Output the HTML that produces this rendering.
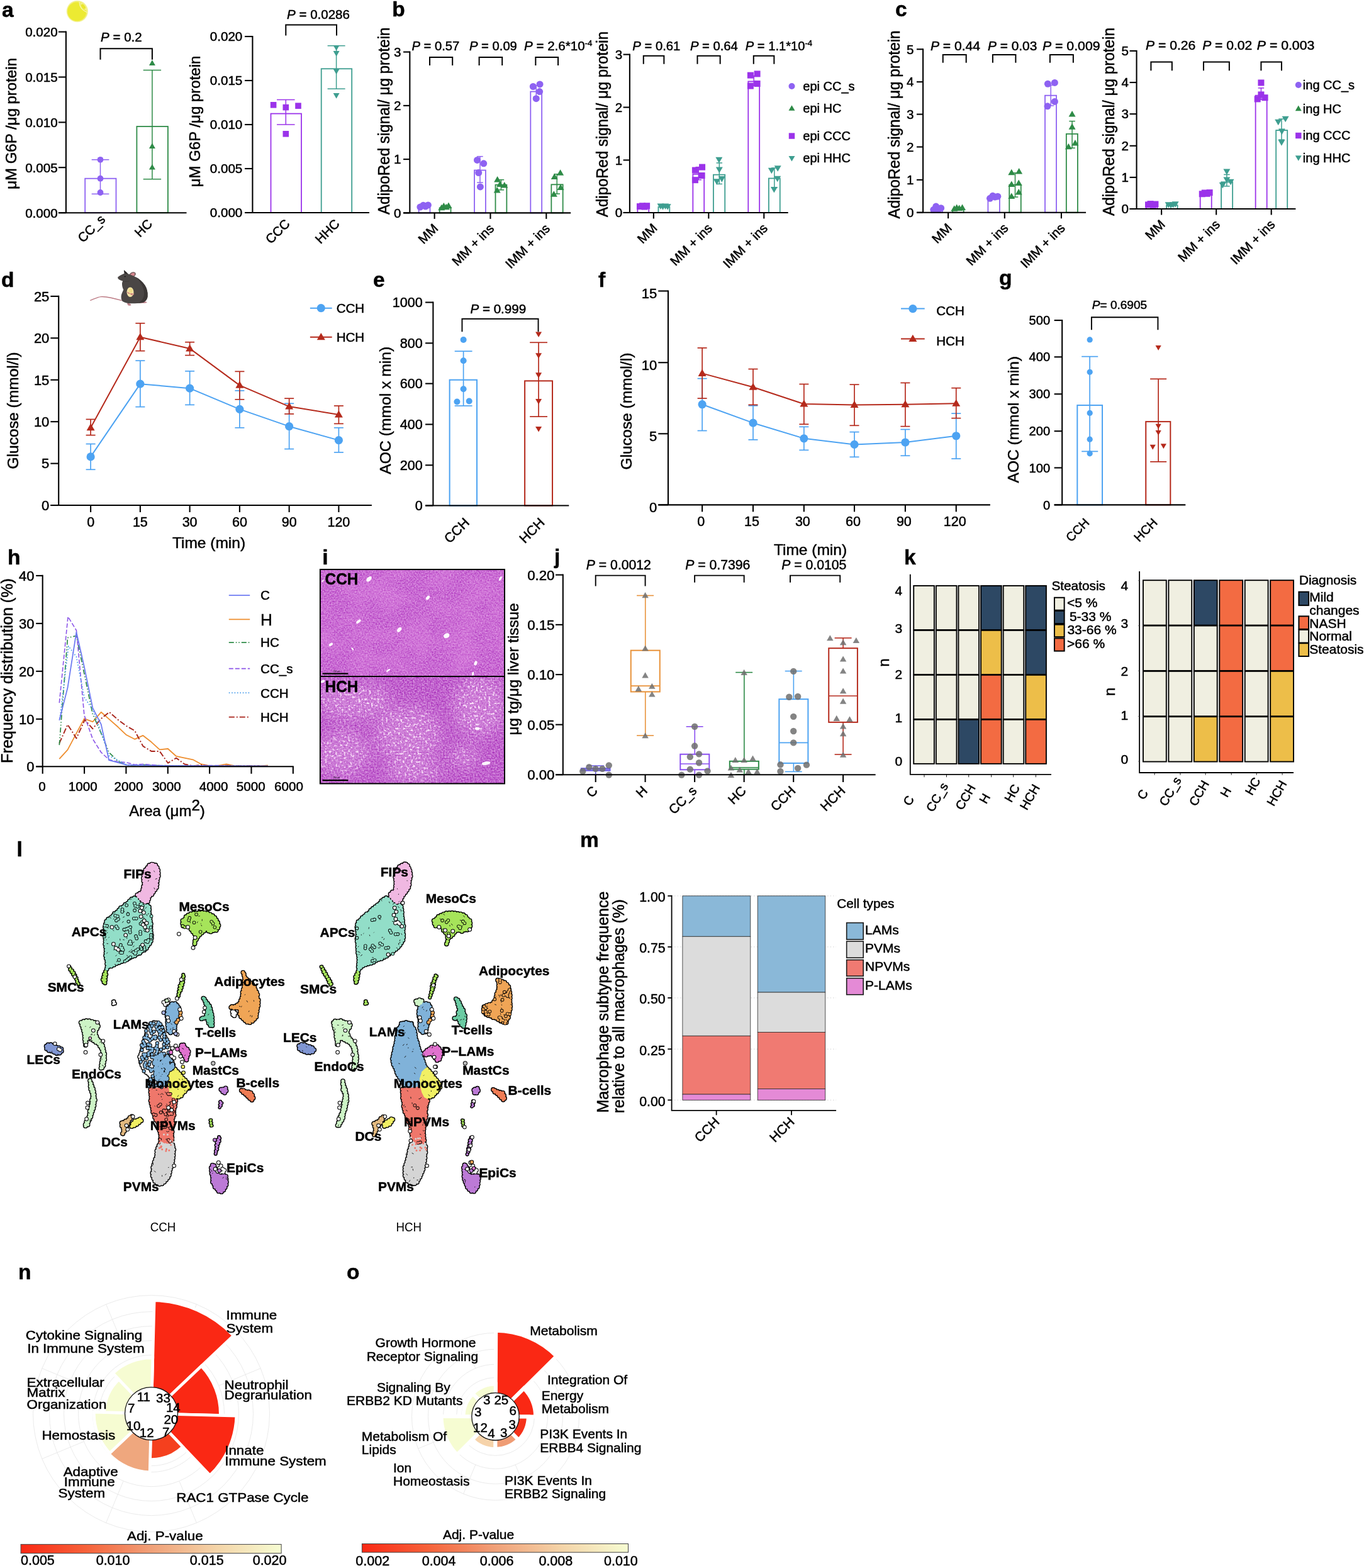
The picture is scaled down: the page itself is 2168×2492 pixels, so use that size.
<!DOCTYPE html>
<html lang="en">
<head>
<meta charset="utf-8">
<title>Figure</title>
<style>
html,body{margin:0;padding:0;background:#fff;}
body{width:2168px;height:2492px;overflow:hidden;}
svg{display:block;font-family:'Liberation Sans', Arial, Helvetica, sans-serif;}
text{stroke:#000;stroke-width:0.5px;stroke-linejoin:round;}
text.ns{stroke:none;}
</style>
</head>
<body>
<svg width="2168" height="2492" viewBox="0 0 2168 2492">
<defs>
<filter id="histA" x="0" y="0" width="100%" height="100%" color-interpolation-filters="sRGB">
<feTurbulence type="fractalNoise" baseFrequency="0.45" numOctaves="2" seed="7" result="n"/>
<feColorMatrix in="n" type="matrix" values="0.30 0 0 0 0.635  0.62 0 0 0 0.105  0.24 0 0 0 0.705  0 0 0 0 1" result="c"/>
<feTurbulence type="fractalNoise" baseFrequency="0.025" numOctaves="2" seed="11" result="lf"/>
<feColorMatrix in="lf" type="matrix" values="0 0 0 0 0.90  0 0 0 0 0.58  0 0 0 0 0.90  0.8 0 0 0 -0.30" result="lfa"/>
<feComposite in="lfa" in2="c" operator="over"/>
</filter>
<filter id="histB" x="0" y="0" width="100%" height="100%" color-interpolation-filters="sRGB">
<feTurbulence type="fractalNoise" baseFrequency="0.42" numOctaves="2" seed="23" result="n"/>
<feColorMatrix in="n" type="matrix" values="0.34 0 0 0 0.585  0.70 0 0 0 0.035  0.27 0 0 0 0.67  0 0 0 0 1"/>
</filter>
<filter id="spkB" x="0" y="0" width="100%" height="100%" color-interpolation-filters="sRGB">
<feTurbulence type="fractalNoise" baseFrequency="0.30" numOctaves="1" seed="5" result="sp"/>
<feColorMatrix in="sp" type="matrix" values="0 0 0 0 0.97  0 0 0 0 0.86  0 0 0 0 0.97  0 10 0 0 -5.75"/>
</filter>
<filter id="blB" x="-30%" y="-30%" width="160%" height="160%"><feGaussianBlur stdDeviation="11"/></filter>
<clipPath id="clB"><rect x="508.9" y="1075" width="293.1" height="170.4"/></clipPath>
<mask id="mkB" maskUnits="userSpaceOnUse" x="500" y="1070" width="310" height="180"><g filter="url(#blB)"><ellipse cx="561.2" cy="1113.4" rx="57.7" ry="29.7" fill="#fff"/><ellipse cx="648.5" cy="1167.6" rx="50.7" ry="45.4" fill="#fff"/><ellipse cx="762.1" cy="1122.2" rx="41.9" ry="47.2" fill="#fff"/><ellipse cx="543.7" cy="1197.3" rx="41.9" ry="34.9" fill="#fff"/><ellipse cx="657.3" cy="1225.3" rx="45.4" ry="17.5" fill="#fff"/><ellipse cx="737.7" cy="1202.6" rx="21.0" ry="17.5" fill="#fff"/></g></mask>

<filter id="wob" x="-5%" y="-5%" width="110%" height="110%"><feTurbulence type="fractalNoise" baseFrequency="0.22" numOctaves="2" seed="4" result="t"/><feDisplacementMap in="SourceGraphic" in2="t" scale="4.2" xChannelSelector="R" yChannelSelector="G"/></filter>
<path id="bL2" d="M169.7 1539.9 172.5 1536.1 178 1535.2 183 1532.3 186.7 1530.3 190.9 1529.5 195.2 1527.1 200.6 1525.6 204 1523.6 209.4 1520.4 213.6 1519.6 216.9 1516.4 222.4 1514.7 223.9 1511.7 228.7 1510.3 231.9 1508.1 233.7 1505.4 235.8 1501.4 239.1 1498.3 240.4 1493.5 241.2 1487.7 240.1 1483.2 239.7 1478.1 239.5 1473.2 240.1 1469 239.1 1464.4 238.4 1461.5 238.7 1456.5 237.3 1452.4 236.8 1447.3 238 1443.5 235.5 1438.6 231.9 1440.5 228.8 1438.8 224.8 1436.5 220.5 1435.1 218.5 1430 214.7 1426.3 213.3 1427.3 209 1429.1 206.5 1431.3 203.1 1435.6 199.4 1437.2 197.1 1440.8 191.9 1442.8 188.6 1447 186.5 1449.5 181.6 1452 180.1 1454.9 176.6 1458.1 171.2 1461.3 169.1 1464.4 167.6 1469.3 166.8 1473.6 167.2 1479.7 167.8 1483.4 166.8 1488.2 167.8 1494.7 166.9 1499.3 167.7 1503.4 168.5 1508.5 168.9 1512.8 167.8 1516.7 168.3 1522.2 170.4 1526.3 169.7 1529 170.5 1536.3Z"/>
<path id="bL3" d="M241.1 1373.6 237.9 1374.1 235.1 1378.1 231.3 1382.5 229.4 1386.1 228.6 1391 227.7 1396.4 228.4 1400.8 229.5 1403.8 227.5 1410.6 226.9 1415.7 226.8 1417 224.1 1418.6 220.6 1420.8 217.5 1422.8 221.8 1426.5 224.6 1430.5 227.7 1432.5 231.3 1434.4 235.4 1432.6 236.4 1428.1 238.1 1423.8 241.9 1421.3 244.4 1416.4 246.6 1413.8 249.2 1409.7 249.5 1405.3 249.8 1401.4 250.4 1396.9 251.7 1393.4 252.2 1389.9 251.3 1385.1 251.4 1381.8 249.4 1378.2 246.7 1374.1Z"/>
<path id="bL4" d="M167.5 1544.1 165.4 1548 164.9 1550.8 162.9 1558.3 166.5 1562.9 166.8 1563.7 167.5 1559.3 167.7 1556.1 168.1 1550.7 169.5 1546.9Z"/>
<path id="bL5" d="M290.3 1463.1 290.1 1469 290.9 1471.8 292 1470.3 296.3 1472.5 300.6 1471 301.7 1471.1 302.2 1475 304.1 1477.8 308.9 1483.6 311.2 1487.4 312.1 1492.9 314.9 1488.1 316.9 1485.8 321.1 1482.3 324.8 1479.2 326.9 1478 327.9 1476.6 328.8 1477.3 333.8 1481.5 337.3 1479.2 343.9 1478.5 347.9 1471.9 346.6 1467.7 345.8 1465.2 342.6 1460.3 340.3 1456.6 334.7 1453.7 329.2 1451.2 326.3 1451.2 322.3 1449.8 317.9 1450.7 313.6 1450.8 309 1451.9 305.9 1451 300.3 1454 296.3 1455.4 293.9 1460.9ZM309.8 1495.4 309.4 1499.4 309.6 1501.6Z"/>
<path id="bL6" d="M110.3 1536.5 111 1540.7 112.3 1543.1 114.9 1546.5 117.1 1550.9 120 1554 122 1558.5 122.6 1562 125.9 1565.5 125 1564.7 124.3 1561.7 122.3 1557.9 121.4 1553.5 118.9 1549 116.5 1544.1 113.6 1540.8 110.6 1537.3Z"/>
<path id="bL7" d="M291.3 1549.2 289.8 1556.2 289.1 1559.1 286.9 1564.2 285.4 1566.9 284.8 1572.4 283.8 1576.8 283.5 1580 282.5 1584.9 283.8 1585.6 284.3 1579.7 286.9 1575.2 288.3 1572 289.2 1567.7 291.1 1562.7 291.3 1558.1 292 1553 292.5 1550Z"/>
<path id="bL8" d="M369.5 1608 370.5 1614.8 371.7 1615 374.1 1612 373.7 1608Z"/>
<path id="bL9" d="M386.3 1545.6 388.9 1553.6 388.5 1558 388.8 1564.6 388 1568 386.5 1573.1 385.5 1576.5 385.4 1581.4 384.8 1585 383.3 1588.8 381.5 1593 380.9 1594.7 378.9 1596 374.9 1598.9 372.1 1599.8 366.5 1599.6 366.2 1600.9 366.6 1600.9 371.3 1602.3 378.5 1601.8 380 1602.8 380.7 1602.8 381.7 1607 381 1611.4 382.6 1615.3 384.6 1617.6 388.8 1620.1 390.2 1623.5 396.4 1625.6 402.7 1622.1 405.1 1618.9 408.1 1615.4 407.5 1612.8 408.6 1607.9 409.1 1603.3 410.4 1599.2 410.6 1594.1 410.8 1589.2 408.6 1585.1 409.5 1580.1 408.4 1577.7 405.4 1572.1 403.9 1566.5 399.8 1564 397 1561 394.3 1557 389.5 1554.9 388.1 1550.4 387.8 1547.1Z"/>
<path id="bL10" d="M323.3 1586.6 326.9 1592.9 327.1 1596.1 329.1 1601 329 1604 328.9 1607.6 328.6 1611.7 327.4 1615.8 326.2 1617.4 321.1 1618.3 319.3 1617.9 320.9 1619.8 326.4 1616.9 327.7 1617.3 328.3 1617.5 330.5 1621.4 331.4 1625.9 335.7 1631.6 337.6 1630 337.6 1626.8 337.4 1621.9 337.4 1617.5 337.1 1613.8 336.2 1610.6 334.7 1605 333.9 1600.3 331.7 1596.6 327.7 1592.4 323.8 1585.9Z"/>
<path id="bL11" d="M179.9 1591.6 179.1 1594 180.1 1596.5 182.1 1596.7 183.1 1594.4 182 1591.2Z"/>
<path id="bL12" d="M128.6 1625.1 130.7 1631 132 1634.6 133.4 1640.1 134.6 1645.4 134.5 1650.9 135.2 1655.5 135.9 1661.1 137 1655.3 137 1651.5 138.7 1649.9 139.6 1650.2 144.2 1651.2 147.7 1653.2 151.1 1655.9 156 1658 158.1 1661.4 161.1 1665.7 163.1 1670.6 164.3 1676.6 162.8 1681.6 161.9 1686.1 161.1 1691.8 160.8 1695.5 160.4 1698.5 160.4 1699.2 164.4 1694.5 165 1688.9 166.4 1683.7 166 1679.1 166.3 1674.3 164.3 1668.3 164.1 1664.7 162.9 1661.4 161.8 1657.8 157.1 1653.3 153.2 1649 153.4 1645.5 150.8 1641.1 152.1 1638.9 153.1 1636.2 156.2 1632.4 155.6 1627.2 150.5 1624.8 145.6 1623.4 140.2 1622.1 135.4 1622.3 132.4 1623.4Z"/>
<path id="bL13" d="M142.9 1717.4 143.6 1721.8 143.5 1728 144.7 1733.3 145.9 1735.7 147.8 1741.6 146.9 1746 145.4 1749.4 146.4 1754.7 144.1 1759.1 143.8 1762.2 142.2 1767.1 142.4 1772 140.9 1776.3 138.4 1780.2 136.6 1784.2 134.7 1790.3 135.3 1789.6 139.5 1788.4 140.1 1783.5 142.9 1778.1 144.7 1774 145.8 1768.6 148 1762.9 149.5 1757.9 149.4 1753.7 151.2 1748.8 149.8 1744.6 150.1 1741.6 149.2 1735.6 148.4 1731.3 146.5 1726.9 145.3 1722.5Z"/>
<path id="bL14" d="M73.6 1662.7 72.9 1665.7 77.4 1669.5 81.7 1670.3 86.1 1672.1 89.5 1674.5 95.8 1673.3 99.2 1668.5 97.9 1667.4 94.3 1665.2 89.9 1664.7 86.8 1662.8 83.4 1661.1 79.5 1659.7 76.8 1660.1Z"/>
<path id="bL15" d="M272.9 1595.4 270.4 1598.8 267.1 1601.1 266.4 1605.2 264.9 1610 265 1613.5 266.4 1618.8 266.1 1623.4 266.3 1627.4 267.1 1633.4 267.2 1637.7 271 1641.4 277.6 1638.7 278.3 1634.1 277.3 1629.9 280.1 1624.9 280.4 1620.1 282 1617.5 283.3 1612.3 284.1 1607.3 284.5 1602.2 281.3 1597.6 279.6 1594.8 275.6 1594.9Z"/>
<path id="bL16" d="M239.4 1628.1 236.3 1632.8 236.1 1636.2 233.7 1639.4 233 1643.8 231.2 1649.7 229.7 1654.1 228.5 1659.2 226.8 1665.2 225.4 1670.4 224.1 1675.3 221.9 1678.9 223.6 1684.6 224.2 1689.6 226.2 1694.2 228.7 1699 231.3 1702.9 234.6 1705.9 237.9 1708.3 239.8 1711.2 240.5 1713.5 238.9 1717.3 237.9 1721.2 239.5 1725.8 242.2 1725.2 245.9 1726.6 250.7 1727.1 255.2 1726.1 259.6 1725.6 264.9 1722.3 264.1 1718 263.4 1712.2 265.5 1708.5 267.1 1705.2 268.1 1701.6 271.2 1697.6 275.9 1695.4 274.8 1690.4 272.5 1685.7 271.6 1682.7 270.7 1677.6 269.6 1673.9 268.6 1669.7 268.3 1665.2 266.4 1660.4 265.5 1655.8 264.2 1651.4 262.4 1648.4 260.3 1644.6 259.3 1638.9 257.4 1634.5 254.7 1629.5 251.8 1627.7 247.4 1624.7 243.9 1625.4Z"/>
<path id="bL17" d="M288.3 1661.5 286.2 1667.2 290.7 1673.6 292.3 1677.1 295.1 1681.7 295.8 1685.1 296.4 1684.8 297.1 1680.5 299.1 1675.6 299.9 1670 297 1666.9 294.4 1665.6 291.1 1659.2Z"/>
<path id="bL18" d="M239.3 1731.1 239.3 1735.1 240 1740.8 240.4 1745.5 239.4 1748.9 240.3 1753.4 241.7 1758.7 242.6 1762.3 242.6 1766.5 245.3 1771.2 246.1 1776.7 248 1780.2 250.6 1782.8 252.1 1786.4 252.3 1790.5 253.2 1796 254.3 1799.5 255.6 1804.7 254.9 1811.4 259.3 1813.7 262.3 1815.5 266.6 1816.4 271.1 1816.1 273.7 1811.6 273.5 1808.4 272.8 1804.1 273.8 1799.5 273 1794.1 274.3 1790.2 275 1784.4 273.8 1780.2 275.2 1775.3 276.6 1772.1 276.3 1768 276.1 1763.9 277.9 1759.7 278.5 1753.2 279.5 1748.9 276.3 1747.5 271.8 1746.7 272.4 1745.3 269.2 1740.9 267 1737 267.3 1732.7 266.1 1728.8 262.6 1730.4 256 1731 251 1732 246.7 1731.1 243.1 1730.5Z"/>
<path id="bL19" d="M278 1699 274.5 1703.2 273.3 1705.1 270.7 1708.9 269.5 1715.2 269.4 1719.2 269.8 1726.1 270.5 1729.5 272 1735.4 273.6 1738.4 276.6 1741.4 281.7 1744.3 287.9 1741.9 290.4 1737 293.4 1735.2 296.1 1731.1 300.5 1728.4 297.8 1724.1 297.4 1720.1 294.6 1716.9 291.6 1714.4 287.6 1709.8 285.3 1706.7 283.1 1704.1Z"/>
<path id="bL20" d="M254.7 1816.4 253.2 1818.8 251.8 1822.6 249.8 1827.2 248.8 1831 249.4 1835.1 248.5 1840 246.7 1843 244.9 1848.7 244 1852.9 242.9 1856 243.7 1860.7 242.2 1863.6 242.7 1869.4 244.4 1873.2 246.4 1877.8 249.5 1880.1 255.8 1883 259.2 1879.7 262 1877.8 265.6 1873.2 268.3 1869.8 269.8 1863.9 270 1860.5 271.7 1856 273.8 1850.4 274.2 1846.9 275 1840.5 275.5 1836.8 275.5 1831 276.6 1825.9 275.1 1823 275.4 1819.2 273.1 1819.2 272.7 1821.3 266.4 1820.8 261.9 1820.4 257.8 1818.2Z"/>
<path id="bL21" d="M193.4 1784.7 193.7 1789.5 197.3 1795.6 196.7 1796.6 194.7 1802 194.2 1803.8 196.2 1799.9 198.3 1796.8 198.4 1792.7 201.3 1791 202.8 1787.5 203.6 1782.7 206.4 1778.6 209.9 1774.1 209.3 1775.1 206.5 1776 204.3 1779.5 200.7 1781.1 196.4 1783.6Z"/>
<path id="bL22" d="M210.7 1786.3 208.9 1790 210.3 1790.6 215.9 1787.7 219 1786.1 222.8 1782.2 225.4 1780.4 223.5 1778.8 221 1778.2 218.3 1780.8 214.2 1781.5Z"/>
<path id="bL23" d="M383.7 1732.9 384.9 1735.1 389.7 1738.5 395.8 1744.1 398.6 1747.4 400.9 1748.5 402.7 1745.5 401 1739.6 397.2 1734.9 392.1 1736.2 389.5 1733.5 384.7 1732.7Z"/>
<path id="bL24" d="M351.3 1731.5 354 1734.7 354.5 1737 358.3 1736.8 360 1732.5 358.7 1729.3 355.6 1731Z"/>
<path id="bL25" d="M349.6 1751.1 349.3 1755.2 349.1 1760.4 350.1 1760.6 352.8 1753.4 351.5 1749.9Z"/>
<path id="bL26" d="M348.1 1807.2 344.9 1813.6 343.9 1818.5 343.3 1821.5 344 1824.8 342.8 1829.8 342.7 1834.5 342.6 1833.6 343.9 1828.7 345.4 1826.2 345.9 1819.9 348.7 1814.5 348.7 1810.8 349.5 1807.8Z"/>
<path id="bL27" d="M334 1780.2 334.4 1787.3 336.2 1791 337.2 1790.4 336 1783.9 335.6 1779.9Z"/>
<path id="bL28" d="M337.6 1851.8 335.7 1856 336 1861.1 336.3 1864.8 337.4 1867.5 338.3 1872.9 337.3 1877.5 340.3 1882.2 341 1886 344.8 1889.3 346.7 1893 352 1894.2 354.8 1892.3 357.3 1888 359 1885 360.3 1880.4 359.6 1875.4 359.6 1870.1 357.5 1867.7 354 1867.5 350.6 1869.4 347.2 1867.1 343.8 1866.7 342.6 1864.6 342 1860.6 341.9 1855.7 339.5 1850.6Z"/>
<path id="bR29" d="M570.2 1541.3 574.2 1536.6 577.8 1534.2 583.4 1532.4 587 1531.2 593 1530 595.8 1527.4 600.8 1524.9 606 1523.9 609 1522.3 614.3 1519.6 618.2 1516.4 621.6 1514.1 625 1511.8 628.1 1509.5 632 1506.7 633.9 1504.1 636.4 1501.3 638.4 1497.7 641.1 1493.1 641.4 1487.9 641.2 1483.3 640.1 1479.1 641.9 1473.3 640.9 1469.3 639.6 1465.8 640.5 1460.8 638.3 1456.4 639.4 1451.8 638.5 1448 638.4 1442.5 636.1 1437.9 631.6 1440.6 629.8 1438.9 624.9 1437.3 621.8 1433.7 619.2 1429.9 614.1 1426.6 613 1427.7 609.2 1429.6 606.4 1431.4 603.8 1435.7 601 1437.5 596.1 1441.4 593.1 1443.5 589.5 1446.4 587.5 1450.4 582.3 1452.7 579.6 1455.8 576.9 1457 573.4 1461.8 569.1 1465.2 568 1469.2 567.3 1473.1 567.8 1479.5 568.6 1483 568.3 1489.4 566.8 1493.8 568.7 1498.9 568.2 1504.5 569.1 1507.7 568.4 1512.5 569.5 1516.1 570.5 1522 569.9 1525.7 570.6 1529 569.4 1534.9Z"/>
<path id="bR30" d="M643 1373.2 637.5 1375.8 634.6 1377.7 631.1 1383 630 1387.5 627.6 1392.4 628.6 1395.1 629 1399.7 629.4 1404.5 628.5 1410 628.5 1416.1 626.6 1416.1 624 1417.4 620.9 1420.1 619.6 1423.5 622.8 1426.5 625.5 1430.7 629.2 1432.4 631.2 1434.9 636.2 1432.2 637.8 1428.5 639.3 1425.1 642.1 1421 645.4 1416.8 647.2 1414 649.4 1410.4 650.6 1405.6 650.2 1403 651.4 1397.4 652.7 1393 652.6 1389 651.2 1384.9 651.8 1381.7 648.7 1378.6 647.7 1373.8Z"/>
<path id="bR31" d="M568.6 1544.6 567.7 1547.2 564.7 1551 564.6 1558.2 566.2 1563.2 566.9 1562.1 566.9 1558.6 568.6 1555.1 569 1550.5 570.1 1545.1Z"/>
<path id="bR32" d="M689.6 1463.2 690.9 1470 691.3 1471 693.7 1471.9 696.5 1471.2 701.1 1470.2 702.5 1472.6 704.5 1474.9 704.8 1478.6 709.5 1483.5 711.5 1486.6 711.1 1492.3 716 1488.6 719.1 1486.2 722.6 1481.5 725.3 1479.4 726.6 1478.4 728.2 1477.6 729.5 1478.1 733.5 1480.7 737.5 1478.1 745.9 1477.5 747.4 1472 747.3 1467.8 747.7 1463.9 743.2 1460.6 740.8 1457 736 1453.6 730.9 1452.2 725.5 1451.9 722.6 1451.1 718.7 1450.7 714.7 1451 709.8 1451.1 705.9 1452.4 701.3 1454.5 696.1 1457 694.3 1459.9ZM711.3 1496 710.3 1498.9 709 1502.3Z"/>
<path id="bR33" d="M511.4 1536.4 512.4 1539.9 512.5 1542.6 515.2 1547.4 517.9 1551.2 520 1554.9 521.2 1557.4 522.8 1561.5 525.7 1565.8 527.5 1565.4 525.8 1561.1 523.8 1556.4 521.3 1554 518.8 1548.5 516.4 1544.6 514 1540.2 510.5 1536.5Z"/>
<path id="bR34" d="M692.4 1550.4 689.8 1555.7 689.3 1559.2 687.2 1562.9 685.9 1568.4 686 1572 685.2 1575.5 684.2 1580.7 683 1584.5 683.4 1585.9 684.8 1581.5 687.1 1575.2 688.7 1571.6 690 1565.8 690.1 1561.6 691.2 1557 693.9 1552.8 694.2 1550.5Z"/>
<path id="bR35" d="M791 1557.7 793.2 1563.3 792.3 1568.5 792.6 1571.5 790.6 1577.4 789.4 1579.6 788.7 1583.5 788.1 1587.7 784.5 1592.8 781.5 1596.3 775.9 1596.7 771.3 1599.3 768.2 1600.6 768.8 1605.3 769.2 1608.5 774.5 1614.3 776.7 1613.5 781.7 1615.3 785 1617.9 789.2 1618 793.6 1621.7 797.2 1623.5 800.7 1624.8 805.1 1624.9 805.7 1619.7 808.7 1616.1 808.3 1610.6 810.9 1606.3 810.7 1601 811.9 1597.9 810.3 1593.5 810.6 1589 810.9 1584.6 810.7 1578.5 809.4 1574.2 809 1569.1 805.4 1564.2 801.9 1561.1 796.8 1559.2Z"/>
<path id="bR36" d="M724.7 1587.6 727.2 1592.9 727.8 1597.5 729 1600.5 730.3 1605.5 728.3 1608.1 728.7 1613.1 728.5 1616 726.4 1617.1 721.7 1618.5 721.1 1619.6 722.8 1619.4 726.1 1617 727 1617 729.5 1618.4 729.9 1623.1 731.7 1625.5 736 1631.7 738.4 1630.2 737.5 1627.2 739.1 1621.8 739.1 1618.7 739.1 1613.4 736.9 1609.9 736.2 1604.9 733.2 1600.6 730.9 1595.6 729.6 1591.6 726.2 1587.5Z"/>
<path id="bR37" d="M580.9 1591.4 579.6 1594.4 581 1596.5 582.2 1596.8 583.6 1594.1 582.2 1591.2Z"/>
<path id="bR38" d="M529.9 1625.5 531 1631.3 532.3 1636.2 534.1 1639.4 534 1645.3 534.5 1650.4 536.4 1654.4 535.7 1660.3 537.8 1656.8 538.2 1652.5 539.9 1650.2 540.4 1650.3 544.3 1650.7 549 1653.5 552.1 1655.1 556.4 1657.1 558.9 1660.6 562.3 1665.9 562.4 1671.4 564.3 1675.6 563.4 1682.4 563.1 1687.1 562.6 1691.8 562.3 1695.1 561.4 1699.4 562 1699.4 565 1694.4 566.2 1689.9 567.1 1684.4 567.2 1678.8 565.8 1673.8 565.8 1670 565.2 1665.6 563.3 1661.8 562.1 1657.2 558.7 1653.6 554.6 1648.6 553.2 1644.5 551.9 1641 550.9 1639.4 553.4 1635.6 556.9 1631.3 556.5 1626.1 549.8 1625.3 545.4 1624 541.9 1622.2 537.2 1623.1 531.9 1622.6Z"/>
<path id="bR39" d="M545 1718.1 544.6 1722.6 545.8 1727.9 544.9 1732.2 547.4 1736.2 548.5 1739.9 548 1745.3 546.9 1750.5 546.1 1754 545.7 1758.9 544.5 1762.2 544.1 1767.7 541.9 1771.7 540.3 1775.5 539.8 1780.1 537.4 1785.4 536.3 1789.3 536.3 1790.1 538.8 1788.7 541.6 1783 545 1778.5 545.4 1774 545.9 1769.1 548.6 1762.8 549.1 1759.5 550.3 1753.6 551.6 1749.1 551.2 1744.7 551 1740.9 549.5 1735.6 549.1 1731.9 546.9 1726.4 546 1722.7Z"/>
<path id="bR40" d="M475.1 1662.3 475.5 1666.6 478.7 1669.3 482.9 1671.1 487.2 1672.7 491.5 1673.1 496.7 1671.8 499.8 1669.3 497.9 1666.2 494.2 1663.6 489.3 1663.2 484.5 1660.3 478.5 1659.7Z"/>
<path id="bR41" d="M661 1591.2 661.4 1594.3 664.1 1597 669.4 1595.5 671.1 1594.3 670.6 1590.1 667.5 1588.8Z"/>
<path id="bR42" d="M673.3 1595.8 670.8 1598.1 667.7 1600 666.1 1604.6 665.4 1608.8 665.8 1614.8 667.4 1619.3 667.2 1623.8 667.6 1628 666.9 1631.5 667.3 1636.5 672.4 1641.3 676.8 1639.6 678 1633.8 679 1628.7 680.3 1625.4 680.9 1620.8 681.7 1617.2 682.7 1612.1 684.2 1606.1 684.2 1602.8 683.4 1598.5 680.6 1595.1 677.7 1594.7Z"/>
<path id="bR43" d="M637.8 1626.7 636.5 1631.3 633.8 1634.3 634.1 1639.2 632 1642 630.4 1647.6 630.7 1650.7 629.6 1655.7 629.4 1659.7 627.2 1663.9 627.6 1668.2 625.7 1671.6 625.4 1676.9 624.1 1679.9 623.6 1684 624.9 1688.9 625.7 1693.1 628 1696.4 630 1701.1 631.4 1707.6 633.9 1709.4 635.4 1713.1 638.1 1716.9 640.9 1721.7 642 1723.9 648.7 1725.2 654.9 1726.3 658.6 1726 664.5 1722.8 667.5 1720.1 667.5 1715.1 669.5 1710.2 670.3 1705.3 673.1 1699.7 676.4 1696.4 674.9 1693 673.3 1688.8 671.8 1682.9 669.1 1680.3 669.1 1674.5 667 1670.6 666.1 1667.5 664.1 1661.4 663.6 1657.4 662.1 1654.3 660.4 1648.6 660.5 1646 659.8 1641.9 659 1636.2 655.1 1632.1 654 1626.7 650.1 1626.6 646.7 1624.5 642.2 1626Z"/>
<path id="bR44" d="M674 1675 674.6 1676.8 678.7 1676.4 685 1674 686 1674.9 689 1677.7 691.7 1681.3 695.2 1685.7 699.4 1682.9 699.7 1679.2 700.7 1674.9 700.3 1670.4 698.5 1667.6 696.7 1664.3 693.1 1662.6 686.2 1664.2 682.7 1667 679.9 1668 676.1 1671.9Z"/>
<path id="bR45" d="M639.4 1731.1 639.6 1736.8 640.1 1740.4 639.8 1745.4 640.9 1748.7 642.2 1754.4 641.2 1757.3 642.5 1762.5 643.2 1766.4 646 1771.3 647 1776.5 648.3 1778.7 649.8 1782.4 652.1 1787.4 652.9 1791.9 654.2 1795.4 654.2 1800.2 654.8 1805.8 656.4 1810.8 660 1812.6 663 1816.3 666.4 1815.2 672 1816.2 674.6 1813.4 673.7 1808.5 673.7 1805.1 673 1800.7 673.5 1795.1 674 1790.5 675.2 1785 674.8 1780.2 676.8 1776.1 677.3 1770.8 676.1 1767.9 677 1763 677.4 1758.9 678.7 1753.1 680 1749.5 676.3 1747.9 674.1 1745.7 671.6 1744.3 671.4 1740.7 669 1736.9 666.7 1733.1 666.1 1730.1 661.7 1731.4 657.9 1730.8 651 1731.3 647.6 1731.8 643.9 1730.6Z"/>
<path id="bR46" d="M678.9 1698.8 675.7 1701.8 672.6 1704.2 670.8 1710.5 670.3 1715.4 670.9 1719.6 670.4 1725.7 672.5 1730.3 674.2 1735.5 674.5 1737.6 677.3 1741.5 681.3 1744.4 688.7 1741.5 690.8 1738.1 695.1 1734.6 697.2 1730.7 700 1726.9 699.6 1723.4 697.1 1720.9 694.1 1716.7 691.1 1714 689.6 1711.3 685.6 1706.2 683.6 1703.3Z"/>
<path id="bR47" d="M654.7 1816.2 653 1817 653 1822 651.3 1825.9 650 1830.2 650 1835.4 648.2 1839.2 647.3 1843.9 645.9 1848.6 644.8 1851.5 643 1856.7 643.8 1860.5 643.5 1864.5 643.7 1868.8 645.6 1873.1 648.1 1877.8 651.2 1879.3 657 1882.5 660.4 1880.1 662.8 1879.3 665.7 1873.1 668.4 1869.6 669.5 1864.3 672.3 1860.7 672.6 1855.7 673.5 1851.8 674.9 1845.2 675.6 1841.6 675.3 1835.3 676.5 1831.8 676.1 1825.6 676.8 1822.9 674.4 1817.8 674 1820.3 672.7 1821.1 666.4 1820.4 662 1820.1 657.4 1819.3Z"/>
<path id="bR48" d="M594.1 1785.8 595.6 1790.3 596.9 1795.4 597.1 1796.3 594.9 1802.4 594.8 1803.4 596 1800.4 597.5 1796 600.5 1793.7 601.1 1790 603.6 1786.2 605.3 1784.5 608 1778.8 610 1774.9 611 1773.9 606.3 1776.6 604.8 1778.3 602.1 1782.5 597.3 1783.8Z"/>
<path id="bR49" d="M610.6 1786.7 609.9 1790.1 612.2 1790.1 617.2 1787.9 620.6 1786.1 622.3 1782.3 624.7 1778.7 625.2 1779.1 622.1 1778.2 617.8 1781.1 615.5 1781.9Z"/>
<path id="bR50" d="M783.9 1731.7 786 1735.3 791.6 1738.9 795.7 1743.7 800 1748 801.8 1747.9 802.3 1746.2 800.7 1739 798.9 1736.2 792.2 1735.8 789.3 1733.4 786.3 1732.9Z"/>
<path id="bR51" d="M753.2 1732.4 753.5 1735.7 755 1738.2 758.5 1736.5 760.7 1732.2 759.5 1729.7 756.2 1729.9Z"/>
<path id="bR52" d="M751.7 1749.8 750.4 1754.9 749.9 1758.8 751.8 1759.5 753 1753.7 753.4 1750Z"/>
<path id="bR53" d="M748.6 1808 746.3 1813.1 745.9 1818.5 745.3 1821.4 744.1 1825.3 743.8 1829.2 743.4 1833.7 742.6 1834.6 744.6 1830.3 746.2 1825.7 747.2 1819.6 748.3 1815.7 748.9 1810.5 749.1 1807.5Z"/>
<path id="bR54" d="M734.6 1780.2 735.2 1787.2 736.7 1791.6 737.2 1790.9 736.5 1784.1 736.2 1779.9Z"/>
<path id="bR55" d="M738.4 1851.5 736.4 1857.1 737.3 1860.4 737.7 1864.5 737.3 1867.5 737.6 1872.5 739.1 1877.5 740.9 1881.2 742.8 1886.8 745.5 1890.1 748.7 1893.2 753 1894.1 755.7 1890.5 757.6 1888.8 760 1884.2 759.8 1879.6 760.9 1874.5 761.3 1870.9 757.9 1867.3 755.3 1868.3 751.7 1868.7 746.9 1868.7 744.5 1865.7 743.8 1864.1 742.5 1860.1 742.3 1855 739.2 1851.6Z"/>
<linearGradient id="cbn" x1="0" x2="1" y1="0" y2="0"><stop offset="0" stop-color="#FA2814"/><stop offset="0.25" stop-color="#F6623A"/><stop offset="0.5" stop-color="#F0A078"/><stop offset="0.75" stop-color="#F4D4A8"/><stop offset="1" stop-color="#F6FCD2"/></linearGradient>
<linearGradient id="cbo" x1="0" x2="1" y1="0" y2="0"><stop offset="0" stop-color="#FA2814"/><stop offset="0.25" stop-color="#F6623A"/><stop offset="0.5" stop-color="#F0A078"/><stop offset="0.75" stop-color="#F4D4A8"/><stop offset="1" stop-color="#F6FCD2"/></linearGradient>
</defs>
<rect width="2168" height="2492" fill="#fff"/>
<g id="panel_a">
<text font-size="33.5" font-weight="bold" x="3" y="27" >a</text>
<circle cx="122.8" cy="18" r="17.3" fill="#F6F4AE" />
<circle cx="122.8" cy="18" r="16.2" fill="#F1EE6E" />
<circle cx="122.3" cy="18.4" r="14.9" fill="#ECEA32" />
<path d="M126.2 3.6 C126.6 9 129 13.4 132.4 16 C134.4 17.6 136.6 18.8 138.6 19.6" fill="none" stroke="#F6F4A8" stroke-width="1.5" stroke-linecap="round"/>
<path d="M127.6 3.9 C131 4.6 134.4 7.2 136.6 10.6 C137.8 12.6 138.6 15 138.8 17.6 C135.8 16.6 132.6 14.6 130.6 11.6 C129 9.2 128 6.6 127.6 3.9 Z" fill="#F3F08C" />
<ellipse cx="132.6" cy="10.4" rx="4.4" ry="2.3" fill="#E9E62C" transform="rotate(50 132.6 10.4)"/>
<rect x="135.2" y="283.7" width="49.3" height="54.5" fill="none" stroke="#8E62F2" stroke-width="1.8" />
<rect x="217.4" y="201" width="49.5" height="137.2" fill="none" stroke="#2E8B47" stroke-width="1.8" />
<line x1="159.5" y1="253.8" x2="159.5" y2="308.3" stroke="#8E62F2" stroke-width="1.5" />
<line x1="145.65" y1="253.8" x2="173.35" y2="253.8" stroke="#8E62F2" stroke-width="1.5" />
<line x1="145.65" y1="308.3" x2="173.35" y2="308.3" stroke="#8E62F2" stroke-width="1.5" />
<line x1="241.9" y1="111.5" x2="241.9" y2="284.7" stroke="#2E8B47" stroke-width="1.5" />
<line x1="227.7" y1="111.5" x2="256.1" y2="111.5" stroke="#2E8B47" stroke-width="1.5" />
<line x1="227.7" y1="284.7" x2="256.1" y2="284.7" stroke="#2E8B47" stroke-width="1.5" />
<circle cx="159.5" cy="253.8" r="4.9" fill="#8E62F2" />
<circle cx="159.5" cy="283.7" r="4.9" fill="#8E62F2" />
<circle cx="159.5" cy="306" r="4.9" fill="#8E62F2" />
<polygon points="241.9,95.3 236.9,103.96 246.9,103.96" fill="#2E8B47" />
<polygon points="241.9,227.3 236.9,235.96 246.9,235.96" fill="#2E8B47" />
<polygon points="241.9,260.8 236.9,269.46 246.9,269.46" fill="#2E8B47" />
<line x1="92.9" y1="338.2" x2="296.5" y2="338.2" stroke="#000" stroke-width="2.1" />
<line x1="104.9" y1="49.55" x2="104.9" y2="338.2" stroke="#000" stroke-width="2.1" />
<line x1="92.9" y1="50.6" x2="104.9" y2="50.6" stroke="#000" stroke-width="2.1" />
<text font-size="20.6" text-anchor="end" x="91.7" y="57.9" >0.020</text>
<line x1="92.9" y1="122.5" x2="104.9" y2="122.5" stroke="#000" stroke-width="2.1" />
<text font-size="20.6" text-anchor="end" x="91.7" y="129.8" >0.015</text>
<line x1="92.9" y1="194.4" x2="104.9" y2="194.4" stroke="#000" stroke-width="2.1" />
<text font-size="20.6" text-anchor="end" x="91.7" y="201.7" >0.010</text>
<line x1="92.9" y1="266.2" x2="104.9" y2="266.2" stroke="#000" stroke-width="2.1" />
<text font-size="20.6" text-anchor="end" x="91.7" y="273.5" >0.005</text>
<line x1="92.9" y1="338.2" x2="104.9" y2="338.2" stroke="#000" stroke-width="2.1" />
<text font-size="20.6" text-anchor="end" x="91.7" y="345.5" >0.000</text>
<polyline points="159.5,94.7 159.5,77.3 241.9,77.3 241.9,94.7" fill="none" stroke="#000" stroke-width="2" />
<text font-size="20.5" text-anchor="middle" x="192.9" y="66.3" ><tspan font-style="italic">P</tspan> = 0.2</text>
<text font-size="24" text-anchor="middle" transform="translate(26.4 196.5) rotate(-90)" >μM G6P /μg protein</text>
<text font-size="20.6" text-anchor="end" transform="translate(168.5 350) rotate(-45)" >CC_s</text>
<text font-size="20.6" text-anchor="end" transform="translate(243.5 357) rotate(-45)" >HC</text>
<rect x="430.5" y="180.6" width="48.5" height="157.4" fill="none" stroke="#9B33EA" stroke-width="1.8" />
<rect x="510.7" y="109.3" width="48.5" height="228.7" fill="none" stroke="#3E9E90" stroke-width="1.8" />
<line x1="454.3" y1="158.5" x2="454.3" y2="198" stroke="#9B33EA" stroke-width="1.5" />
<line x1="440.05" y1="158.5" x2="468.55" y2="158.5" stroke="#9B33EA" stroke-width="1.5" />
<line x1="440.05" y1="198" x2="468.55" y2="198" stroke="#9B33EA" stroke-width="1.5" />
<line x1="534.6" y1="72.7" x2="534.6" y2="141.2" stroke="#3E9E90" stroke-width="1.5" />
<line x1="520.6" y1="72.7" x2="548.6" y2="72.7" stroke="#3E9E90" stroke-width="1.5" />
<line x1="520.6" y1="141.2" x2="548.6" y2="141.2" stroke="#3E9E90" stroke-width="1.5" />
<rect x="429.8" y="162" width="9.6" height="9.6" fill="#9B33EA" />
<rect x="449.5" y="165.8" width="9.6" height="9.6" fill="#9B33EA" />
<rect x="469.2" y="163.4" width="9.6" height="9.6" fill="#9B33EA" />
<rect x="449.5" y="208" width="9.6" height="9.6" fill="#9B33EA" />
<polygon points="534.6,80.6 529.6,71.94 539.6,71.94" fill="#3E9E90" />
<polygon points="534.6,89.7 529.6,81.04 539.6,81.04" fill="#3E9E90" />
<polygon points="534.6,118.2 529.6,109.54 539.6,109.54" fill="#3E9E90" />
<polygon points="534.6,156.7 529.6,148.04 539.6,148.04" fill="#3E9E90" />
<line x1="389" y1="338" x2="587" y2="338" stroke="#000" stroke-width="2.1" />
<line x1="401.4" y1="56.95" x2="401.4" y2="338" stroke="#000" stroke-width="2.1" />
<line x1="389" y1="58" x2="401.4" y2="58" stroke="#000" stroke-width="2.1" />
<text font-size="20.6" text-anchor="end" x="385.3" y="65.3" >0.020</text>
<line x1="389" y1="128" x2="401.4" y2="128" stroke="#000" stroke-width="2.1" />
<text font-size="20.6" text-anchor="end" x="385.3" y="135.3" >0.015</text>
<line x1="389" y1="198" x2="401.4" y2="198" stroke="#000" stroke-width="2.1" />
<text font-size="20.6" text-anchor="end" x="385.3" y="205.3" >0.010</text>
<line x1="389" y1="268" x2="401.4" y2="268" stroke="#000" stroke-width="2.1" />
<text font-size="20.6" text-anchor="end" x="385.3" y="275.3" >0.005</text>
<line x1="389" y1="338" x2="401.4" y2="338" stroke="#000" stroke-width="2.1" />
<text font-size="20.6" text-anchor="end" x="385.3" y="345.3" >0.000</text>
<polyline points="454.3,56.4 454.3,39.4 535,39.4 535,56.4" fill="none" stroke="#000" stroke-width="2" />
<text font-size="20.5" text-anchor="middle" x="506" y="30.4" ><tspan font-style="italic">P</tspan> = 0.0286</text>
<text font-size="24" text-anchor="middle" transform="translate(318.4 193) rotate(-90)" >μM G6P /μg protein</text>
<text font-size="20.6" text-anchor="end" transform="translate(462 357) rotate(-45)" >CCC</text>
<text font-size="20.6" text-anchor="end" transform="translate(541 357) rotate(-45)" >HHC</text>
</g>
<g id="panel_b">
<text font-size="33.5" font-weight="bold" x="623.21" y="25.89" >b</text>
<rect x="665.62" y="328.12" width="17.86" height="10.27" fill="none" stroke="#8E62F2" stroke-width="1.8" />
<rect x="698.66" y="330.36" width="17.86" height="8.04" fill="none" stroke="#2E8B47" stroke-width="1.8" />
<rect x="754.02" y="270.54" width="17.86" height="67.86" fill="none" stroke="#8E62F2" stroke-width="1.8" />
<rect x="787.5" y="293.75" width="17.86" height="44.64" fill="none" stroke="#2E8B47" stroke-width="1.8" />
<rect x="843.3" y="145.54" width="17.86" height="192.86" fill="none" stroke="#8E62F2" stroke-width="1.8" />
<rect x="876.34" y="293.3" width="18.3" height="45.09" fill="none" stroke="#2E8B47" stroke-width="1.8" />
<line x1="762.95" y1="248.66" x2="762.95" y2="290.18" stroke="#8E62F2" stroke-width="1.5" />
<line x1="758.2" y1="248.66" x2="767.7" y2="248.66" stroke="#8E62F2" stroke-width="1.5" />
<line x1="758.2" y1="290.18" x2="767.7" y2="290.18" stroke="#8E62F2" stroke-width="1.5" />
<line x1="796.43" y1="285.71" x2="796.43" y2="301.79" stroke="#2E8B47" stroke-width="1.5" />
<line x1="791.68" y1="285.71" x2="801.18" y2="285.71" stroke="#2E8B47" stroke-width="1.5" />
<line x1="791.68" y1="301.79" x2="801.18" y2="301.79" stroke="#2E8B47" stroke-width="1.5" />
<line x1="852.23" y1="136.16" x2="852.23" y2="154.02" stroke="#8E62F2" stroke-width="1.5" />
<line x1="847.48" y1="136.16" x2="856.98" y2="136.16" stroke="#8E62F2" stroke-width="1.5" />
<line x1="847.48" y1="154.02" x2="856.98" y2="154.02" stroke="#8E62F2" stroke-width="1.5" />
<line x1="885.27" y1="276.79" x2="885.27" y2="308.04" stroke="#2E8B47" stroke-width="1.5" />
<line x1="880.52" y1="276.79" x2="890.02" y2="276.79" stroke="#2E8B47" stroke-width="1.5" />
<line x1="880.52" y1="308.04" x2="890.02" y2="308.04" stroke="#2E8B47" stroke-width="1.5" />
<circle cx="667.86" cy="329.02" r="5.5" fill="#8E62F2" />
<circle cx="672.77" cy="326.34" r="5.5" fill="#8E62F2" />
<circle cx="676.34" cy="328.12" r="5.5" fill="#8E62F2" />
<circle cx="680.36" cy="325.89" r="5.5" fill="#8E62F2" />
<polygon points="701.79,324.64 696.29,334.17 707.29,334.17" fill="#2E8B47" />
<polygon points="705.36,321.96 699.86,331.49 710.86,331.49" fill="#2E8B47" />
<polygon points="709.38,323.75 703.88,333.27 714.88,333.27" fill="#2E8B47" />
<polygon points="712.95,321.52 707.45,331.04 718.45,331.04" fill="#2E8B47" />
<circle cx="758.48" cy="254.46" r="5.5" fill="#8E62F2" />
<circle cx="768.75" cy="259.82" r="5.5" fill="#8E62F2" />
<circle cx="760.71" cy="274.55" r="5.5" fill="#8E62F2" />
<circle cx="763.39" cy="296.88" r="5.5" fill="#8E62F2" />
<polygon points="790.62,280 785.12,289.52 796.12,289.52" fill="#2E8B47" />
<polygon points="794.64,287.59 789.14,297.11 800.14,297.11" fill="#2E8B47" />
<polygon points="801.79,288.93 796.29,298.45 807.29,298.45" fill="#2E8B47" />
<polygon points="790.18,296.96 784.68,306.49 795.68,306.49" fill="#2E8B47" />
<circle cx="847.32" cy="137.5" r="5.5" fill="#8E62F2" />
<circle cx="858.04" cy="133.93" r="5.5" fill="#8E62F2" />
<circle cx="857.59" cy="145.54" r="5.5" fill="#8E62F2" />
<circle cx="852.23" cy="156.7" r="5.5" fill="#8E62F2" />
<polygon points="890.62,269.28 885.12,278.81 896.12,278.81" fill="#2E8B47" />
<polygon points="881.25,275.53 875.75,285.06 886.75,285.06" fill="#2E8B47" />
<polygon points="891.07,292.5 885.57,302.02 896.57,302.02" fill="#2E8B47" />
<polygon points="880.36,303.21 874.86,312.74 885.86,312.74" fill="#2E8B47" />
<line x1="641.07" y1="338.39" x2="907.14" y2="338.39" stroke="#000" stroke-width="2.1" />
<line x1="651.34" y1="81.54" x2="651.34" y2="338.39" stroke="#000" stroke-width="2.1" />
<line x1="641.07" y1="82.59" x2="651.34" y2="82.59" stroke="#000" stroke-width="2.1" />
<text font-size="20.6" text-anchor="end" x="637.47" y="89.89" >3</text>
<line x1="641.07" y1="167.86" x2="651.34" y2="167.86" stroke="#000" stroke-width="2.1" />
<text font-size="20.6" text-anchor="end" x="637.47" y="175.16" >2</text>
<line x1="641.07" y1="253.12" x2="651.34" y2="253.12" stroke="#000" stroke-width="2.1" />
<text font-size="20.6" text-anchor="end" x="637.47" y="260.42" >1</text>
<line x1="641.07" y1="338.39" x2="651.34" y2="338.39" stroke="#000" stroke-width="2.1" />
<text font-size="20.6" text-anchor="end" x="637.47" y="345.69" >0</text>
<line x1="690.62" y1="338.39" x2="690.62" y2="347.89" stroke="#000" stroke-width="2.1" />
<text font-size="20.6" text-anchor="end" transform="translate(697.62 364.39) rotate(-45)" >MM</text>
<line x1="779.46" y1="338.39" x2="779.46" y2="347.89" stroke="#000" stroke-width="2.1" />
<text font-size="20.6" text-anchor="end" transform="translate(786.46 364.39) rotate(-45)" >MM + ins</text>
<line x1="868.3" y1="338.39" x2="868.3" y2="347.89" stroke="#000" stroke-width="2.1" />
<text font-size="20.6" text-anchor="end" transform="translate(875.3 364.39) rotate(-45)" >IMM + ins</text>
<polyline points="683.04,104.02 683.04,91.07 719.2,91.07 719.2,104.02" fill="none" stroke="#000" stroke-width="2" />
<polyline points="761.61,104.02 761.61,91.07 798.21,91.07 798.21,104.02" fill="none" stroke="#000" stroke-width="2" />
<polyline points="851.34,104.02 851.34,91.07 887.05,91.07 887.05,104.02" fill="none" stroke="#000" stroke-width="2" />
<text font-size="20" text-anchor="middle" textLength="75.89" lengthAdjust="spacingAndGlyphs" x="692.41" y="80.36" ><tspan font-style="italic">P</tspan> = 0.57</text>
<text font-size="20" text-anchor="middle" textLength="75.89" lengthAdjust="spacingAndGlyphs" x="783.93" y="80.36" ><tspan font-style="italic">P</tspan> = 0.09</text>
<text font-size="20" text-anchor="middle" textLength="108.48" lengthAdjust="spacingAndGlyphs" x="887.28" y="80.36" ><tspan font-style="italic">P</tspan> = 2.6*10<tspan dy="-7" font-size="13">-4</tspan></text>
<text font-size="25.5" text-anchor="middle" textLength="297.6" lengthAdjust="spacingAndGlyphs" transform="translate(619.3 192.3) rotate(-90)" >AdipoRed signal/ μg protein</text>
<rect x="1013.39" y="328.12" width="17.86" height="9.82" fill="none" stroke="#9B33EA" stroke-width="1.8" />
<rect x="1046.43" y="329.02" width="17.86" height="8.93" fill="none" stroke="#3E9E90" stroke-width="1.8" />
<rect x="1101.34" y="276.79" width="17.86" height="61.16" fill="none" stroke="#9B33EA" stroke-width="1.8" />
<rect x="1133.93" y="277.68" width="18.3" height="60.27" fill="none" stroke="#3E9E90" stroke-width="1.8" />
<rect x="1189.29" y="129.46" width="17.86" height="208.48" fill="none" stroke="#9B33EA" stroke-width="1.8" />
<rect x="1221.88" y="283.48" width="17.86" height="54.46" fill="none" stroke="#3E9E90" stroke-width="1.8" />
<line x1="1110.27" y1="265.62" x2="1110.27" y2="285.71" stroke="#9B33EA" stroke-width="1.5" />
<line x1="1105.52" y1="265.62" x2="1115.02" y2="265.62" stroke="#9B33EA" stroke-width="1.5" />
<line x1="1105.52" y1="285.71" x2="1115.02" y2="285.71" stroke="#9B33EA" stroke-width="1.5" />
<line x1="1143.3" y1="258.93" x2="1143.3" y2="292.41" stroke="#3E9E90" stroke-width="1.5" />
<line x1="1138.55" y1="258.93" x2="1148.05" y2="258.93" stroke="#3E9E90" stroke-width="1.5" />
<line x1="1138.55" y1="292.41" x2="1148.05" y2="292.41" stroke="#3E9E90" stroke-width="1.5" />
<line x1="1198.21" y1="120.54" x2="1198.21" y2="136.16" stroke="#9B33EA" stroke-width="1.5" />
<line x1="1193.46" y1="120.54" x2="1202.96" y2="120.54" stroke="#9B33EA" stroke-width="1.5" />
<line x1="1193.46" y1="136.16" x2="1202.96" y2="136.16" stroke="#9B33EA" stroke-width="1.5" />
<line x1="1230.8" y1="266.96" x2="1230.8" y2="298.21" stroke="#3E9E90" stroke-width="1.5" />
<line x1="1226.05" y1="266.96" x2="1235.55" y2="266.96" stroke="#3E9E90" stroke-width="1.5" />
<line x1="1226.05" y1="298.21" x2="1235.55" y2="298.21" stroke="#3E9E90" stroke-width="1.5" />
<rect x="1011.96" y="323.12" width="10" height="10" fill="#9B33EA" />
<rect x="1015.98" y="322.23" width="10" height="10" fill="#9B33EA" />
<rect x="1019.55" y="323.57" width="10" height="10" fill="#9B33EA" />
<rect x="1023.12" y="322.23" width="10" height="10" fill="#9B33EA" />
<polygon points="1050,332.95 1044.5,323.42 1055.5,323.42" fill="#3E9E90" />
<polygon points="1053.57,333.84 1048.07,324.31 1059.07,324.31" fill="#3E9E90" />
<polygon points="1057.59,332.95 1052.09,323.42 1063.09,323.42" fill="#3E9E90" />
<polygon points="1061.16,333.84 1055.66,324.31 1066.66,324.31" fill="#3E9E90" />
<rect x="1099.91" y="265.54" width="10" height="10" fill="#9B33EA" />
<rect x="1111.07" y="260.62" width="10" height="10" fill="#9B33EA" />
<rect x="1110.62" y="274.02" width="10" height="10" fill="#9B33EA" />
<rect x="1099.91" y="281.16" width="10" height="10" fill="#9B33EA" />
<polygon points="1142.86,259.29 1137.36,249.76 1148.36,249.76" fill="#3E9E90" />
<polygon points="1143.3,274.91 1137.8,265.39 1148.8,265.39" fill="#3E9E90" />
<polygon points="1147.32,289.64 1141.82,280.12 1152.82,280.12" fill="#3E9E90" />
<polygon points="1139.29,293.66 1133.79,284.14 1144.79,284.14" fill="#3E9E90" />
<rect x="1187.86" y="114.64" width="10" height="10" fill="#9B33EA" />
<rect x="1198.57" y="112.41" width="10" height="10" fill="#9B33EA" />
<rect x="1198.57" y="128.04" width="10" height="10" fill="#9B33EA" />
<rect x="1187.86" y="131.61" width="10" height="10" fill="#9B33EA" />
<polygon points="1236.16,272.68 1230.66,263.15 1241.66,263.15" fill="#3E9E90" />
<polygon points="1226.34,276.25 1220.84,266.73 1231.84,266.73" fill="#3E9E90" />
<polygon points="1235.71,289.2 1230.21,279.67 1241.21,279.67" fill="#3E9E90" />
<polygon points="1230.36,306.61 1224.86,297.08 1235.86,297.08" fill="#3E9E90" />
<line x1="990.62" y1="337.95" x2="1252.68" y2="337.95" stroke="#000" stroke-width="2.1" />
<line x1="1000.89" y1="85.56" x2="1000.89" y2="337.95" stroke="#000" stroke-width="2.1" />
<line x1="990.62" y1="86.61" x2="1000.89" y2="86.61" stroke="#000" stroke-width="2.1" />
<text font-size="20.6" text-anchor="end" x="989.12" y="93.91" >3</text>
<line x1="990.62" y1="170.54" x2="1000.89" y2="170.54" stroke="#000" stroke-width="2.1" />
<text font-size="20.6" text-anchor="end" x="989.12" y="177.84" >2</text>
<line x1="990.62" y1="254.46" x2="1000.89" y2="254.46" stroke="#000" stroke-width="2.1" />
<text font-size="20.6" text-anchor="end" x="989.12" y="261.76" >1</text>
<line x1="990.62" y1="337.95" x2="1000.89" y2="337.95" stroke="#000" stroke-width="2.1" />
<text font-size="20.6" text-anchor="end" x="989.12" y="345.25" >0</text>
<line x1="1038.84" y1="337.95" x2="1038.84" y2="347.45" stroke="#000" stroke-width="2.1" />
<text font-size="20.6" text-anchor="end" transform="translate(1045.84 363.95) rotate(-45)" >MM</text>
<line x1="1126.34" y1="337.95" x2="1126.34" y2="347.45" stroke="#000" stroke-width="2.1" />
<text font-size="20.6" text-anchor="end" transform="translate(1133.34 363.95) rotate(-45)" >MM + ins</text>
<line x1="1214.29" y1="337.95" x2="1214.29" y2="347.45" stroke="#000" stroke-width="2.1" />
<text font-size="20.6" text-anchor="end" transform="translate(1221.29 363.95) rotate(-45)" >IMM + ins</text>
<polyline points="1022.77,101.79 1022.77,88.84 1055.36,88.84 1055.36,101.79" fill="none" stroke="#000" stroke-width="2" />
<polyline points="1108.48,101.79 1108.48,88.84 1144.64,88.84 1144.64,101.79" fill="none" stroke="#000" stroke-width="2" />
<polyline points="1197.77,101.79 1197.77,88.84 1230.36,88.84 1230.36,101.79" fill="none" stroke="#000" stroke-width="2" />
<text font-size="20" text-anchor="middle" textLength="75.89" lengthAdjust="spacingAndGlyphs" x="1043.3" y="80.36" ><tspan font-style="italic">P</tspan> = 0.61</text>
<text font-size="20" text-anchor="middle" textLength="75.89" lengthAdjust="spacingAndGlyphs" x="1134.82" y="80.36" ><tspan font-style="italic">P</tspan> = 0.64</text>
<text font-size="20" text-anchor="middle" textLength="106.25" lengthAdjust="spacingAndGlyphs" x="1237.95" y="80.36" ><tspan font-style="italic">P</tspan> = 1.1*10<tspan dy="-7" font-size="13">-4</tspan></text>
<text font-size="25.5" text-anchor="middle" textLength="295" lengthAdjust="spacingAndGlyphs" transform="translate(966.1 197.5) rotate(-90)" >AdipoRed signal/ μg protein</text>
<circle cx="1258.48" cy="137.05" r="5" fill="#8E62F2" />
<text font-size="20" x="1276.34" y="144.05" >epi CC_s</text>
<polygon points="1258.48,167.13 1253.48,175.79 1263.48,175.79" fill="#2E8B47" />
<text font-size="20" x="1276.34" y="179.32" >epi HC</text>
<rect x="1253.78" y="211.37" width="9.4" height="9.4" fill="#9B33EA" />
<text font-size="20" x="1276.34" y="223.07" >epi CCC</text>
<polygon points="1258.48,256.54 1253.48,247.88 1263.48,247.88" fill="#3E9E90" />
<text font-size="20" x="1276.34" y="258.34" >epi HHC</text>
</g>
<g id="panel_c">
<text font-size="33.5" font-weight="bold" x="1423.09" y="25.5" >c</text>
<rect x="1480.26" y="332.88" width="17.59" height="4.84" fill="none" stroke="#8E62F2" stroke-width="1.8" />
<rect x="1514.12" y="333.32" width="17.59" height="4.4" fill="none" stroke="#2E8B47" stroke-width="1.8" />
<rect x="1570.4" y="314.85" width="18.47" height="22.87" fill="none" stroke="#8E62F2" stroke-width="1.8" />
<rect x="1604.26" y="293.74" width="18.47" height="43.97" fill="none" stroke="#2E8B47" stroke-width="1.8" />
<rect x="1660.99" y="151.71" width="18.03" height="186.01" fill="none" stroke="#8E62F2" stroke-width="1.8" />
<rect x="1694.85" y="212.83" width="18.03" height="124.88" fill="none" stroke="#2E8B47" stroke-width="1.8" />
<line x1="1670.22" y1="135.44" x2="1670.22" y2="167.98" stroke="#8E62F2" stroke-width="1.5" />
<line x1="1665.47" y1="135.44" x2="1674.97" y2="135.44" stroke="#8E62F2" stroke-width="1.5" />
<line x1="1665.47" y1="167.98" x2="1674.97" y2="167.98" stroke="#8E62F2" stroke-width="1.5" />
<line x1="1704.08" y1="192.6" x2="1704.08" y2="235.26" stroke="#2E8B47" stroke-width="1.5" />
<line x1="1699.33" y1="192.6" x2="1708.83" y2="192.6" stroke="#2E8B47" stroke-width="1.5" />
<line x1="1699.33" y1="235.26" x2="1708.83" y2="235.26" stroke="#2E8B47" stroke-width="1.5" />
<line x1="1613.5" y1="274.83" x2="1613.5" y2="313.09" stroke="#2E8B47" stroke-width="1.5" />
<line x1="1608.75" y1="274.83" x2="1618.25" y2="274.83" stroke="#2E8B47" stroke-width="1.5" />
<line x1="1608.75" y1="313.09" x2="1618.25" y2="313.09" stroke="#2E8B47" stroke-width="1.5" />
<circle cx="1483.78" cy="333.32" r="5.5" fill="#8E62F2" />
<circle cx="1487.73" cy="328.04" r="5.5" fill="#8E62F2" />
<circle cx="1491.69" cy="332.88" r="5.5" fill="#8E62F2" />
<circle cx="1495.65" cy="330.68" r="5.5" fill="#8E62F2" />
<polygon points="1516.76,326.28 1511.26,335.81 1522.26,335.81" fill="#2E8B47" />
<polygon points="1520.71,324.52 1515.21,334.05 1526.21,334.05" fill="#2E8B47" />
<polygon points="1524.67,325.4 1519.17,334.93 1530.17,334.93" fill="#2E8B47" />
<polygon points="1529.51,324.52 1524.01,334.05 1535.01,334.05" fill="#2E8B47" />
<circle cx="1573.48" cy="315.29" r="5.5" fill="#8E62F2" />
<circle cx="1577.88" cy="311.33" r="5.5" fill="#8E62F2" />
<circle cx="1581.4" cy="313.09" r="5.5" fill="#8E62F2" />
<circle cx="1585.79" cy="312.21" r="5.5" fill="#8E62F2" />
<polygon points="1607.78,268.68 1602.28,278.2 1613.28,278.2" fill="#2E8B47" />
<polygon points="1619.65,266.92 1614.15,276.44 1625.15,276.44" fill="#2E8B47" />
<polygon points="1607.78,287.59 1602.28,297.11 1613.28,297.11" fill="#2E8B47" />
<polygon points="1619.21,285.39 1613.71,294.91 1624.71,294.91" fill="#2E8B47" />
<polygon points="1607.78,306.49 1602.28,316.02 1613.28,316.02" fill="#2E8B47" />
<polygon points="1619.21,299.9 1613.71,309.42 1624.71,309.42" fill="#2E8B47" />
<circle cx="1665.39" cy="133.24" r="5.5" fill="#8E62F2" />
<circle cx="1676.38" cy="131.48" r="5.5" fill="#8E62F2" />
<circle cx="1676.38" cy="161.38" r="5.5" fill="#8E62F2" />
<circle cx="1664.95" cy="168.86" r="5.5" fill="#8E62F2" />
<polygon points="1704.08,175.89 1698.58,185.42 1709.58,185.42" fill="#2E8B47" />
<polygon points="1704.08,196.12 1698.58,205.65 1709.58,205.65" fill="#2E8B47" />
<polygon points="1708.92,222.07 1703.42,231.59 1714.42,231.59" fill="#2E8B47" />
<polygon points="1698.37,227.78 1692.87,237.31 1703.87,237.31" fill="#2E8B47" />
<line x1="1456.95" y1="337.71" x2="1726.07" y2="337.71" stroke="#000" stroke-width="2.1" />
<line x1="1467.07" y1="77.22" x2="1467.07" y2="337.71" stroke="#000" stroke-width="2.1" />
<line x1="1456.95" y1="78.27" x2="1467.07" y2="78.27" stroke="#000" stroke-width="2.1" />
<text font-size="20.6" text-anchor="end" x="1452.45" y="85.57" >5</text>
<line x1="1456.95" y1="130.16" x2="1467.07" y2="130.16" stroke="#000" stroke-width="2.1" />
<text font-size="20.6" text-anchor="end" x="1452.45" y="137.46" >4</text>
<line x1="1456.95" y1="181.61" x2="1467.07" y2="181.61" stroke="#000" stroke-width="2.1" />
<text font-size="20.6" text-anchor="end" x="1452.45" y="188.91" >3</text>
<line x1="1456.95" y1="233.5" x2="1467.07" y2="233.5" stroke="#000" stroke-width="2.1" />
<text font-size="20.6" text-anchor="end" x="1452.45" y="240.8" >2</text>
<line x1="1456.95" y1="285.83" x2="1467.07" y2="285.83" stroke="#000" stroke-width="2.1" />
<text font-size="20.6" text-anchor="end" x="1452.45" y="293.13" >1</text>
<line x1="1456.95" y1="337.71" x2="1467.07" y2="337.71" stroke="#000" stroke-width="2.1" />
<text font-size="20.6" text-anchor="end" x="1452.45" y="345.01" >0</text>
<line x1="1507.08" y1="337.71" x2="1507.08" y2="347.21" stroke="#000" stroke-width="2.1" />
<text font-size="20.6" text-anchor="end" transform="translate(1514.08 363.71) rotate(-45)" >MM</text>
<line x1="1596.79" y1="337.71" x2="1596.79" y2="347.21" stroke="#000" stroke-width="2.1" />
<text font-size="20.6" text-anchor="end" transform="translate(1603.79 363.71) rotate(-45)" >MM + ins</text>
<line x1="1686.93" y1="337.71" x2="1686.93" y2="347.21" stroke="#000" stroke-width="2.1" />
<text font-size="20.6" text-anchor="end" transform="translate(1693.93 363.71) rotate(-45)" >IMM + ins</text>
<polyline points="1498.73,99.82 1498.73,87.07 1535.67,87.07 1535.67,99.82" fill="none" stroke="#000" stroke-width="2" />
<polyline points="1577.88,99.82 1577.88,87.07 1614.38,87.07 1614.38,99.82" fill="none" stroke="#000" stroke-width="2" />
<polyline points="1668.9,99.82 1668.9,87.07 1705.84,87.07 1705.84,99.82" fill="none" stroke="#000" stroke-width="2" />
<text font-size="20" text-anchor="middle" textLength="79.15" lengthAdjust="spacingAndGlyphs" x="1518.52" y="80.47" ><tspan font-style="italic">P</tspan> = 0.44</text>
<text font-size="20" text-anchor="middle" textLength="78.27" lengthAdjust="spacingAndGlyphs" x="1609.1" y="80.47" ><tspan font-style="italic">P</tspan> = 0.03</text>
<text font-size="20" text-anchor="middle" textLength="91.46" lengthAdjust="spacingAndGlyphs" x="1702.76" y="80.47" ><tspan font-style="italic">P</tspan> = 0.009</text>
<text font-size="25.5" text-anchor="middle" textLength="299" lengthAdjust="spacingAndGlyphs" transform="translate(1429.8 197.9) rotate(-90)" >AdipoRed signal/ μg protein</text>
<rect x="1821.93" y="326.72" width="17.59" height="5.28" fill="none" stroke="#9B33EA" stroke-width="1.8" />
<rect x="1854.03" y="326.28" width="17.59" height="5.72" fill="none" stroke="#3E9E90" stroke-width="1.8" />
<rect x="1907.68" y="306.49" width="18.03" height="25.5" fill="none" stroke="#9B33EA" stroke-width="1.8" />
<rect x="1941.1" y="289.34" width="18.03" height="42.65" fill="none" stroke="#3E9E90" stroke-width="1.8" />
<rect x="1995.62" y="151.71" width="18.03" height="180.29" fill="none" stroke="#9B33EA" stroke-width="1.8" />
<rect x="2028.17" y="207.11" width="18.03" height="124.88" fill="none" stroke="#3E9E90" stroke-width="1.8" />
<line x1="2004.42" y1="139.83" x2="2004.42" y2="158.3" stroke="#9B33EA" stroke-width="1.5" />
<line x1="1999.67" y1="139.83" x2="2009.17" y2="139.83" stroke="#9B33EA" stroke-width="1.5" />
<line x1="1999.67" y1="158.3" x2="2009.17" y2="158.3" stroke="#9B33EA" stroke-width="1.5" />
<line x1="2036.96" y1="189.08" x2="2036.96" y2="222.06" stroke="#3E9E90" stroke-width="1.5" />
<line x1="2032.21" y1="189.08" x2="2041.71" y2="189.08" stroke="#3E9E90" stroke-width="1.5" />
<line x1="2032.21" y1="222.06" x2="2041.71" y2="222.06" stroke="#3E9E90" stroke-width="1.5" />
<line x1="1949.89" y1="277.47" x2="1949.89" y2="295.94" stroke="#3E9E90" stroke-width="1.5" />
<line x1="1945.14" y1="277.47" x2="1954.64" y2="277.47" stroke="#3E9E90" stroke-width="1.5" />
<line x1="1945.14" y1="295.94" x2="1954.64" y2="295.94" stroke="#3E9E90" stroke-width="1.5" />
<rect x="1820.01" y="320.4" width="10" height="10" fill="#9B33EA" />
<rect x="1823.53" y="319.08" width="10" height="10" fill="#9B33EA" />
<rect x="1827.92" y="320.84" width="10" height="10" fill="#9B33EA" />
<rect x="1831.44" y="319.52" width="10" height="10" fill="#9B33EA" />
<polygon points="1857.11,330.68 1851.61,321.15 1862.61,321.15" fill="#3E9E90" />
<polygon points="1861.07,331.56 1855.57,322.03 1866.57,322.03" fill="#3E9E90" />
<polygon points="1864.58,330.68 1859.08,321.15 1870.08,321.15" fill="#3E9E90" />
<polygon points="1868.1,329.8 1862.6,320.27 1873.6,320.27" fill="#3E9E90" />
<rect x="1905.76" y="303.25" width="10" height="10" fill="#9B33EA" />
<rect x="1909.71" y="301.49" width="10" height="10" fill="#9B33EA" />
<rect x="1913.67" y="302.81" width="10" height="10" fill="#9B33EA" />
<rect x="1917.63" y="301.05" width="10" height="10" fill="#9B33EA" />
<polygon points="1949.89,277.91 1944.39,268.38 1955.39,268.38" fill="#3E9E90" />
<polygon points="1943.3,299.46 1937.8,289.93 1948.8,289.93" fill="#3E9E90" />
<polygon points="1949.89,291.1 1944.39,281.58 1955.39,281.58" fill="#3E9E90" />
<polygon points="1956.05,294.18 1950.55,284.65 1961.55,284.65" fill="#3E9E90" />
<rect x="1999.42" y="126.48" width="10" height="10" fill="#9B33EA" />
<rect x="1999.42" y="145.39" width="10" height="10" fill="#9B33EA" />
<rect x="1993.7" y="152.42" width="10" height="10" fill="#9B33EA" />
<rect x="2005.58" y="150.23" width="10" height="10" fill="#9B33EA" />
<polygon points="2043.12,194.36 2037.62,184.83 2048.62,184.83" fill="#3E9E90" />
<polygon points="2031.68,199.2 2026.18,189.67 2037.18,189.67" fill="#3E9E90" />
<polygon points="2037.4,214.15 2031.9,204.62 2042.9,204.62" fill="#3E9E90" />
<polygon points="2036.96,231.74 2031.46,222.21 2042.46,222.21" fill="#3E9E90" />
<line x1="1795.55" y1="332" x2="2059.39" y2="332" stroke="#000" stroke-width="2.1" />
<line x1="1806.54" y1="79.86" x2="1806.54" y2="332" stroke="#000" stroke-width="2.1" />
<line x1="1795.55" y1="80.91" x2="1806.54" y2="80.91" stroke="#000" stroke-width="2.1" />
<text font-size="20.6" text-anchor="end" x="1794.05" y="88.21" >5</text>
<line x1="1795.55" y1="131.04" x2="1806.54" y2="131.04" stroke="#000" stroke-width="2.1" />
<text font-size="20.6" text-anchor="end" x="1794.05" y="138.34" >4</text>
<line x1="1795.55" y1="181.17" x2="1806.54" y2="181.17" stroke="#000" stroke-width="2.1" />
<text font-size="20.6" text-anchor="end" x="1794.05" y="188.47" >3</text>
<line x1="1795.55" y1="231.74" x2="1806.54" y2="231.74" stroke="#000" stroke-width="2.1" />
<text font-size="20.6" text-anchor="end" x="1794.05" y="239.04" >2</text>
<line x1="1795.55" y1="281.87" x2="1806.54" y2="281.87" stroke="#000" stroke-width="2.1" />
<text font-size="20.6" text-anchor="end" x="1794.05" y="289.17" >1</text>
<line x1="1795.55" y1="332" x2="1806.54" y2="332" stroke="#000" stroke-width="2.1" />
<text font-size="20.6" text-anchor="end" x="1794.05" y="339.3" >0</text>
<line x1="1846.12" y1="332" x2="1846.12" y2="341.5" stroke="#000" stroke-width="2.1" />
<text font-size="20.6" text-anchor="end" transform="translate(1853.12 358) rotate(-45)" >MM</text>
<line x1="1933.18" y1="332" x2="1933.18" y2="341.5" stroke="#000" stroke-width="2.1" />
<text font-size="20.6" text-anchor="end" transform="translate(1940.18 358) rotate(-45)" >MM + ins</text>
<line x1="2020.69" y1="332" x2="2020.69" y2="341.5" stroke="#000" stroke-width="2.1" />
<text font-size="20.6" text-anchor="end" transform="translate(2027.69 358) rotate(-45)" >IMM + ins</text>
<polyline points="1829.41,112.13 1829.41,98.5 1862.83,98.5 1862.83,112.13" fill="none" stroke="#000" stroke-width="2" />
<polyline points="1912.96,112.13 1912.96,98.5 1953.85,98.5 1953.85,112.13" fill="none" stroke="#000" stroke-width="2" />
<polyline points="2004.42,112.13 2004.42,98.5 2036.96,98.5 2036.96,112.13" fill="none" stroke="#000" stroke-width="2" />
<text font-size="20" text-anchor="middle" textLength="79.15" lengthAdjust="spacingAndGlyphs" x="1860.63" y="79.15" ><tspan font-style="italic">P</tspan> = 0.26</text>
<text font-size="20" text-anchor="middle" textLength="79.15" lengthAdjust="spacingAndGlyphs" x="1950.77" y="79.15" ><tspan font-style="italic">P</tspan> = 0.02</text>
<text font-size="20" text-anchor="middle" textLength="91.46" lengthAdjust="spacingAndGlyphs" x="2043.56" y="79.15" ><tspan font-style="italic">P</tspan> = 0.003</text>
<text font-size="25.5" text-anchor="middle" textLength="299" lengthAdjust="spacingAndGlyphs" transform="translate(1771.4 193.5) rotate(-90)" >AdipoRed signal/ μg protein</text>
<circle cx="2063.78" cy="135" r="5" fill="#8E62F2" />
<text font-size="20" x="2070.82" y="142" >ing CC_s</text>
<polygon points="2063.78,167.62 2058.78,176.28 2068.78,176.28" fill="#2E8B47" />
<text font-size="20" x="2070.82" y="179.81" >ing HC</text>
<rect x="2059.08" y="210.77" width="9.4" height="9.4" fill="#9B33EA" />
<text font-size="20" x="2070.82" y="222.47" >ing CCC</text>
<polygon points="2063.78,255.84 2058.78,247.18 2068.78,247.18" fill="#3E9E90" />
<text font-size="20" x="2070.82" y="257.65" >ing HHC</text>
</g>
<g id="panel_d">
<text font-size="33.5" font-weight="bold" x="2" y="455.5" >d</text>
<g transform="translate(130 420) scale(0.066964)">
<path d="M940 858 C860 835 760 810 690 795 C600 775 520 765 450 770 C380 778 300 820 205 856" fill="none" stroke="#BC7A84" stroke-width="20" stroke-linecap="round"/>
<path d="M1075 925 C1085 950 1090 975 1110 980 C1140 985 1170 975 1172 962 C1160 945 1140 935 1120 925 Z" fill="#BE7F88" />
<path d="M1370 900 C1420 885 1480 880 1520 888 C1550 895 1555 910 1535 915 C1480 925 1420 925 1370 920 Z" fill="#BE7F88" />
<path d="M1125 250 C1140 200 1200 172 1250 185 C1290 198 1290 240 1265 270 C1240 298 1200 305 1165 300 Z" fill="#7B6262" />
<path d="M1150 255 C1165 218 1205 198 1240 206 C1262 215 1258 245 1240 265 C1218 285 1190 290 1170 285 Z" fill="#DA8890" />
<path d="M855 305 C880 280 930 250 1012 215 L1000 138 C1030 165 1065 195 1098 228 C1150 245 1230 275 1285 305 C1360 340 1440 410 1500 500 C1545 570 1570 660 1562 760 C1555 840 1500 895 1440 912 C1350 930 1230 932 1150 930 C1080 928 1010 905 970 880 C945 860 930 800 936 745 C942 700 975 640 990 600 C970 570 955 520 955 455 C958 430 968 410 975 400 C950 392 910 378 885 362 C862 348 850 325 855 305 Z" fill="#4A4645" />
<path d="M1285 305 C1360 340 1440 410 1500 500 C1545 570 1570 660 1562 760 C1555 840 1500 895 1440 912 C1400 920 1360 924 1320 926 C1420 890 1480 800 1480 690 C1480 560 1400 420 1285 305 Z" fill="#3B3736" />
<path d="M975 400 C1020 412 1080 415 1130 395" fill="none" stroke="#3B3736" stroke-width="10" />
<path d="M1000 138 C1030 165 1065 195 1098 228 L1012 215 Z" fill="#2C2929" />
<ellipse cx="1026" cy="291" rx="16" ry="12" fill="#0c0c0c"/>
<ellipse cx="1150" cy="660" rx="82" ry="116" fill="#F3E4A8"/>
<ellipse cx="1160" cy="625" rx="45" ry="55" fill="#EFDC8A"/>
<path d="M1065 655 C1095 650 1125 668 1135 690 C1160 690 1200 685 1240 690 C1240 720 1215 745 1185 740 C1160 725 1140 705 1120 700 C1095 700 1075 680 1065 655 Z" fill="#D9A090" />
<path d="M1100 672 L1135 690 L1110 698 Z M1160 700 L1200 700 L1180 725 Z" fill="#B86A60" />
</g>
<polyline points="144.11,725.89 222.86,610.18 301.61,617.14 380.89,650.36 459.64,677.68 538.39,699.64" fill="none" stroke="#4DA3F2" stroke-width="2" stroke-linejoin="round"/>
<line x1="144.11" y1="705.54" x2="144.11" y2="746.25" stroke="#4DA3F2" stroke-width="1.7" />
<line x1="136.61" y1="705.54" x2="151.61" y2="705.54" stroke="#4DA3F2" stroke-width="1.7" />
<line x1="136.61" y1="746.25" x2="151.61" y2="746.25" stroke="#4DA3F2" stroke-width="1.7" />
<line x1="222.86" y1="573.21" x2="222.86" y2="646.61" stroke="#4DA3F2" stroke-width="1.7" />
<line x1="215.36" y1="573.21" x2="230.36" y2="573.21" stroke="#4DA3F2" stroke-width="1.7" />
<line x1="215.36" y1="646.61" x2="230.36" y2="646.61" stroke="#4DA3F2" stroke-width="1.7" />
<line x1="301.61" y1="589.82" x2="301.61" y2="643.39" stroke="#4DA3F2" stroke-width="1.7" />
<line x1="294.11" y1="589.82" x2="309.11" y2="589.82" stroke="#4DA3F2" stroke-width="1.7" />
<line x1="294.11" y1="643.39" x2="309.11" y2="643.39" stroke="#4DA3F2" stroke-width="1.7" />
<line x1="380.89" y1="620.89" x2="380.89" y2="679.82" stroke="#4DA3F2" stroke-width="1.7" />
<line x1="373.39" y1="620.89" x2="388.39" y2="620.89" stroke="#4DA3F2" stroke-width="1.7" />
<line x1="373.39" y1="679.82" x2="388.39" y2="679.82" stroke="#4DA3F2" stroke-width="1.7" />
<line x1="459.64" y1="641.25" x2="459.64" y2="713.57" stroke="#4DA3F2" stroke-width="1.7" />
<line x1="452.14" y1="641.25" x2="467.14" y2="641.25" stroke="#4DA3F2" stroke-width="1.7" />
<line x1="452.14" y1="713.57" x2="467.14" y2="713.57" stroke="#4DA3F2" stroke-width="1.7" />
<line x1="538.39" y1="679.82" x2="538.39" y2="718.93" stroke="#4DA3F2" stroke-width="1.7" />
<line x1="530.89" y1="679.82" x2="545.89" y2="679.82" stroke="#4DA3F2" stroke-width="1.7" />
<line x1="530.89" y1="718.93" x2="545.89" y2="718.93" stroke="#4DA3F2" stroke-width="1.7" />
<circle cx="144.11" cy="725.89" r="6.6" fill="#4DA3F2" />
<circle cx="222.86" cy="610.18" r="6.6" fill="#4DA3F2" />
<circle cx="301.61" cy="617.14" r="6.6" fill="#4DA3F2" />
<circle cx="380.89" cy="650.36" r="6.6" fill="#4DA3F2" />
<circle cx="459.64" cy="677.68" r="6.6" fill="#4DA3F2" />
<circle cx="538.39" cy="699.64" r="6.6" fill="#4DA3F2" />
<polyline points="144.11,679.82 222.86,535.71 301.61,553.93 380.89,612.32 459.64,646.07 538.39,658.93" fill="none" stroke="#B52A1C" stroke-width="2" stroke-linejoin="round"/>
<line x1="144.11" y1="666.43" x2="144.11" y2="691.61" stroke="#B52A1C" stroke-width="1.7" />
<line x1="136.61" y1="666.43" x2="151.61" y2="666.43" stroke="#B52A1C" stroke-width="1.7" />
<line x1="136.61" y1="691.61" x2="151.61" y2="691.61" stroke="#B52A1C" stroke-width="1.7" />
<line x1="222.86" y1="513.75" x2="222.86" y2="557.68" stroke="#B52A1C" stroke-width="1.7" />
<line x1="215.36" y1="513.75" x2="230.36" y2="513.75" stroke="#B52A1C" stroke-width="1.7" />
<line x1="215.36" y1="557.68" x2="230.36" y2="557.68" stroke="#B52A1C" stroke-width="1.7" />
<line x1="301.61" y1="543.75" x2="301.61" y2="564.64" stroke="#B52A1C" stroke-width="1.7" />
<line x1="294.11" y1="543.75" x2="309.11" y2="543.75" stroke="#B52A1C" stroke-width="1.7" />
<line x1="294.11" y1="564.64" x2="309.11" y2="564.64" stroke="#B52A1C" stroke-width="1.7" />
<line x1="380.89" y1="590.36" x2="380.89" y2="634.82" stroke="#B52A1C" stroke-width="1.7" />
<line x1="373.39" y1="590.36" x2="388.39" y2="590.36" stroke="#B52A1C" stroke-width="1.7" />
<line x1="373.39" y1="634.82" x2="388.39" y2="634.82" stroke="#B52A1C" stroke-width="1.7" />
<line x1="459.64" y1="633.21" x2="459.64" y2="657.86" stroke="#B52A1C" stroke-width="1.7" />
<line x1="452.14" y1="633.21" x2="467.14" y2="633.21" stroke="#B52A1C" stroke-width="1.7" />
<line x1="452.14" y1="657.86" x2="467.14" y2="657.86" stroke="#B52A1C" stroke-width="1.7" />
<line x1="538.39" y1="645" x2="538.39" y2="673.39" stroke="#B52A1C" stroke-width="1.7" />
<line x1="530.89" y1="645" x2="545.89" y2="645" stroke="#B52A1C" stroke-width="1.7" />
<line x1="530.89" y1="673.39" x2="545.89" y2="673.39" stroke="#B52A1C" stroke-width="1.7" />
<polygon points="144.11,673.07 137.61,684.32 150.61,684.32" fill="#B52A1C" />
<polygon points="222.86,528.96 216.36,540.22 229.36,540.22" fill="#B52A1C" />
<polygon points="301.61,547.17 295.11,558.43 308.11,558.43" fill="#B52A1C" />
<polygon points="380.89,605.57 374.39,616.82 387.39,616.82" fill="#B52A1C" />
<polygon points="459.64,639.32 453.14,650.57 466.14,650.57" fill="#B52A1C" />
<polygon points="538.39,652.17 531.89,663.43 544.89,663.43" fill="#B52A1C" />
<line x1="80.36" y1="803.04" x2="590.89" y2="803.04" stroke="#000" stroke-width="2.1" />
<line x1="93.21" y1="469.84" x2="93.21" y2="803.04" stroke="#000" stroke-width="2.1" />
<line x1="80.36" y1="470.89" x2="93.21" y2="470.89" stroke="#000" stroke-width="2.1" />
<text font-size="22" text-anchor="end" x="78.36" y="478.7" >25</text>
<line x1="80.36" y1="537.32" x2="93.21" y2="537.32" stroke="#000" stroke-width="2.1" />
<text font-size="22" text-anchor="end" x="78.36" y="545.13" >20</text>
<line x1="80.36" y1="603.75" x2="93.21" y2="603.75" stroke="#000" stroke-width="2.1" />
<text font-size="22" text-anchor="end" x="78.36" y="611.56" >15</text>
<line x1="80.36" y1="670.18" x2="93.21" y2="670.18" stroke="#000" stroke-width="2.1" />
<text font-size="22" text-anchor="end" x="78.36" y="677.99" >10</text>
<line x1="80.36" y1="736.61" x2="93.21" y2="736.61" stroke="#000" stroke-width="2.1" />
<text font-size="22" text-anchor="end" x="78.36" y="744.42" >5</text>
<line x1="80.36" y1="803.04" x2="93.21" y2="803.04" stroke="#000" stroke-width="2.1" />
<text font-size="22" text-anchor="end" x="78.36" y="810.85" >0</text>
<line x1="144.11" y1="803.04" x2="144.11" y2="814.04" stroke="#000" stroke-width="2.1" />
<text font-size="21.5" text-anchor="middle" x="144.11" y="836.79" >0</text>
<line x1="222.86" y1="803.04" x2="222.86" y2="814.04" stroke="#000" stroke-width="2.1" />
<text font-size="21.5" text-anchor="middle" x="222.86" y="836.79" >15</text>
<line x1="301.61" y1="803.04" x2="301.61" y2="814.04" stroke="#000" stroke-width="2.1" />
<text font-size="21.5" text-anchor="middle" x="301.61" y="836.79" >30</text>
<line x1="380.89" y1="803.04" x2="380.89" y2="814.04" stroke="#000" stroke-width="2.1" />
<text font-size="21.5" text-anchor="middle" x="380.89" y="836.79" >60</text>
<line x1="459.64" y1="803.04" x2="459.64" y2="814.04" stroke="#000" stroke-width="2.1" />
<text font-size="21.5" text-anchor="middle" x="459.64" y="836.79" >90</text>
<line x1="538.39" y1="803.04" x2="538.39" y2="814.04" stroke="#000" stroke-width="2.1" />
<text font-size="21.5" text-anchor="middle" x="538.39" y="836.79" >120</text>
<text font-size="24.5" text-anchor="middle" x="332" y="870.5" >Time (min)</text>
<text font-size="24.6" text-anchor="middle" transform="translate(28.8 652.6) rotate(-90)" >Glucose (mmol/l)</text>
<line x1="492.86" y1="489.64" x2="527.68" y2="489.64" stroke="#4DA3F2" stroke-width="2" />
<circle cx="510.27" cy="489.64" r="6.6" fill="#4DA3F2" />
<text font-size="20.6" x="534.64" y="497.14" >CCH</text>
<line x1="492.86" y1="535.71" x2="527.68" y2="535.71" stroke="#B52A1C" stroke-width="2" />
<polygon points="510.27,528.96 503.77,540.22 516.77,540.22" fill="#B52A1C" />
<text font-size="20.6" x="534.64" y="543.21" >HCH</text>
</g>
<g id="panel_e">
<text font-size="33.5" font-weight="bold" x="593" y="455.5" >e</text>
<rect x="714.64" y="603.75" width="43.39" height="199.82" fill="none" stroke="#4DA3F2" stroke-width="2" />
<rect x="834.11" y="605.36" width="43.93" height="198.21" fill="none" stroke="#B52A1C" stroke-width="2" />
<line x1="736.61" y1="558.21" x2="736.61" y2="645" stroke="#4DA3F2" stroke-width="1.7" />
<line x1="722.68" y1="558.21" x2="750.54" y2="558.21" stroke="#4DA3F2" stroke-width="1.7" />
<line x1="722.68" y1="645" x2="750.54" y2="645" stroke="#4DA3F2" stroke-width="1.7" />
<line x1="856.07" y1="544.29" x2="856.07" y2="662.14" stroke="#B52A1C" stroke-width="1.7" />
<line x1="842.14" y1="544.29" x2="870" y2="544.29" stroke="#B52A1C" stroke-width="1.7" />
<line x1="842.14" y1="662.14" x2="870" y2="662.14" stroke="#B52A1C" stroke-width="1.7" />
<circle cx="736.61" cy="540" r="5" fill="#4DA3F2" />
<circle cx="736.61" cy="573.21" r="5" fill="#4DA3F2" />
<circle cx="736.61" cy="618.21" r="5" fill="#4DA3F2" />
<circle cx="726.43" cy="638.57" r="5" fill="#4DA3F2" />
<circle cx="745.71" cy="637.5" r="5" fill="#4DA3F2" />
<polygon points="856.07,536.09 851.07,527.43 861.07,527.43" fill="#B52A1C" />
<polygon points="856.07,569.84 851.07,561.18 861.07,561.18" fill="#B52A1C" />
<polygon points="856.07,600.91 851.07,592.25 861.07,592.25" fill="#B52A1C" />
<polygon points="856.07,642.7 851.07,634.04 861.07,634.04" fill="#B52A1C" />
<polygon points="856.07,686.62 851.07,677.96 861.07,677.96" fill="#B52A1C" />
<line x1="676.07" y1="803.57" x2="904.29" y2="803.57" stroke="#000" stroke-width="2.1" />
<line x1="688.39" y1="479.49" x2="688.39" y2="803.57" stroke="#000" stroke-width="2.1" />
<line x1="676.07" y1="480.54" x2="688.39" y2="480.54" stroke="#000" stroke-width="2.1" />
<text font-size="21.6" text-anchor="end" x="671.87" y="488.2" >1000</text>
<line x1="676.07" y1="545.36" x2="688.39" y2="545.36" stroke="#000" stroke-width="2.1" />
<text font-size="21.6" text-anchor="end" x="671.87" y="553.03" >800</text>
<line x1="676.07" y1="609.64" x2="688.39" y2="609.64" stroke="#000" stroke-width="2.1" />
<text font-size="21.6" text-anchor="end" x="671.87" y="617.31" >600</text>
<line x1="676.07" y1="674.46" x2="688.39" y2="674.46" stroke="#000" stroke-width="2.1" />
<text font-size="21.6" text-anchor="end" x="671.87" y="682.13" >400</text>
<line x1="676.07" y1="739.29" x2="688.39" y2="739.29" stroke="#000" stroke-width="2.1" />
<text font-size="21.6" text-anchor="end" x="671.87" y="746.95" >200</text>
<line x1="676.07" y1="803.57" x2="688.39" y2="803.57" stroke="#000" stroke-width="2.1" />
<text font-size="21.6" text-anchor="end" x="671.87" y="811.24" >0</text>
<polyline points="734.46,527.14 734.46,506.79 855.54,506.79 855.54,527.14" fill="none" stroke="#000" stroke-width="1.9" />
<text font-size="20.6" text-anchor="middle" x="791.79" y="498.21" ><tspan font-style="italic">P</tspan> = 0.999</text>
<text font-size="24.7" text-anchor="middle" transform="translate(621 652.2) rotate(-90)" >AOC (mmol x min)</text>
<text font-size="21.3" text-anchor="end" transform="translate(747.32 831.96) rotate(-45)" >CCH</text>
<text font-size="21.3" text-anchor="end" transform="translate(866.79 831.96) rotate(-45)" >HCH</text>
</g>
<g id="panel_f">
<text font-size="33.5" font-weight="bold" x="951" y="455.5" >f</text>
<polyline points="1116.11,642.71 1196.98,672.18 1277.84,696.85 1358.01,706.44 1438.88,703.02 1519.74,692.74" fill="none" stroke="#4DA3F2" stroke-width="2" stroke-linejoin="round"/>
<line x1="1116.11" y1="601.6" x2="1116.11" y2="684.51" stroke="#4DA3F2" stroke-width="1.7" />
<line x1="1108.61" y1="601.6" x2="1123.61" y2="601.6" stroke="#4DA3F2" stroke-width="1.7" />
<line x1="1108.61" y1="684.51" x2="1123.61" y2="684.51" stroke="#4DA3F2" stroke-width="1.7" />
<line x1="1196.98" y1="644.77" x2="1196.98" y2="698.9" stroke="#4DA3F2" stroke-width="1.7" />
<line x1="1189.48" y1="644.77" x2="1204.48" y2="644.77" stroke="#4DA3F2" stroke-width="1.7" />
<line x1="1189.48" y1="698.9" x2="1204.48" y2="698.9" stroke="#4DA3F2" stroke-width="1.7" />
<line x1="1277.84" y1="678.35" x2="1277.84" y2="715.35" stroke="#4DA3F2" stroke-width="1.7" />
<line x1="1270.34" y1="678.35" x2="1285.34" y2="678.35" stroke="#4DA3F2" stroke-width="1.7" />
<line x1="1270.34" y1="715.35" x2="1285.34" y2="715.35" stroke="#4DA3F2" stroke-width="1.7" />
<line x1="1358.01" y1="686.57" x2="1358.01" y2="726.31" stroke="#4DA3F2" stroke-width="1.7" />
<line x1="1350.51" y1="686.57" x2="1365.51" y2="686.57" stroke="#4DA3F2" stroke-width="1.7" />
<line x1="1350.51" y1="726.31" x2="1365.51" y2="726.31" stroke="#4DA3F2" stroke-width="1.7" />
<line x1="1438.88" y1="682.46" x2="1438.88" y2="724.26" stroke="#4DA3F2" stroke-width="1.7" />
<line x1="1431.38" y1="682.46" x2="1446.38" y2="682.46" stroke="#4DA3F2" stroke-width="1.7" />
<line x1="1431.38" y1="724.26" x2="1446.38" y2="724.26" stroke="#4DA3F2" stroke-width="1.7" />
<line x1="1519.74" y1="657.1" x2="1519.74" y2="729.06" stroke="#4DA3F2" stroke-width="1.7" />
<line x1="1512.24" y1="657.1" x2="1527.24" y2="657.1" stroke="#4DA3F2" stroke-width="1.7" />
<line x1="1512.24" y1="729.06" x2="1527.24" y2="729.06" stroke="#4DA3F2" stroke-width="1.7" />
<circle cx="1116.11" cy="642.71" r="6.6" fill="#4DA3F2" />
<circle cx="1196.98" cy="672.18" r="6.6" fill="#4DA3F2" />
<circle cx="1277.84" cy="696.85" r="6.6" fill="#4DA3F2" />
<circle cx="1358.01" cy="706.44" r="6.6" fill="#4DA3F2" />
<circle cx="1438.88" cy="703.02" r="6.6" fill="#4DA3F2" />
<circle cx="1519.74" cy="692.74" r="6.6" fill="#4DA3F2" />
<polyline points="1116.11,593.37 1196.98,615.3 1277.84,642.03 1358.01,643.4 1438.88,642.71 1519.74,641.34" fill="none" stroke="#B52A1C" stroke-width="2" stroke-linejoin="round"/>
<line x1="1116.11" y1="552.94" x2="1116.11" y2="633.12" stroke="#B52A1C" stroke-width="1.7" />
<line x1="1108.61" y1="552.94" x2="1123.61" y2="552.94" stroke="#B52A1C" stroke-width="1.7" />
<line x1="1108.61" y1="633.12" x2="1123.61" y2="633.12" stroke="#B52A1C" stroke-width="1.7" />
<line x1="1196.98" y1="586.52" x2="1196.98" y2="643.4" stroke="#B52A1C" stroke-width="1.7" />
<line x1="1189.48" y1="586.52" x2="1204.48" y2="586.52" stroke="#B52A1C" stroke-width="1.7" />
<line x1="1189.48" y1="643.4" x2="1204.48" y2="643.4" stroke="#B52A1C" stroke-width="1.7" />
<line x1="1277.84" y1="610.5" x2="1277.84" y2="674.23" stroke="#B52A1C" stroke-width="1.7" />
<line x1="1270.34" y1="610.5" x2="1285.34" y2="610.5" stroke="#B52A1C" stroke-width="1.7" />
<line x1="1270.34" y1="674.23" x2="1285.34" y2="674.23" stroke="#B52A1C" stroke-width="1.7" />
<line x1="1358.01" y1="611.19" x2="1358.01" y2="676.29" stroke="#B52A1C" stroke-width="1.7" />
<line x1="1350.51" y1="611.19" x2="1365.51" y2="611.19" stroke="#B52A1C" stroke-width="1.7" />
<line x1="1350.51" y1="676.29" x2="1365.51" y2="676.29" stroke="#B52A1C" stroke-width="1.7" />
<line x1="1438.88" y1="608.45" x2="1438.88" y2="677.66" stroke="#B52A1C" stroke-width="1.7" />
<line x1="1431.38" y1="608.45" x2="1446.38" y2="608.45" stroke="#B52A1C" stroke-width="1.7" />
<line x1="1431.38" y1="677.66" x2="1446.38" y2="677.66" stroke="#B52A1C" stroke-width="1.7" />
<line x1="1519.74" y1="616.67" x2="1519.74" y2="664.64" stroke="#B52A1C" stroke-width="1.7" />
<line x1="1512.24" y1="616.67" x2="1527.24" y2="616.67" stroke="#B52A1C" stroke-width="1.7" />
<line x1="1512.24" y1="664.64" x2="1527.24" y2="664.64" stroke="#B52A1C" stroke-width="1.7" />
<polygon points="1116.11,586.62 1109.61,597.88 1122.61,597.88" fill="#B52A1C" />
<polygon points="1196.98,608.55 1190.48,619.8 1203.48,619.8" fill="#B52A1C" />
<polygon points="1277.84,635.27 1271.34,646.53 1284.34,646.53" fill="#B52A1C" />
<polygon points="1358.01,636.64 1351.51,647.9 1364.51,647.9" fill="#B52A1C" />
<polygon points="1438.88,635.96 1432.38,647.22 1445.38,647.22" fill="#B52A1C" />
<polygon points="1519.74,634.59 1513.24,645.84 1526.24,645.84" fill="#B52A1C" />
<line x1="1046.22" y1="802.38" x2="1573.87" y2="802.38" stroke="#000" stroke-width="2.1" />
<line x1="1061.98" y1="461.44" x2="1061.98" y2="802.38" stroke="#000" stroke-width="2.1" />
<line x1="1046.22" y1="462.49" x2="1061.98" y2="462.49" stroke="#000" stroke-width="2.1" />
<text font-size="22" text-anchor="end" x="1044.22" y="473.8" >15</text>
<line x1="1046.22" y1="576.24" x2="1061.98" y2="576.24" stroke="#000" stroke-width="2.1" />
<text font-size="22" text-anchor="end" x="1044.22" y="587.55" >10</text>
<line x1="1046.22" y1="689.31" x2="1061.98" y2="689.31" stroke="#000" stroke-width="2.1" />
<text font-size="22" text-anchor="end" x="1044.22" y="700.62" >5</text>
<line x1="1046.22" y1="802.38" x2="1061.98" y2="802.38" stroke="#000" stroke-width="2.1" />
<text font-size="22" text-anchor="end" x="1044.22" y="813.69" >0</text>
<line x1="1116.11" y1="802.38" x2="1116.11" y2="813.38" stroke="#000" stroke-width="2.1" />
<text font-size="21.5" text-anchor="middle" x="1114.11" y="835.96" >0</text>
<line x1="1196.98" y1="802.38" x2="1196.98" y2="813.38" stroke="#000" stroke-width="2.1" />
<text font-size="21.5" text-anchor="middle" x="1194.98" y="835.96" >15</text>
<line x1="1277.84" y1="802.38" x2="1277.84" y2="813.38" stroke="#000" stroke-width="2.1" />
<text font-size="21.5" text-anchor="middle" x="1275.84" y="835.96" >30</text>
<line x1="1358.01" y1="802.38" x2="1358.01" y2="813.38" stroke="#000" stroke-width="2.1" />
<text font-size="21.5" text-anchor="middle" x="1356.01" y="835.96" >60</text>
<line x1="1438.88" y1="802.38" x2="1438.88" y2="813.38" stroke="#000" stroke-width="2.1" />
<text font-size="21.5" text-anchor="middle" x="1436.88" y="835.96" >90</text>
<line x1="1519.74" y1="802.38" x2="1519.74" y2="813.38" stroke="#000" stroke-width="2.1" />
<text font-size="21.5" text-anchor="middle" x="1517.74" y="835.96" >120</text>
<text font-size="24.5" text-anchor="middle" x="1288" y="881.5" >Time (min)</text>
<text font-size="24.6" text-anchor="middle" transform="translate(1004 653.6) rotate(-90)" >Glucose (mmol/l)</text>
<line x1="1432.02" y1="490.58" x2="1469.71" y2="490.58" stroke="#4DA3F2" stroke-width="2" />
<circle cx="1450.87" cy="490.58" r="6.6" fill="#4DA3F2" />
<text font-size="20.6" x="1488.21" y="500.58" >CCH</text>
<line x1="1432.02" y1="538.55" x2="1469.71" y2="538.55" stroke="#B52A1C" stroke-width="2" />
<polygon points="1450.87,531.8 1444.37,543.05 1457.37,543.05" fill="#B52A1C" />
<text font-size="20.6" x="1488.21" y="548.55" >HCH</text>
</g>
<g id="panel_g">
<text font-size="33.5" font-weight="bold" x="1588" y="453.3" >g</text>
<rect x="1712.3" y="644.08" width="39.75" height="158.3" fill="none" stroke="#4DA3F2" stroke-width="2" />
<rect x="1821.25" y="670.12" width="39.06" height="132.26" fill="none" stroke="#B52A1C" stroke-width="2" />
<line x1="1732.17" y1="566.65" x2="1732.17" y2="717.41" stroke="#4DA3F2" stroke-width="1.7" />
<line x1="1719.15" y1="566.65" x2="1745.19" y2="566.65" stroke="#4DA3F2" stroke-width="1.7" />
<line x1="1719.15" y1="717.41" x2="1745.19" y2="717.41" stroke="#4DA3F2" stroke-width="1.7" />
<line x1="1841.13" y1="602.28" x2="1841.13" y2="733.85" stroke="#B52A1C" stroke-width="1.7" />
<line x1="1828.11" y1="602.28" x2="1854.15" y2="602.28" stroke="#B52A1C" stroke-width="1.7" />
<line x1="1828.11" y1="733.85" x2="1854.15" y2="733.85" stroke="#B52A1C" stroke-width="1.7" />
<circle cx="1732.17" cy="539.92" r="4.6" fill="#4DA3F2" />
<circle cx="1732.17" cy="591.32" r="4.6" fill="#4DA3F2" />
<circle cx="1732.17" cy="656.42" r="4.6" fill="#4DA3F2" />
<circle cx="1732.17" cy="698.22" r="4.6" fill="#4DA3F2" />
<circle cx="1732.17" cy="720.83" r="4.6" fill="#4DA3F2" />
<polygon points="1841.13,557.04 1836.53,549.07 1845.73,549.07" fill="#B52A1C" />
<polygon points="1841.13,681.76 1836.53,673.79 1845.73,673.79" fill="#B52A1C" />
<polygon points="1841.13,692.03 1836.53,684.07 1845.73,684.07" fill="#B52A1C" />
<polygon points="1832.22,714.65 1827.62,706.68 1836.82,706.68" fill="#B52A1C" />
<polygon points="1849.35,713.28 1844.75,705.31 1853.95,705.31" fill="#B52A1C" />
<line x1="1675.64" y1="802.38" x2="1884.3" y2="802.38" stroke="#000" stroke-width="2.1" />
<line x1="1688.18" y1="508.03" x2="1688.18" y2="802.38" stroke="#000" stroke-width="2.1" />
<line x1="1675.64" y1="509.08" x2="1688.18" y2="509.08" stroke="#000" stroke-width="2.1" />
<text font-size="20.1" text-anchor="end" x="1669.14" y="516.22" >500</text>
<line x1="1675.64" y1="567.33" x2="1688.18" y2="567.33" stroke="#000" stroke-width="2.1" />
<text font-size="20.1" text-anchor="end" x="1669.14" y="574.47" >400</text>
<line x1="1675.64" y1="626.27" x2="1688.18" y2="626.27" stroke="#000" stroke-width="2.1" />
<text font-size="20.1" text-anchor="end" x="1669.14" y="633.4" >300</text>
<line x1="1675.64" y1="685.2" x2="1688.18" y2="685.2" stroke="#000" stroke-width="2.1" />
<text font-size="20.1" text-anchor="end" x="1669.14" y="692.33" >200</text>
<line x1="1675.64" y1="743.45" x2="1688.18" y2="743.45" stroke="#000" stroke-width="2.1" />
<text font-size="20.1" text-anchor="end" x="1669.14" y="750.58" >100</text>
<line x1="1675.64" y1="802.38" x2="1688.18" y2="802.38" stroke="#000" stroke-width="2.1" />
<text font-size="20.1" text-anchor="end" x="1669.14" y="809.51" >0</text>
<polyline points="1734.91,524.16 1734.91,504.29 1840.44,504.29 1840.44,524.16" fill="none" stroke="#000" stroke-width="1.9" />
<text font-size="19" text-anchor="middle" x="1779.45" y="490.58" ><tspan font-style="italic">P</tspan>= 0.6905</text>
<text font-size="24.5" text-anchor="middle" transform="translate(1619 666.7) rotate(-90)" >AOC (mmol x min)</text>
<text font-size="19.8" text-anchor="end" transform="translate(1732.51 831.85) rotate(-45)" >CCH</text>
<text font-size="19.8" text-anchor="end" transform="translate(1840.78 831.85) rotate(-45)" >HCH</text>
</g>
<g id="panel_h">
<text font-size="33.5" font-weight="bold" x="12" y="896.5" >h</text>
<polyline points="94.29,1206.07 107.5,1191.61 121.43,1165.36 133.93,1142.14 147.32,1147.14 160.71,1131.79 174.46,1143.93 187.68,1155.54 200.89,1168.04 214.11,1174.82 227.32,1168.93 240.54,1179.29 253.75,1191.43 266.96,1190 280.18,1201.96 293.39,1204.64 306.61,1207.32 319.82,1214.46 333.04,1217.14 346.43,1216.79 359.82,1214.46 373.04,1217.14 386.25,1217.32 399.46,1217.32 412.68,1217.32 425.89,1216.43" fill="none" stroke="#EE8E2F" stroke-width="1.8" stroke-linejoin="round"/>
<polyline points="94.29,1181.43 107.5,1151.61 121.43,1173.39 134.82,1143.93 147.32,1158.21 160.71,1142.14 173.75,1131.79 187.68,1143.93 200.89,1153.75 214.11,1161.25 227.32,1185.89 240.54,1193.93 253.75,1193.93 266.96,1212.68 280.18,1204.64 293.39,1214.46 306.61,1217.14 319.82,1215.71 333.04,1217.32 346.43,1217.32 359.82,1216.43 373.04,1217.32 412.68,1217.32" fill="none" stroke="#A8231A" stroke-width="1.9" stroke-linejoin="round" stroke-dasharray="9 3 2 3"/>
<polyline points="94.29,1184.11 107.5,1013.57 121.43,1010.54 133.93,1070.71 147.32,1135 160.71,1165.36 173.21,1195.71 187.5,1210 200.89,1215.71 214.11,1216.43 227.32,1215.36 253.75,1216.79 306.61,1217.14" fill="none" stroke="#2E8B47" stroke-width="1.7" stroke-linejoin="round" stroke-dasharray="8 3 1.5 3 1.5 3"/>
<polyline points="94.29,1117.14 108.04,980 121.43,1001.96 133.93,1136.79 147.32,1174.29 160.71,1195.71 173.21,1207.32 187.5,1210.89 200.89,1211.79 214.11,1215.36 227.32,1214.46 253.75,1216.43 280.18,1217.14 346.43,1216.43 359.82,1217.32" fill="none" stroke="#8B55E8" stroke-width="1.6" stroke-linejoin="round" stroke-dasharray="7 3"/>
<polyline points="95.18,1142.14 108.93,1026.96 121.43,1043.93 133.93,1108.21 147.32,1127.86 160.71,1163.57 173.21,1201.07 187.5,1208.21 200.89,1215.36 227.32,1216.43 306.61,1217.14 412.68,1217.32" fill="none" stroke="#4B9EEB" stroke-width="1.8" stroke-linejoin="round" stroke-dasharray="1.6 2.8"/>
<polyline points="94.29,1144.82 107.5,1093.04 121.43,1004.64 133.93,1060 147.32,1125.18 160.71,1151.07 173.21,1208.21 187.5,1211.79 200.89,1215.71 253.75,1217.14 425.89,1217.32" fill="none" stroke="#6E7BF2" stroke-width="1.8" stroke-linejoin="round"/>
<line x1="57.2" y1="1218.2" x2="466.8" y2="1218.2" stroke="#000" stroke-width="2.1" />
<line x1="67.7" y1="913.86" x2="67.7" y2="1218.2" stroke="#000" stroke-width="2.1" />
<line x1="57.2" y1="914.91" x2="67.7" y2="914.91" stroke="#000" stroke-width="2.1" />
<text font-size="22" text-anchor="end" x="54.5" y="922.71" >40</text>
<line x1="57.2" y1="990.87" x2="67.7" y2="990.87" stroke="#000" stroke-width="2.1" />
<text font-size="22" text-anchor="end" x="54.5" y="998.67" >30</text>
<line x1="57.2" y1="1066.83" x2="67.7" y2="1066.83" stroke="#000" stroke-width="2.1" />
<text font-size="22" text-anchor="end" x="54.5" y="1074.63" >20</text>
<line x1="57.2" y1="1142.79" x2="67.7" y2="1142.79" stroke="#000" stroke-width="2.1" />
<text font-size="22" text-anchor="end" x="54.5" y="1150.59" >10</text>
<line x1="57.2" y1="1218.29" x2="67.7" y2="1218.29" stroke="#000" stroke-width="2.1" />
<text font-size="22" text-anchor="end" x="54.5" y="1226.09" >0</text>
<line x1="67.72" y1="1218.2" x2="67.72" y2="1229.7" stroke="#000" stroke-width="2.1" />
<text font-size="20.6" text-anchor="middle" x="67" y="1257.3" >0</text>
<line x1="134.07" y1="1218.2" x2="134.07" y2="1229.7" stroke="#000" stroke-width="2.1" />
<text font-size="20.6" text-anchor="middle" x="131.7" y="1257.3" >1000</text>
<line x1="200.42" y1="1218.2" x2="200.42" y2="1229.7" stroke="#000" stroke-width="2.1" />
<text font-size="20.6" text-anchor="middle" x="204.5" y="1257.3" >2000</text>
<line x1="266.77" y1="1218.2" x2="266.77" y2="1229.7" stroke="#000" stroke-width="2.1" />
<text font-size="20.6" text-anchor="middle" x="264.8" y="1257.3" >3000</text>
<line x1="333.12" y1="1218.2" x2="333.12" y2="1229.7" stroke="#000" stroke-width="2.1" />
<text font-size="20.6" text-anchor="middle" x="339.6" y="1257.3" >4000</text>
<line x1="399.48" y1="1218.2" x2="399.48" y2="1229.7" stroke="#000" stroke-width="2.1" />
<text font-size="20.6" text-anchor="middle" x="398.7" y="1257.3" >5000</text>
<line x1="465.83" y1="1218.2" x2="465.83" y2="1229.7" stroke="#000" stroke-width="2.1" />
<text font-size="20.6" text-anchor="middle" x="459" y="1257.3" >6000</text>
<text font-size="24" text-anchor="middle" x="265.5" y="1297" >Area (μm<tspan dy="-9" font-size="24">2</tspan><tspan dy="9">)</tspan></text>
<text font-size="25" text-anchor="middle" textLength="294" lengthAdjust="spacingAndGlyphs" transform="translate(19.5 1066) rotate(-90)" >Frequency distribution (%)</text>
<line x1="363.78" y1="946.03" x2="397.19" y2="946.03" stroke="#6E7BF2" stroke-width="1.8" />
<text font-size="20.6" x="414.12" y="953.44" >C</text>
<line x1="363.78" y1="984.46" x2="397.19" y2="984.46" stroke="#EE8E2F" stroke-width="1.8" />
<text font-size="26" x="414.12" y="993.82" >H</text>
<line x1="363.78" y1="1021.07" x2="397.19" y2="1021.07" stroke="#2E8B47" stroke-width="1.8" stroke-dasharray="8 3 1.5 3 1.5 3"/>
<text font-size="20.6" x="414.12" y="1028.49" >HC</text>
<line x1="363.78" y1="1062.71" x2="397.19" y2="1062.71" stroke="#8B55E8" stroke-width="1.8" stroke-dasharray="7 3"/>
<text font-size="20.6" x="414.12" y="1070.13" >CC_s</text>
<line x1="363.78" y1="1101.15" x2="397.19" y2="1101.15" stroke="#4B9EEB" stroke-width="1.8" stroke-dasharray="1.6 2.8"/>
<text font-size="20.6" x="414.12" y="1108.57" >CCH</text>
<line x1="363.78" y1="1139.59" x2="397.19" y2="1139.59" stroke="#A8231A" stroke-width="1.8" stroke-dasharray="9 3 2 3"/>
<text font-size="20.6" x="414.12" y="1147" >HCH</text>
</g>
<g id="panel_i">
<text font-size="33.5" font-weight="bold" x="512.3" y="897" >i</text>
<rect x="508.9" y="905" width="293.1" height="170" fill="#C66BCB" filter="url(#histA)"/>
<rect x="508.9" y="1075" width="293.1" height="170.4" fill="#C66BCB" filter="url(#histB)"/>
<g clip-path="url(#clB)"><g filter="url(#blB)" opacity="0.28"><ellipse cx="561.2" cy="1113.4" rx="57.7" ry="29.7" fill="#EBC0EE"/><ellipse cx="648.5" cy="1167.6" rx="50.7" ry="45.4" fill="#EBC0EE"/><ellipse cx="762.1" cy="1122.2" rx="41.9" ry="47.2" fill="#EBC0EE"/><ellipse cx="543.7" cy="1197.3" rx="41.9" ry="34.9" fill="#EBC0EE"/><ellipse cx="657.3" cy="1225.3" rx="45.4" ry="17.5" fill="#EBC0EE"/><ellipse cx="737.7" cy="1202.6" rx="21.0" ry="17.5" fill="#EBC0EE"/></g>
<rect x="508.9" y="1075" width="293.1" height="170.4" fill="#fff" filter="url(#spkB)" mask="url(#mkB)"/>
</g>
<ellipse cx="586.5" cy="920.3" rx="5.2" ry="3.1" fill="#fff" opacity="0.95" transform="rotate(-45 586.5 920.3)"/>
<ellipse cx="680.0" cy="950.0" rx="3.8" ry="2.4" fill="#fff" opacity="0.95" transform="rotate(-50 680.0 950.0)"/>
<ellipse cx="569.9" cy="987.6" rx="4.5" ry="2.1" fill="#fff" opacity="0.95" transform="rotate(-40 569.9 987.6)"/>
<ellipse cx="634.6" cy="1000.7" rx="4.5" ry="2.8" fill="#fff" opacity="0.95" transform="rotate(-50 634.6 1000.7)"/>
<ellipse cx="709.7" cy="1010.3" rx="4.9" ry="3.8" fill="#fff" opacity="0.95" transform="rotate(-30 709.7 1010.3)"/>
<ellipse cx="525.9" cy="1024.3" rx="3.5" ry="2.1" fill="#fff" opacity="0.95" transform="rotate(-30 525.9 1024.3)"/>
<ellipse cx="756.0" cy="1054.0" rx="3.8" ry="2.4" fill="#fff" opacity="0.95" transform="rotate(-70 756.0 1054.0)"/>
<ellipse cx="617.1" cy="1065.4" rx="3.8" ry="1.4" fill="#fff" opacity="0.95" transform="rotate(-40 617.1 1065.4)"/>
<ellipse cx="560.3" cy="1031.3" rx="2.8" ry="1.2" fill="#fff" opacity="0.95" transform="rotate(50 560.3 1031.3)"/>
<ellipse cx="751.7" cy="1070.6" rx="3.1" ry="1.6" fill="#fff" opacity="0.95" transform="rotate(-80 751.7 1070.6)"/>
<ellipse cx="795.3" cy="919.5" rx="3.8" ry="1.7" fill="#fff" opacity="0.95" transform="rotate(-60 795.3 919.5)"/>
<ellipse cx="513.1" cy="923.0" rx="2.4" ry="1.0" fill="#fff" opacity="0.95" transform="rotate(-45 513.1 923.0)"/>
<ellipse cx="772.6" cy="1213.1" rx="7.0" ry="2.8" fill="#fff" opacity="0.92" transform="rotate(-10 772.6 1213.1)"/>
<ellipse cx="758.6" cy="1158.0" rx="3.8" ry="2.4" fill="#fff" opacity="0.92" transform="rotate(0 758.6 1158.0)"/>
<ellipse cx="513.1" cy="1082.9" rx="3.5" ry="2.1" fill="#fff" opacity="0.92" transform="rotate(-30 513.1 1082.9)"/>
<rect x="508.9" y="905" width="293.1" height="340.4" fill="none" stroke="#000" stroke-width="2" />
<line x1="508.9" y1="1075" x2="802" y2="1075" stroke="#000" stroke-width="2" />
<line x1="512.6" y1="1070.6" x2="553.3" y2="1070.6" stroke="#000" stroke-width="2.2" />
<line x1="512.6" y1="1240.1" x2="553.3" y2="1240.1" stroke="#000" stroke-width="2.2" />
<text font-size="3.2" text-anchor="middle" x="535" y="1067.5" class="ns">250 μm</text>
<text font-size="3.2" text-anchor="middle" x="535" y="1237" class="ns">250 μm</text>
<text font-size="25.6" font-weight="bold" textLength="52.6" lengthAdjust="spacingAndGlyphs" x="516.6" y="929.3" >CCH</text>
<text font-size="25.6" font-weight="bold" textLength="52.6" lengthAdjust="spacingAndGlyphs" x="516.6" y="1099.7" >HCH</text>
</g>
<g id="panel_j">
<text font-size="33.5" font-weight="bold" x="881" y="895.5" >j</text>
<line x1="946.7" y1="1217.05" x2="946.7" y2="1221.21" stroke="#6A5AEB" stroke-width="1.6" />
<line x1="946.7" y1="1224.67" x2="946.7" y2="1230.89" stroke="#6A5AEB" stroke-width="1.6" />
<line x1="933.2" y1="1217.05" x2="960.19" y2="1217.05" stroke="#6A5AEB" stroke-width="1.6" />
<line x1="933.2" y1="1230.89" x2="960.19" y2="1230.89" stroke="#6A5AEB" stroke-width="1.6" />
<rect x="923.86" y="1221.21" width="45.67" height="3.46" fill="none" stroke="#6A5AEB" stroke-width="2" />
<line x1="923.86" y1="1222.94" x2="969.53" y2="1222.94" stroke="#6A5AEB" stroke-width="1.6" />
<line x1="1025.75" y1="946.5" x2="1025.75" y2="1033.68" stroke="#E8923A" stroke-width="1.6" />
<line x1="1025.75" y1="1099.42" x2="1025.75" y2="1168.96" stroke="#E8923A" stroke-width="1.6" />
<line x1="1012.09" y1="946.5" x2="1039.07" y2="946.5" stroke="#E8923A" stroke-width="1.6" />
<line x1="1012.09" y1="1168.96" x2="1039.07" y2="1168.96" stroke="#E8923A" stroke-width="1.6" />
<rect x="1002.75" y="1033.68" width="46.02" height="65.74" fill="none" stroke="#E8923A" stroke-width="2" />
<line x1="1002.75" y1="1090.08" x2="1048.76" y2="1090.08" stroke="#E8923A" stroke-width="1.6" />
<line x1="1104.29" y1="1154.78" x2="1104.29" y2="1198.72" stroke="#8A4EF0" stroke-width="1.6" />
<line x1="1104.29" y1="1223.28" x2="1104.29" y2="1230.89" stroke="#8A4EF0" stroke-width="1.6" />
<line x1="1090.62" y1="1154.78" x2="1117.61" y2="1154.78" stroke="#8A4EF0" stroke-width="1.6" />
<line x1="1090.62" y1="1230.89" x2="1117.61" y2="1230.89" stroke="#8A4EF0" stroke-width="1.6" />
<rect x="1081.28" y="1198.72" width="46.02" height="24.56" fill="none" stroke="#8A4EF0" stroke-width="2" />
<line x1="1081.28" y1="1213.94" x2="1127.3" y2="1213.94" stroke="#8A4EF0" stroke-width="1.6" />
<line x1="1182.83" y1="1068.63" x2="1182.83" y2="1209.79" stroke="#2E8B47" stroke-width="1.6" />
<line x1="1182.83" y1="1222.59" x2="1182.83" y2="1230.89" stroke="#2E8B47" stroke-width="1.6" />
<line x1="1169.16" y1="1068.63" x2="1196.15" y2="1068.63" stroke="#2E8B47" stroke-width="1.6" />
<line x1="1169.16" y1="1230.89" x2="1196.15" y2="1230.89" stroke="#2E8B47" stroke-width="1.6" />
<rect x="1159.82" y="1209.79" width="46.02" height="12.8" fill="none" stroke="#2E8B47" stroke-width="2" />
<line x1="1159.82" y1="1219.82" x2="1205.84" y2="1219.82" stroke="#2E8B47" stroke-width="1.6" />
<line x1="1261.37" y1="1066.55" x2="1261.37" y2="1111.18" stroke="#4DA3F2" stroke-width="1.6" />
<line x1="1261.37" y1="1212.9" x2="1261.37" y2="1226.4" stroke="#4DA3F2" stroke-width="1.6" />
<line x1="1247.7" y1="1066.55" x2="1274.69" y2="1066.55" stroke="#4DA3F2" stroke-width="1.6" />
<line x1="1247.7" y1="1226.4" x2="1274.69" y2="1226.4" stroke="#4DA3F2" stroke-width="1.6" />
<rect x="1238.36" y="1111.18" width="46.02" height="101.72" fill="none" stroke="#4DA3F2" stroke-width="2" />
<line x1="1238.36" y1="1180.38" x2="1284.38" y2="1180.38" stroke="#4DA3F2" stroke-width="1.6" />
<line x1="1340.08" y1="1013.96" x2="1340.08" y2="1030.22" stroke="#B52A1C" stroke-width="1.6" />
<line x1="1340.08" y1="1147.86" x2="1340.08" y2="1199.06" stroke="#B52A1C" stroke-width="1.6" />
<line x1="1326.58" y1="1013.96" x2="1353.57" y2="1013.96" stroke="#B52A1C" stroke-width="1.6" />
<line x1="1326.58" y1="1199.06" x2="1353.57" y2="1199.06" stroke="#B52A1C" stroke-width="1.6" />
<rect x="1317.24" y="1030.22" width="45.67" height="117.63" fill="none" stroke="#B52A1C" stroke-width="2" />
<line x1="1317.24" y1="1105.99" x2="1362.91" y2="1105.99" stroke="#B52A1C" stroke-width="1.6" />
<circle cx="926.28" cy="1225.7" r="5.2" fill="#6E6E6E" opacity="0.85"/>
<circle cx="936.32" cy="1219.13" r="5.2" fill="#6E6E6E" opacity="0.85"/>
<circle cx="946.7" cy="1221.9" r="5.2" fill="#6E6E6E" opacity="0.85"/>
<circle cx="957.42" cy="1221.9" r="5.2" fill="#6E6E6E" opacity="0.85"/>
<circle cx="967.8" cy="1216.36" r="5.2" fill="#6E6E6E" opacity="0.85"/>
<circle cx="967.8" cy="1231.58" r="5.2" fill="#6E6E6E" opacity="0.85"/>
<circle cx="1104.12" cy="1154.78" r="5.2" fill="#6E6E6E" opacity="0.85"/>
<circle cx="1104.12" cy="1185.57" r="5.2" fill="#6E6E6E" opacity="0.85"/>
<circle cx="1111.04" cy="1198.37" r="5.2" fill="#6E6E6E" opacity="0.85"/>
<circle cx="1096.85" cy="1202.87" r="5.2" fill="#6E6E6E" opacity="0.85"/>
<circle cx="1111.04" cy="1212.21" r="5.2" fill="#6E6E6E" opacity="0.85"/>
<circle cx="1096.85" cy="1222.59" r="5.2" fill="#6E6E6E" opacity="0.85"/>
<circle cx="1083.36" cy="1231.58" r="5.2" fill="#6E6E6E" opacity="0.85"/>
<circle cx="1111.04" cy="1231.58" r="5.2" fill="#6E6E6E" opacity="0.85"/>
<circle cx="1124.53" cy="1225.36" r="5.2" fill="#6E6E6E" opacity="0.85"/>
<circle cx="1261.19" cy="1066.9" r="5.2" fill="#6E6E6E" opacity="0.85"/>
<circle cx="1254.27" cy="1107.72" r="5.2" fill="#6E6E6E" opacity="0.85"/>
<circle cx="1268.11" cy="1107.03" r="5.2" fill="#6E6E6E" opacity="0.85"/>
<circle cx="1261.19" cy="1138.86" r="5.2" fill="#6E6E6E" opacity="0.85"/>
<circle cx="1261.19" cy="1162.04" r="5.2" fill="#6E6E6E" opacity="0.85"/>
<circle cx="1261.19" cy="1180.38" r="5.2" fill="#6E6E6E" opacity="0.85"/>
<circle cx="1240.44" cy="1215.32" r="5.2" fill="#6E6E6E" opacity="0.85"/>
<circle cx="1281.95" cy="1215.67" r="5.2" fill="#6E6E6E" opacity="0.85"/>
<circle cx="1268.11" cy="1220.86" r="5.2" fill="#6E6E6E" opacity="0.85"/>
<circle cx="1240.44" cy="1226.05" r="5.2" fill="#6E6E6E" opacity="0.85"/>
<polygon points="1025.58,941.04 1020.33,950.13 1030.83,950.13" fill="#6E6E6E" opacity="0.85"/>
<polygon points="1025.58,1025.46 1020.33,1034.55 1030.83,1034.55" fill="#6E6E6E" opacity="0.85"/>
<polygon points="1025.58,1068.36 1020.33,1077.45 1030.83,1077.45" fill="#6E6E6E" opacity="0.85"/>
<polygon points="1014.85,1089.81 1009.6,1098.91 1020.1,1098.91" fill="#6E6E6E" opacity="0.85"/>
<polygon points="1036.31,1085.66 1031.06,1094.75 1041.56,1094.75" fill="#6E6E6E" opacity="0.85"/>
<polygon points="1036.31,1098.46 1031.06,1107.55 1041.56,1107.55" fill="#6E6E6E" opacity="0.85"/>
<polygon points="1025.58,1164.2 1020.33,1173.29 1030.83,1173.29" fill="#6E6E6E" opacity="0.85"/>
<polygon points="1182.66,1063.86 1177.41,1072.96 1187.91,1072.96" fill="#6E6E6E" opacity="0.85"/>
<polygon points="1168.82,1202.95 1163.57,1212.04 1174.07,1212.04" fill="#6E6E6E" opacity="0.85"/>
<polygon points="1182.66,1202.95 1177.41,1212.04 1187.91,1212.04" fill="#6E6E6E" opacity="0.85"/>
<polygon points="1196.5,1200.53 1191.25,1209.62 1201.75,1209.62" fill="#6E6E6E" opacity="0.85"/>
<polygon points="1161.9,1215.4 1156.65,1224.5 1167.15,1224.5" fill="#6E6E6E" opacity="0.85"/>
<polygon points="1175.74,1218.52 1170.49,1227.61 1180.99,1227.61" fill="#6E6E6E" opacity="0.85"/>
<polygon points="1189.58,1221.29 1184.33,1230.38 1194.83,1230.38" fill="#6E6E6E" opacity="0.85"/>
<polygon points="1203.42,1221.29 1198.17,1230.38 1208.67,1230.38" fill="#6E6E6E" opacity="0.85"/>
<polygon points="1161.9,1226.82 1156.65,1235.91 1167.15,1235.91" fill="#6E6E6E" opacity="0.85"/>
<polygon points="1319.32,1009.2 1314.07,1018.29 1324.57,1018.29" fill="#6E6E6E" opacity="0.85"/>
<polygon points="1340.08,1016.12 1334.83,1025.21 1345.33,1025.21" fill="#6E6E6E" opacity="0.85"/>
<polygon points="1360.84,1013 1355.59,1022.1 1366.09,1022.1" fill="#6E6E6E" opacity="0.85"/>
<polygon points="1340.08,1042.41 1334.83,1051.51 1345.33,1051.51" fill="#6E6E6E" opacity="0.85"/>
<polygon points="1340.08,1061.44 1334.83,1070.53 1345.33,1070.53" fill="#6E6E6E" opacity="0.85"/>
<polygon points="1340.08,1093.27 1334.83,1102.36 1345.33,1102.36" fill="#6E6E6E" opacity="0.85"/>
<polygon points="1340.08,1109.53 1334.83,1118.63 1345.33,1118.63" fill="#6E6E6E" opacity="0.85"/>
<polygon points="1329.7,1136.87 1324.45,1145.96 1334.95,1145.96" fill="#6E6E6E" opacity="0.85"/>
<polygon points="1350.46,1138.25 1345.21,1147.34 1355.71,1147.34" fill="#6E6E6E" opacity="0.85"/>
<polygon points="1340.08,1149.32 1334.83,1158.41 1345.33,1158.41" fill="#6E6E6E" opacity="0.85"/>
<polygon points="1340.08,1161.08 1334.83,1170.18 1345.33,1170.18" fill="#6E6E6E" opacity="0.85"/>
<polygon points="1340.08,1194.64 1334.83,1203.74 1345.33,1203.74" fill="#6E6E6E" opacity="0.85"/>
<line x1="883.04" y1="1231.24" x2="1391.63" y2="1231.24" stroke="#000" stroke-width="2.1" />
<line x1="894.8" y1="912.58" x2="894.8" y2="1231.24" stroke="#000" stroke-width="2.1" />
<line x1="883.04" y1="913.63" x2="894.8" y2="913.63" stroke="#000" stroke-width="2.1" />
<text font-size="22.3" text-anchor="end" x="881.54" y="921.53" >0.20</text>
<line x1="883.04" y1="992.86" x2="894.8" y2="992.86" stroke="#000" stroke-width="2.1" />
<text font-size="22.3" text-anchor="end" x="881.54" y="1000.76" >0.15</text>
<line x1="883.04" y1="1072.09" x2="894.8" y2="1072.09" stroke="#000" stroke-width="2.1" />
<text font-size="22.3" text-anchor="end" x="881.54" y="1079.99" >0.10</text>
<line x1="883.04" y1="1151.66" x2="894.8" y2="1151.66" stroke="#000" stroke-width="2.1" />
<text font-size="22.3" text-anchor="end" x="881.54" y="1159.56" >0.05</text>
<line x1="883.04" y1="1231.24" x2="894.8" y2="1231.24" stroke="#000" stroke-width="2.1" />
<text font-size="22.3" text-anchor="end" x="881.54" y="1239.14" >0.00</text>
<line x1="946.7" y1="1231.24" x2="946.7" y2="1243" stroke="#000" stroke-width="2.1" />
<text font-size="21" text-anchor="end" transform="translate(951.3 1258) rotate(-45)" >C</text>
<line x1="1025.58" y1="1231.24" x2="1025.58" y2="1243" stroke="#000" stroke-width="2.1" />
<text font-size="21" text-anchor="end" transform="translate(1030.18 1258) rotate(-45)" >H</text>
<line x1="1104.12" y1="1231.24" x2="1104.12" y2="1243" stroke="#000" stroke-width="2.1" />
<text font-size="21" text-anchor="end" transform="translate(1108.72 1258) rotate(-45)" >CC_s</text>
<line x1="1182.66" y1="1231.24" x2="1182.66" y2="1243" stroke="#000" stroke-width="2.1" />
<text font-size="21" text-anchor="end" transform="translate(1187.26 1258) rotate(-45)" >HC</text>
<line x1="1261.19" y1="1231.24" x2="1261.19" y2="1243" stroke="#000" stroke-width="2.1" />
<text font-size="21" text-anchor="end" transform="translate(1265.79 1258) rotate(-45)" >CCH</text>
<line x1="1340.08" y1="1231.24" x2="1340.08" y2="1243" stroke="#000" stroke-width="2.1" />
<text font-size="21" text-anchor="end" transform="translate(1344.68 1258) rotate(-45)" >HCH</text>
<polyline points="946.7,931.62 946.7,914.67 1025.58,914.67 1025.58,931.62" fill="none" stroke="#000" stroke-width="1.9" />
<polyline points="1104.12,925.74 1104.12,914.67 1182.66,914.67 1182.66,925.74" fill="none" stroke="#000" stroke-width="1.9" />
<polyline points="1256,925.74 1256,914.67 1335.23,914.67 1335.23,925.74" fill="none" stroke="#000" stroke-width="1.9" />
<text font-size="21.2" text-anchor="middle" x="983.37" y="904.98" ><tspan font-style="italic">P</tspan> = 0.0012</text>
<text font-size="21.2" text-anchor="middle" x="1140.79" y="904.98" ><tspan font-style="italic">P</tspan> = 0.7396</text>
<text font-size="21.2" text-anchor="middle" x="1293.72" y="904.98" ><tspan font-style="italic">P</tspan> = 0.0105</text>
<text font-size="24.5" text-anchor="middle" textLength="210" lengthAdjust="spacingAndGlyphs" transform="translate(824 1063.4) rotate(-90)" >μg tg/μg liver tissue</text>
</g>
<g id="panel_k">
<text font-size="33.5" font-weight="bold" x="1437" y="897.3" >k</text>
<rect x="1452.23" y="930.93" width="32.65" height="70.08" fill="#F0EFE1" stroke="#000" stroke-width="1.9" />
<rect x="1452.23" y="1001.88" width="32.65" height="70.08" fill="#F0EFE1" stroke="#000" stroke-width="1.9" />
<rect x="1452.23" y="1072.82" width="32.65" height="70.08" fill="#F0EFE1" stroke="#000" stroke-width="1.9" />
<rect x="1452.23" y="1143.77" width="32.65" height="70.08" fill="#F0EFE1" stroke="#000" stroke-width="1.9" />
<rect x="1487.84" y="930.93" width="32.65" height="70.08" fill="#F0EFE1" stroke="#000" stroke-width="1.9" />
<rect x="1487.84" y="1001.88" width="32.65" height="70.08" fill="#F0EFE1" stroke="#000" stroke-width="1.9" />
<rect x="1487.84" y="1072.82" width="32.65" height="70.08" fill="#F0EFE1" stroke="#000" stroke-width="1.9" />
<rect x="1487.84" y="1143.77" width="32.65" height="70.08" fill="#F0EFE1" stroke="#000" stroke-width="1.9" />
<rect x="1523.44" y="930.93" width="32.65" height="70.08" fill="#F0EFE1" stroke="#000" stroke-width="1.9" />
<rect x="1523.44" y="1001.88" width="32.65" height="70.08" fill="#F0EFE1" stroke="#000" stroke-width="1.9" />
<rect x="1523.44" y="1072.82" width="32.65" height="70.08" fill="#F0EFE1" stroke="#000" stroke-width="1.9" />
<rect x="1523.44" y="1143.77" width="32.65" height="70.08" fill="#2D4864" stroke="#000" stroke-width="1.9" />
<rect x="1559.05" y="930.93" width="32.65" height="70.08" fill="#2D4864" stroke="#000" stroke-width="1.9" />
<rect x="1559.05" y="1001.88" width="32.65" height="70.08" fill="#EDBE49" stroke="#000" stroke-width="1.9" />
<rect x="1559.05" y="1072.82" width="32.65" height="70.08" fill="#F36B42" stroke="#000" stroke-width="1.9" />
<rect x="1559.05" y="1143.77" width="32.65" height="70.08" fill="#F36B42" stroke="#000" stroke-width="1.9" />
<rect x="1594.65" y="930.93" width="32.65" height="70.08" fill="#F0EFE1" stroke="#000" stroke-width="1.9" />
<rect x="1594.65" y="1001.88" width="32.65" height="70.08" fill="#F0EFE1" stroke="#000" stroke-width="1.9" />
<rect x="1594.65" y="1072.82" width="32.65" height="70.08" fill="#F0EFE1" stroke="#000" stroke-width="1.9" />
<rect x="1594.65" y="1143.77" width="32.65" height="70.08" fill="#F0EFE1" stroke="#000" stroke-width="1.9" />
<rect x="1630.26" y="930.93" width="32.65" height="70.08" fill="#2D4864" stroke="#000" stroke-width="1.9" />
<rect x="1630.26" y="1001.88" width="32.65" height="70.08" fill="#2D4864" stroke="#000" stroke-width="1.9" />
<rect x="1630.26" y="1072.82" width="32.65" height="70.08" fill="#EDBE49" stroke="#000" stroke-width="1.9" />
<rect x="1630.26" y="1143.77" width="32.65" height="70.08" fill="#F36B42" stroke="#000" stroke-width="1.9" />
<polyline points="1446.79,912.65 1446.79,1230.83 1670.95,1230.83" fill="none" stroke="#000" stroke-width="1.8" />
<line x1="1468.99" y1="1230.83" x2="1468.99" y2="1235.18" stroke="#000" stroke-width="0.9" />
<line x1="1504.46" y1="1230.83" x2="1504.46" y2="1235.18" stroke="#000" stroke-width="0.9" />
<line x1="1539.72" y1="1230.83" x2="1539.72" y2="1235.18" stroke="#000" stroke-width="0.9" />
<line x1="1575.63" y1="1230.83" x2="1575.63" y2="1235.18" stroke="#000" stroke-width="0.9" />
<line x1="1610.67" y1="1230.83" x2="1610.67" y2="1235.18" stroke="#000" stroke-width="0.9" />
<line x1="1646.36" y1="1230.83" x2="1646.36" y2="1235.18" stroke="#000" stroke-width="0.9" />
<text font-size="21" text-anchor="middle" x="1428.29" y="945.83" >4</text>
<text font-size="21" text-anchor="middle" x="1428.29" y="1006.11" >3</text>
<text font-size="21" text-anchor="middle" x="1428.29" y="1079.02" >2</text>
<text font-size="21" text-anchor="middle" x="1428.29" y="1147.57" >1</text>
<text font-size="21" text-anchor="middle" x="1428.29" y="1217.22" >0</text>
<text font-size="24" text-anchor="middle" transform="translate(1412.62 1053.02) rotate(-90)" >n</text>
<text font-size="19.8" text-anchor="end" transform="translate(1453.54 1269.56) rotate(-60)" >C</text>
<text font-size="19.8" text-anchor="end" transform="translate(1507.73 1248.89) rotate(-60)" >CC_s</text>
<text font-size="19.8" text-anchor="end" transform="translate(1551.04 1251.72) rotate(-60)" >CCH</text>
<text font-size="19.8" text-anchor="end" transform="translate(1574.76 1266.3) rotate(-60)" >H</text>
<text font-size="19.8" text-anchor="end" transform="translate(1621.77 1251.72) rotate(-60)" >HC</text>
<text font-size="19.8" text-anchor="end" transform="translate(1653.33 1251.72) rotate(-60)" >HCH</text>
<text font-size="20.8" x="1671.39" y="938.33" >Steatosis</text>
<rect x="1675.96" y="949.75" width="15.67" height="20.02" fill="#F0EFE1" stroke="#000" stroke-width="2" />
<text font-size="21" x="1695.98" y="965.23" >&lt;5 %</text>
<rect x="1675.96" y="970.86" width="15.67" height="20.24" fill="#2D4864" stroke="#000" stroke-width="2" />
<text font-size="21" x="1699.9" y="986.56" >5-33 %</text>
<rect x="1675.96" y="992.63" width="15.67" height="19.59" fill="#EDBE49" stroke="#000" stroke-width="2" />
<text font-size="21" x="1696.42" y="1007.67" >33-66 %</text>
<rect x="1675.96" y="1014.39" width="15.67" height="20.24" fill="#F36B42" stroke="#000" stroke-width="2" />
<text font-size="21" x="1695.98" y="1030.08" >&gt;66 %</text>
<rect x="1816.95" y="922.22" width="36.85" height="71.38" fill="#F0EFE1" stroke="#000" stroke-width="1.9" />
<rect x="1816.95" y="994.53" width="36.85" height="71.38" fill="#F0EFE1" stroke="#000" stroke-width="1.9" />
<rect x="1816.95" y="1066.84" width="36.85" height="71.38" fill="#F0EFE1" stroke="#000" stroke-width="1.9" />
<rect x="1816.95" y="1139.15" width="36.85" height="71.38" fill="#F0EFE1" stroke="#000" stroke-width="1.9" />
<rect x="1857.39" y="922.22" width="36.85" height="71.38" fill="#F0EFE1" stroke="#000" stroke-width="1.9" />
<rect x="1857.39" y="994.53" width="36.85" height="71.38" fill="#F0EFE1" stroke="#000" stroke-width="1.9" />
<rect x="1857.39" y="1066.84" width="36.85" height="71.38" fill="#F0EFE1" stroke="#000" stroke-width="1.9" />
<rect x="1857.39" y="1139.15" width="36.85" height="71.38" fill="#F0EFE1" stroke="#000" stroke-width="1.9" />
<rect x="1897.84" y="922.22" width="36.85" height="71.38" fill="#2D4864" stroke="#000" stroke-width="1.9" />
<rect x="1897.84" y="994.53" width="36.85" height="71.38" fill="#F0EFE1" stroke="#000" stroke-width="1.9" />
<rect x="1897.84" y="1066.84" width="36.85" height="71.38" fill="#F0EFE1" stroke="#000" stroke-width="1.9" />
<rect x="1897.84" y="1139.15" width="36.85" height="71.38" fill="#EDBE49" stroke="#000" stroke-width="1.9" />
<rect x="1938.29" y="922.22" width="36.85" height="71.38" fill="#F36B42" stroke="#000" stroke-width="1.9" />
<rect x="1938.29" y="994.53" width="36.85" height="71.38" fill="#F36B42" stroke="#000" stroke-width="1.9" />
<rect x="1938.29" y="1066.84" width="36.85" height="71.38" fill="#F36B42" stroke="#000" stroke-width="1.9" />
<rect x="1938.29" y="1139.15" width="36.85" height="71.38" fill="#F36B42" stroke="#000" stroke-width="1.9" />
<rect x="1978.73" y="922.22" width="36.85" height="71.38" fill="#F0EFE1" stroke="#000" stroke-width="1.9" />
<rect x="1978.73" y="994.53" width="36.85" height="71.38" fill="#F0EFE1" stroke="#000" stroke-width="1.9" />
<rect x="1978.73" y="1066.84" width="36.85" height="71.38" fill="#F0EFE1" stroke="#000" stroke-width="1.9" />
<rect x="1978.73" y="1139.15" width="36.85" height="71.38" fill="#F0EFE1" stroke="#000" stroke-width="1.9" />
<rect x="2019.18" y="922.22" width="36.85" height="71.38" fill="#F36B42" stroke="#000" stroke-width="1.9" />
<rect x="2019.18" y="994.53" width="36.85" height="71.38" fill="#F36B42" stroke="#000" stroke-width="1.9" />
<rect x="2019.18" y="1066.84" width="36.85" height="71.38" fill="#EDBE49" stroke="#000" stroke-width="1.9" />
<rect x="2019.18" y="1139.15" width="36.85" height="71.38" fill="#EDBE49" stroke="#000" stroke-width="1.9" />
<polyline points="1811.11,907.99 1811.11,1228.02 2056.04,1228.02" fill="none" stroke="#000" stroke-width="1.8" />
<line x1="1835.14" y1="1228.02" x2="1835.14" y2="1231.75" stroke="#000" stroke-width="0.9" />
<line x1="1875.96" y1="1228.02" x2="1875.96" y2="1231.75" stroke="#000" stroke-width="0.9" />
<line x1="1916.08" y1="1228.02" x2="1916.08" y2="1231.75" stroke="#000" stroke-width="0.9" />
<line x1="1957.13" y1="1228.02" x2="1957.13" y2="1231.75" stroke="#000" stroke-width="0.9" />
<line x1="1997.25" y1="1228.02" x2="1997.25" y2="1231.75" stroke="#000" stroke-width="0.9" />
<line x1="2038.07" y1="1228.02" x2="2038.07" y2="1231.75" stroke="#000" stroke-width="0.9" />
<line x1="1808.78" y1="922.69" x2="1811.11" y2="922.69" stroke="#555" stroke-width="0.7" />
<line x1="1808.78" y1="994.3" x2="1811.11" y2="994.3" stroke="#555" stroke-width="0.7" />
<line x1="1808.78" y1="1066.14" x2="1811.11" y2="1066.14" stroke="#555" stroke-width="0.7" />
<line x1="1808.78" y1="1138.45" x2="1811.11" y2="1138.45" stroke="#555" stroke-width="0.7" />
<line x1="1808.78" y1="1210.06" x2="1811.11" y2="1210.06" stroke="#555" stroke-width="0.7" />
<text font-size="21" text-anchor="middle" x="1787.32" y="937.65" >4</text>
<text font-size="21" text-anchor="middle" x="1787.32" y="998.3" >3</text>
<text font-size="21" text-anchor="middle" x="1787.32" y="1074.11" >2</text>
<text font-size="21" text-anchor="middle" x="1787.32" y="1144.08" >1</text>
<text font-size="21" text-anchor="middle" x="1787.32" y="1214.06" >0</text>
<text font-size="24" text-anchor="middle" transform="translate(1772.16 1099.26) rotate(-90)" >n</text>
<text font-size="19.8" text-anchor="end" transform="translate(1825.58 1259.75) rotate(-60)" >C</text>
<text font-size="19.8" text-anchor="end" transform="translate(1878.29 1239.69) rotate(-60)" >CC_s</text>
<text font-size="19.8" text-anchor="end" transform="translate(1922.38 1245.28) rotate(-60)" >CCH</text>
<text font-size="19.8" text-anchor="end" transform="translate(1957.6 1256.01) rotate(-60)" >H</text>
<text font-size="19.8" text-anchor="end" transform="translate(2004.25 1240.62) rotate(-60)" >HC</text>
<text font-size="19.8" text-anchor="end" transform="translate(2046.01 1245.28) rotate(-60)" >HCH</text>
<text font-size="20.8" x="2064.9" y="929.45" >Diagnosis</text>
<rect x="2064.43" y="940.65" width="15.63" height="21.46" fill="#2D4864" stroke="#000" stroke-width="2" />
<text font-size="21" x="2081.23" y="955.81" >Mild</text>
<rect x="2064.43" y="979.37" width="15.63" height="20.53" fill="#F36B42" stroke="#000" stroke-width="2" />
<text font-size="21" x="2081.23" y="997.8" >NASH</text>
<rect x="2064.43" y="1000.83" width="15.63" height="20.76" fill="#F0EFE1" stroke="#000" stroke-width="2" />
<text font-size="21" x="2081.23" y="1018.32" >Normal</text>
<rect x="2064.43" y="1022.29" width="15.63" height="20.76" fill="#EDBE49" stroke="#000" stroke-width="2" />
<text font-size="21" x="2081.23" y="1039.32" >Steatosis</text>
<text font-size="21" x="2081.23" y="976.8" >changes</text>
</g>
<g id="panel_l">
<text font-size="33.5" font-weight="bold" x="26.4" y="1361.3" >l</text>
<g stroke-dasharray="0 4.6" stroke-linecap="round" stroke-linejoin="round">
<use href="#bL2" fill="#000" stroke="#000" stroke-width="7.8"/>
<use href="#bL3" fill="#000" stroke="#000" stroke-width="7.8"/>
<use href="#bL4" fill="#000" stroke="#000" stroke-width="7.0"/>
<use href="#bL5" fill="#000" stroke="#000" stroke-width="7.8"/>
<use href="#bL6" fill="#000" stroke="#000" stroke-width="6.2"/>
<use href="#bL7" fill="#000" stroke="#000" stroke-width="6.2"/>
<use href="#bL8" fill="#000" stroke="#000" stroke-width="7.8"/>
<use href="#bL9" fill="#000" stroke="#000" stroke-width="7.8"/>
<use href="#bL10" fill="#000" stroke="#000" stroke-width="7.8"/>
<use href="#bL11" fill="#000" stroke="#000" stroke-width="6.2"/>
<use href="#bL12" fill="#000" stroke="#000" stroke-width="7.8"/>
<use href="#bL13" fill="#000" stroke="#000" stroke-width="7.8"/>
<use href="#bL14" fill="#000" stroke="#000" stroke-width="7.8"/>
<use href="#bL15" fill="#000" stroke="#000" stroke-width="7.8"/>
<use href="#bL16" fill="#000" stroke="#000" stroke-width="7.8"/>
<use href="#bL17" fill="#000" stroke="#000" stroke-width="7.8"/>
<use href="#bL18" fill="#000" stroke="#000" stroke-width="7.8"/>
<use href="#bL19" fill="#000" stroke="#000" stroke-width="7.8"/>
<use href="#bL20" fill="#000" stroke="#000" stroke-width="7.8"/>
<use href="#bL21" fill="#000" stroke="#000" stroke-width="7.8"/>
<use href="#bL22" fill="#000" stroke="#000" stroke-width="7.8"/>
<use href="#bL23" fill="#000" stroke="#000" stroke-width="7.8"/>
<use href="#bL24" fill="#000" stroke="#000" stroke-width="7.8"/>
<use href="#bL25" fill="#000" stroke="#000" stroke-width="5.4"/>
<use href="#bL26" fill="#000" stroke="#000" stroke-width="6.2"/>
<use href="#bL27" fill="#000" stroke="#000" stroke-width="5.4"/>
<use href="#bL28" fill="#000" stroke="#000" stroke-width="7.8"/>
<use href="#bL2" fill="#92DEC8" stroke="#92DEC8" stroke-width="5.0"/>
<use href="#bL3" fill="#F0B8E2" stroke="#F0B8E2" stroke-width="5.0"/>
<use href="#bL4" fill="#A6E45A" stroke="#A6E45A" stroke-width="4.2"/>
<use href="#bL5" fill="#A6E45A" stroke="#A6E45A" stroke-width="5.0"/>
<use href="#bL6" fill="#A6E45A" stroke="#A6E45A" stroke-width="3.4"/>
<use href="#bL7" fill="#A6E45A" stroke="#A6E45A" stroke-width="3.4"/>
<use href="#bL8" fill="#fff" stroke="#fff" stroke-width="5.0"/>
<use href="#bL9" fill="#F0A556" stroke="#F0A556" stroke-width="5.0"/>
<use href="#bL10" fill="#6BCBA3" stroke="#6BCBA3" stroke-width="5.0"/>
<use href="#bL11" fill="#fff" stroke="#fff" stroke-width="3.4"/>
<use href="#bL12" fill="#CDF4C6" stroke="#CDF4C6" stroke-width="5.0"/>
<use href="#bL13" fill="#CDF4C6" stroke="#CDF4C6" stroke-width="5.0"/>
<use href="#bL14" fill="#8096D3" stroke="#8096D3" stroke-width="5.0"/>
<use href="#bL15" fill="#80B2D9" stroke="#80B2D9" stroke-width="5.0"/>
<use href="#bL16" fill="#fff" stroke="#fff" stroke-width="5.0"/>
<path d="M239.9 1728.7 251.1 1730.2 261.4 1728.9 263.2 1727.6 262.6 1725.6 263.4 1723.4 265.6 1721.8 268.1 1721.8 267 1713 270.8 1703 276.4 1698.3 275.5 1697.1 272.9 1688 267.8 1664.8 264 1652.2 258.9 1639.6 254.1 1629.9 248 1624.8 239.8 1627.8 236.7 1632 234.3 1639.2 231.6 1649.7 227.8 1659.8 222.9 1679.7 224 1689.1 228.8 1698.7 240.4 1711.9 240.6 1713.9 238.3 1720.8 239.9 1727Z" fill="#fff" stroke="none"/>
<use href="#bL17" fill="#E172CF" stroke="#E172CF" stroke-width="5.0"/>
<use href="#bL18" fill="#EF776B" stroke="#EF776B" stroke-width="5.0"/>
<path d="M260.9 1818.7 271.7 1818.8 274.4 1816.4 272.8 1799.9 274.1 1784.5 277.2 1758.9 279.6 1745.8 274.6 1743.3 270.8 1735.8 268.9 1728 265.6 1729 264.1 1728.4 262.9 1727 261.1 1727.8 251 1729 240 1728 239.8 1741.1 240.8 1753.7 242.8 1766.2 246.5 1776.1 251.8 1786.8 253.6 1799.8 256.2 1811.4 255.4 1814Z" fill="#EF776B" stroke="none"/>
<use href="#bL19" fill="#F1F064" stroke="#F1F064" stroke-width="5.0"/>
<path d="M270.1 1703 266.3 1714.2 266.8 1721.5 269.1 1722.4 270.2 1724.7 269.7 1727.2 267.8 1728.6 269.7 1736.3 273.6 1744.1 279.2 1746.8 280.7 1744.5 287.2 1741.1 294 1734.3 299.4 1727.8 297 1720.7 282.5 1703.7 275.8 1697.6Z" fill="#F1F064" stroke="none"/>
<use href="#bL20" fill="#D5D5D5" stroke="#D5D5D5" stroke-width="5.0"/>
<path d="M271.3 1817.6 261.5 1817.6 255.7 1813.6 255 1814.4 252.7 1818 247.7 1839.3 243.8 1852.1 242.6 1864.2 244.7 1873.5 250 1880.1 255.8 1882.1 262 1878.4 267.9 1868.9 272.1 1856.1 274.6 1841 275.6 1826 274.3 1815Z" fill="#D5D5D5" stroke="none"/>
<use href="#bL21" fill="#E3BA80" stroke="#E3BA80" stroke-width="5.0"/>
<use href="#bL22" fill="#F1F064" stroke="#F1F064" stroke-width="5.0"/>
<use href="#bL23" fill="#F07C54" stroke="#F07C54" stroke-width="5.0"/>
<use href="#bL24" fill="#BC7AD6" stroke="#BC7AD6" stroke-width="5.0"/>
<use href="#bL25" fill="#BC7AD6" stroke="#BC7AD6" stroke-width="2.6"/>
<use href="#bL26" fill="#BC7AD6" stroke="#BC7AD6" stroke-width="3.4"/>
<use href="#bL27" fill="#A6E45A" stroke="#A6E45A" stroke-width="2.6"/>
<use href="#bL28" fill="#BC7AD6" stroke="#BC7AD6" stroke-width="5.0"/>
</g>
<path d="M171.0 1482.1l-1.0 0.5M169.7 1515.2l1.0 -1.3M224.8 1438.9l0.6 -1.0M201.8 1489.8l-0.1 1.8M185.2 1528.7l1.5 -1.8M197.7 1449.0l-0.3 -1.0M206.9 1511.5l-2.2 1.2M180.2 1461.0l0.6 -1.0M198.9 1485.9l1.1 0.2M191.0 1494.4l-0.3 -2.2M182.5 1450.0l-1.9 1.7M169.9 1499.6l1.8 0.2M182.4 1532.7l1.5 0.4M183.1 1504.1l-1.5 -1.6M238.2 1492.3l-0.8 1.8M201.6 1518.1l1.3 1.6M228.1 1446.4l1.8 -1.3M171.9 1475.4l-1.1 -1.7M197.8 1479.8l1.2 1.7M221.9 1504.7l-0.4 0.5M196.1 1464.4l-1.5 1.9M232.4 1453.4l1.6 2.1M179.3 1477.6l1.4 1.7M197.6 1457.0l-2.1 1.0M184.0 1534.8l-0.7 1.9M199.3 1527.3l1.3 1.6M207.8 1429.5l1.4 -1.0M231.4 1443.5l1.3 -1.7M202.7 1449.2l1.6 1.6M185.2 1518.0l-1.2 1.4M200.2 1474.5l-0.2 -0.9M208.2 1510.1l1.3 -1.2M176.5 1459.2l-2.1 -1.4M240.9 1493.3l-0.8 1.6M207.1 1513.7l2.1 -1.0M168.8 1493.9l0.6 -0.4M204.0 1526.3l2.1 0.2M211.3 1504.9l1.9 -1.7M234.7 1453.1l2.1 -1.4M211.3 1498.2l2.0 -1.0M197.4 1493.8l-1.7 -0.3M180.4 1509.8l1.0 -0.8M183.1 1471.2l0.5 0.1M217.4 1459.6l-0.5 0.3M189.3 1514.1l-1.1 0.9M170.0 1478.7l-2.2 1.9M193.5 1442.5l0.2 1.0M230.2 1508.3l1.1 0.8M228.9 1459.5l-0.6 -1.9M172.7 1490.2l0.7 -0.7" stroke="#111" stroke-width="0.9" stroke-linecap="round" fill="none"/>
<path d="M189.1 1525.7h0m-1.1 -65h0m-3.1 2.2h0m28 -3.2h0m3.8 0h0m-29.8 15.6h0m-2.1 -3.1h0m16.2 4.6h0m-3.7 0.6h0m7.7 22.4h0m1.6 -3.5h0m17.1 8.3h0m1.1 3.6h0m-23 17.7h0m-3.2 2h0m15.5 -81h0m-10.7 6h0m21.7 -16.6h0m1.8 3.4h0m13.1 46.2h0m0 3.8h0m-8.7 -11.2h0m3.4 18.8h0m-30.5 26.3h0m3 -2.3h0m15.9 -40.6h0m0 3.8h0m-8.4 31.3h0m-2.7 -2.7h0m-25.1 -56.9h0m-3.7 -0.9h0m35.9 53.4h0m-3.1 2h0m-8.8 -37.1h0m-3.4 1.8h0m32 18.5h0m-43.7 20.4h0m47.5 -40.3h0m-32.2 22.2h0m0.8 3.7h0m-17.4 5.5h0m2 3.2h0m8.4 -69.8h0m-34.8 32.2h0m3.7 0.6h0m45 -31.8h0m3.6 1.2h0m-24.5 8h0m0.3 -3.8h0m-0.3 69h0m-28.4 -25.7h0m26.1 13.4h0m23.9 12.5h0m1.4 -22.9h0m-1.2 -3.6h0m8.9 -44.2h0m-1.5 -6.5h0m-27.8 72.5h0m-1.4 -3.5h0m19.7 -70.5h0m17.6 60.2h0m3.8 -0.4h0m-9.2 -30.2h0m-2.6 2.8h0m-19.2 -3.5h0m25.5 44.2h0m-0.4 -3.8h0m11.2 -49h0m-33.8 25.8h0m-0.4 -3.8h0" stroke="#000" stroke-width="5.6" stroke-linecap="round" fill="none"/>
<path d="M189.1 1525.7h0m-1.1 -65h0m-3.1 2.2h0m28 -3.2h0m3.8 0h0m-29.8 15.6h0m-2.1 -3.1h0m16.2 4.6h0m-3.7 0.6h0m7.7 22.4h0m1.6 -3.5h0m17.1 8.3h0m1.1 3.6h0m-23 17.7h0m-3.2 2h0m15.5 -81h0m-10.7 6h0m21.7 -16.6h0m1.8 3.4h0m13.1 46.2h0m0 3.8h0m-8.7 -11.2h0m3.4 18.8h0m-30.5 26.3h0m3 -2.3h0m15.9 -40.6h0m0 3.8h0m-8.4 31.3h0m-2.7 -2.7h0m-25.1 -56.9h0m-3.7 -0.9h0m35.9 53.4h0m-3.1 2h0m-8.8 -37.1h0m-3.4 1.8h0m32 18.5h0m-43.7 20.4h0m47.5 -40.3h0m-32.2 22.2h0m0.8 3.7h0m-17.4 5.5h0m2 3.2h0m8.4 -69.8h0m-34.8 32.2h0m3.7 0.6h0m45 -31.8h0m3.6 1.2h0m-24.5 8h0m0.3 -3.8h0m-0.3 69h0m-28.4 -25.7h0m26.1 13.4h0m23.9 12.5h0m1.4 -22.9h0m-1.2 -3.6h0m8.9 -44.2h0m-1.5 -6.5h0m-27.8 72.5h0m-1.4 -3.5h0m19.7 -70.5h0m17.6 60.2h0m3.8 -0.4h0m-9.2 -30.2h0m-2.6 2.8h0m-19.2 -3.5h0m25.5 44.2h0m-0.4 -3.8h0m11.2 -49h0m-33.8 25.8h0m-0.4 -3.8h0" stroke="#92DEC8" stroke-width="3.9" stroke-linecap="round" fill="none"/>
<path d="M225.4 1442.7h0m3 7.7h0m-4.3 6.4h0m5.1 6.4h0m3.9 3.9h0m-5.7 2.5h0m3.1 3.9h0m3.8 5.1h0m-11.5 -30.8h0m-38.5 59.1h0m3.8 2.5h0m-7.7 -9h0m-2.5 -26.9h0m21.8 12.8h0m26.9 15.4h0" stroke="#000" stroke-width="6.6" stroke-linecap="round" fill="none"/>
<path d="M225.4 1442.7h0m3 7.7h0m-4.3 6.4h0m5.1 6.4h0m3.9 3.9h0m-5.7 2.5h0m3.1 3.9h0m3.8 5.1h0m-11.5 -30.8h0m-38.5 59.1h0m3.8 2.5h0m-7.7 -9h0m-2.5 -26.9h0m21.8 12.8h0m26.9 15.4h0" stroke="#fff" stroke-width="4.6" stroke-linecap="round" fill="none"/>
<path d="M251.8 1402.4l-0.3 1.6M247.2 1397.2l2.2 -0.9M237.1 1390.7l0.5 0.5M244.9 1411.1l1.1 2.0M245.9 1385.5l-1.3 -1.3M235.5 1400.6l0.7 -1.5" stroke="#111" stroke-width="0.9" stroke-linecap="round" fill="none"/>
<path d="M319.9 1470.1l0.7 1.4M344.6 1477.6l2.1 -0.0M310.8 1502.9l-2.0 0.0M302.0 1465.1l0.4 1.6M315.8 1456.1l1.6 -0.3M319.1 1467.9l0.1 -0.2M319.9 1479.7l1.0 -0.4M313.5 1466.5l0.7 -1.5M321.3 1461.2l-0.1 2.1M337.3 1470.3l-0.7 0.8" stroke="#111" stroke-width="0.9" stroke-linecap="round" fill="none"/>
<path d="M308.5 1466.2h0m3.6 -13h0m29.3 20.5h0m-5.2 -8.9h0m2.4 3h0m-20 13.2h0m-18.5 -18.5h0m1.2 -3.6h0m-7.6 14.7h0m-3.3 -2h0" stroke="#000" stroke-width="5.6" stroke-linecap="round" fill="none"/>
<path d="M308.5 1466.2h0m3.6 -13h0m29.3 20.5h0m-5.2 -8.9h0m2.4 3h0m-20 13.2h0m-18.5 -18.5h0m1.2 -3.6h0m-7.6 14.7h0m-3.3 -2h0" stroke="#A6E45A" stroke-width="3.9" stroke-linecap="round" fill="none"/>
<path d="M284.4 1484.3h0m22.6 22h0m-8.5 -32.8h0m11.6 16.7h0" stroke="#000" stroke-width="6.8" stroke-linecap="round" fill="none"/>
<path d="M284.4 1484.3h0m22.6 22h0m-8.5 -32.8h0m11.6 16.7h0" stroke="#fff" stroke-width="4.8" stroke-linecap="round" fill="none"/>
<path d="M109.3 1535.6h0m9.5 16.9h0" stroke="#000" stroke-width="6.4" stroke-linecap="round" fill="none"/>
<path d="M109.3 1535.6h0m9.5 16.9h0" stroke="#fff" stroke-width="4.4" stroke-linecap="round" fill="none"/>
<path d="M288.2 1556.9h0m-6.9 30h0" stroke="#000" stroke-width="6.6" stroke-linecap="round" fill="none"/>
<path d="M288.2 1556.9h0m-6.9 30h0" stroke="#fff" stroke-width="4.6" stroke-linecap="round" fill="none"/>
<path d="M389.2 1581.2l0.4 -0.7M397.8 1615.0l0.3 -1.3M395.3 1607.9l0.7 -1.2M398.8 1561.0l-1.7 1.5M384.1 1599.1l-0.6 1.2M403.3 1589.9l0.3 1.4M392.0 1590.4l1.5 2.1M380.4 1599.2l1.4 0.5M400.2 1616.3l0.6 -2.1M398.8 1624.8l1.9 1.4" stroke="#111" stroke-width="0.9" stroke-linecap="round" fill="none"/>
<path d="M338.9 1627.7l1.8 -1.8M330.5 1613.0l1.5 -1.1M333.8 1605.1l0.4 0.1M331.6 1626.2l-0.5 -0.8" stroke="#111" stroke-width="0.9" stroke-linecap="round" fill="none"/>
<path d="M324.2 1608.2h0m1.3 -6.4h0" stroke="#000" stroke-width="6.4" stroke-linecap="round" fill="none"/>
<path d="M324.2 1608.2h0m1.3 -6.4h0" stroke="#fff" stroke-width="4.4" stroke-linecap="round" fill="none"/>
<path d="M136.2 1631.2l-0.5 0.1M162.3 1692.8l2.1 1.4M142.7 1633.2l1.3 -1.6M162.2 1683.5l-1.1 0.6M145.3 1653.8l1.6 0.2M145.6 1643.4l-1.7 1.5M158.6 1656.9l1.5 -0.9M149.4 1645.4l1.2 -1.0M161.2 1658.6l1.8 -1.6M146.3 1643.1l-0.3 2.0" stroke="#111" stroke-width="0.9" stroke-linecap="round" fill="none"/>
<path d="M143.3 1779.0l0.1 2.2M141.6 1769.6l0.2 -1.1M145.1 1778.8l1.1 -1.4M132.8 1788.5l-0.6 1.2" stroke="#111" stroke-width="0.9" stroke-linecap="round" fill="none"/>
<path d="M136.8 1660.9h0m-0.8 11.5h0m23.9 3.9h0m3.9 -21.8h0m-9 -29.6h0m-6.5 12.9h0m-8.9 114.9h0m-0.5 7.7h0m-1.3 18h0" stroke="#000" stroke-width="6.6" stroke-linecap="round" fill="none"/>
<path d="M136.8 1660.9h0m-0.8 11.5h0m23.9 3.9h0m3.9 -21.8h0m-9 -29.6h0m-6.5 12.9h0m-8.9 114.9h0m-0.5 7.7h0m-1.3 18h0" stroke="#fff" stroke-width="4.6" stroke-linecap="round" fill="none"/>
<path d="M143.2 1650.1h0" stroke="#000" stroke-width="5.6" stroke-linecap="round" fill="none"/>
<path d="M143.2 1650.1h0" stroke="#F0B8E2" stroke-width="3.6" stroke-linecap="round" fill="none"/>
<path d="M81.5 1672.6l1.2 -2.0M91.5 1675.4l-1.9 1.2M74.6 1669.0l-0.6 -0.5" stroke="#111" stroke-width="0.9" stroke-linecap="round" fill="none"/>
<path d="M87.3 1658.8h0m5.9 8.5h0m2.5 1.3h0" stroke="#000" stroke-width="6.4" stroke-linecap="round" fill="none"/>
<path d="M87.3 1658.8h0m5.9 8.5h0m2.5 1.3h0" stroke="#fff" stroke-width="4.4" stroke-linecap="round" fill="none"/>
<path d="M260 1592.8h0m3.9 -2.5h0m3.8 -1.3h0m-5.1 7.7h0m3.8 -2.6h0" stroke="#000" stroke-width="6.8" stroke-linecap="round" fill="none"/>
<path d="M260 1592.8h0m3.9 -2.5h0m3.8 -1.3h0m-5.1 7.7h0m3.8 -2.6h0" stroke="#fff" stroke-width="4.8" stroke-linecap="round" fill="none"/>
<path d="M265.1 1590.3h0" stroke="#000" stroke-width="6.8" stroke-linecap="round" fill="none"/>
<path d="M265.1 1590.3h0" stroke="#CDF4C6" stroke-width="4.8" stroke-linecap="round" fill="none"/>
<path d="M271.4 1634.9l-0.7 1.7M275.7 1624.6l1.2 0.6M264.6 1608.2l-1.4 2.1M275.1 1633.0l-0.3 1.8M282.2 1595.5l-2.0 -1.7M273.3 1628.2l-1.5 -1.5" stroke="#111" stroke-width="0.9" stroke-linecap="round" fill="none"/>
<path d="M287 1609.5h0m-3.9 11.6h0m-2.6 3.8h0m6 -10.2h0" stroke="#000" stroke-width="6.8" stroke-linecap="round" fill="none"/>
<path d="M287 1609.5h0m-3.9 11.6h0m-2.6 3.8h0m6 -10.2h0" stroke="#F0A556" stroke-width="4.8" stroke-linecap="round" fill="none"/>
<path d="M285.7 1604.4h0m2.5 14.1h0m-11.5 20.6h0m-10.3 -21.9h0m1.3 5.2h0m14.1 21.8h0" stroke="#000" stroke-width="6.8" stroke-linecap="round" fill="none"/>
<path d="M285.7 1604.4h0m2.5 14.1h0m-11.5 20.6h0m-10.3 -21.9h0m1.3 5.2h0m14.1 21.8h0" stroke="#fff" stroke-width="4.8" stroke-linecap="round" fill="none"/>
<path d="M260 1609.5h0m19.3 33.4h0" stroke="#000" stroke-width="6.8" stroke-linecap="round" fill="none"/>
<path d="M260 1609.5h0m19.3 33.4h0" stroke="#A8B4E8" stroke-width="4.8" stroke-linecap="round" fill="none"/>
<path d="M229.6 1658.4h0m17.2 28.4h0m3.1 -28.9h0m12.1 -3h0m4.7 24.2h0m-1.6 20h0m-1.2 -15.3h0m-2.9 0.6h0m-29.6 4.7h0m-1 6.4h0m33.5 23.9h0m5.2 -19.2h0m-8.1 -9.6h0m-1.5 -3.4h0m-26.9 -37.8h0m5.6 4.4h0m22.4 6h0m-24.6 13.8h0m15.2 47.1h0m8.4 -82.6h0m-8.8 51.9h0m-23.8 -6.6h0m34.1 37.7h0m-23.6 5.4h0m30.5 -54.1h0m-21.1 -21.9h0m14.9 55.4h0m-9.1 -3.5h0m-20.5 -64h0m3.4 12.5h0m2.9 48h0m18.9 -3.2h0m-18.7 -29.8h0m31.6 31h0m-32.2 -9.3h0m6.5 -6.8h0m18.2 33.7h0m-37.3 -33.8h0m27.5 -41.3h0m-2.8 -3.5h0m3.4 -2.6h0m-3.8 37.9h0m-2.7 36.4h0m27.7 -16.7h0m-30 36h0m-3.9 -84.6h0m9.8 57.1h0m7.7 -19.1h0m-7.6 29h0m-15.3 -49.5h0m37.1 39.3h0m-18.2 -2.3h0m-10.6 -48.7h0m10.6 45.5h0m-24.5 -1.2h0m26 -24.2h0m2.4 37.2h0m-10.6 6.6h0m4.8 12.3h0m-23.1 -75.3h0m27.6 70.6h0m4.2 -76h0m-21.1 79.6h0m1.4 -72.2h0m0.7 15.8h0m-6 54.1h0m8.5 -81.3h0m-2.1 70.7h0m14.1 -35.6h0m4.2 -0.2h0m-26.2 22.7h0m14.7 -34.6h0m-1.2 11.9h0m3.7 -49.5h0m15.9 66.7h0m-40.6 -28.5h0m4.2 12.5h0m19.2 -47.5h0m20 54.1h0m-10.1 -17.1h0m-20.4 37.1h0m9 22.7h0m7.2 -24.4h0m-17.1 -65.7h0m-0.4 26.3h0m5.4 -34.7h0m-18.6 42.4h0m22.7 -37.1h0m5.8 12.3h0m11.3 13.9h0m0.7 55h0m-12.9 -64h0m12.9 15.6h0m-13.6 20.7h0m-5.5 12.1h0m19.2 9h0m-3.5 17.7h0m-26.6 -47.3h0m17.8 -1h0m-9.3 47.9h0m-5.6 -52.6h0m-4.3 -5.2h0m-10.9 21.7h0m31.6 20.7h0m1.5 19.3h0m-31.8 -66.5h0m23.7 33.8h0m-2 6h0m17.1 8.4h0m-7.7 -68.2h0m-22.9 4.2h0m41.9 49h0m-8.4 8.6h0m-25.3 -72.5h0m-4.5 61.4h0m5.2 25.8h0m-3.1 -2.3h0m24.7 -13.3h0m-33.9 -23.1h0m9.2 -40.6h0m25 57.2h0m-35.8 -19.8h0m27 -23.1h0m4.5 47h0m-9.5 5.5h0m15.3 -53h0m-24 23.6h0m19.5 -28.2h0m-0.2 4.5h0m-27.9 30.3h0m3.8 -50.7h0m10.5 34.4h0m11.8 43.6h0m-3 -18.9h0m-14.6 -10.4h0m29.8 -4.3h0m-31.7 -49.9h0m-11.9 29h0m14.7 44.7h0m-11.9 -38.5h0m37.1 -5.5h0m-25.5 14.3h0m5.1 -22.8h0m10.9 -14.6h0m-4.2 48.6h0m-25.2 21.1h0m35.8 -13.9h0m-14.2 -21.1h0m4.7 -39.7h0m-10.4 63.1h0m23.2 10.9h0m-3.7 13.6h0m9.1 -17.5h0m-23.8 -7.5h0m14.1 5.8h0m-5.9 -1.2h0m15.3 -3.3h0m-13.6 19.1h0m-9.5 -17.5h0m7.8 -5.7h0m-0.4 27.2h0m9.4 -28.2h0m-8.2 8.7h0m3.5 -2.7h0m-10.8 13.9h0m21.5 -12.1h0m-23.1 18.7h0m17.4 -8.9h0m-19.5 11.1h0m1.7 0.1h0m-0.6 -11.2h0m14.1 -18.7h0m-2.2 4.4h0m-4.3 26.7h0m10.3 -24.7h0m0.2 3.2h0m-6.8 17.2h0m1.1 -17.3h0m3.7 -10.9h0m-14.2 13.4h0m18.3 -15.4h0m-22 26.2h0m2.2 -15.9h0m10.1 32h0m-6.4 -35.7h0m-5.1 4.1h0m2.9 4.8h0m-3.8 8.6h0m22 -20.8h0m-10.3 39.6h0m-4.7 -24.3h0m1.3 16.4h0m5.8 -2.4h0m0.6 8.1h0m-13.3 -39.4h0m15.4 29.2h0m5.3 -16.2h0m-5.8 18.8h0m0.2 -32.8h0m-4.5 39.4h0m6.7 -6.1h0m-4.4 -24h0m2.9 -10.8h0m-8.7 24.7h0m0.7 -12.3h0m-7.2 -9.6h0m7.1 5.2h0m19.9 6.6h0m-10.7 19.7h0m-13.6 -17.5h0m6.3 25.5h0m8.5 -41.1h0m-15 9h0m4.8 12.3h0m-1.9 -5.9h0m-6.4 -18.1h0m18.7 1.4h0m-7 39.7h0m6.8 -20h0m-13.9 -18.7h0m2.5 -2h0m8.7 39.5h0m-5.9 -42.1h0m-10.6 4h0m-0.6 7.2h0m9 24.3h0m-1 6.9h0m-2.2 -39.1h0m6.4 32.8h0m8.3 -25.2h0m8.2 4.9h0m-24.7 18.4h0m7.7 0.6h0m-2.9 -36h0m12 23.6h0m-12.3 -16.9h0m0.1 24.9h0m-8.5 -22h0m18.6 6.3h0m-10.8 10h0m10 -4.9h0m1.6 -12.8h0m-7.8 11.9h0m4.7 18h0m-4.4 -11.6h0m-12.3 -5.2h0m6 -0.2h0m3.7 -19h0m5.6 8.2h0m-11.2 15.1h0m3.3 -4.6h0m11.3 6.8h0m-17.9 -18.4h0m12.3 25.2h0m15.8 -14.8h0m-15.6 -2.2h0m-3.6 10.9h0m-7.6 -15.5h0m-0.3 -8.6h0m-1 16h0m0.6 -8.2h0m2.7 11.6h0m2.6 -16.5h0m-5 6.7h0m15.1 28h0m-9.6 -4.4h0m9.1 -20.1h0m12.2 4.2h0m-3.5 -16.5h0m-13 36.4h0m-3.3 -27.4h0m2.2 -7.3h0m-6.4 8.2h0m0.9 17.8h0m11.7 0.4h0m-6.1 -20.6h0m-10 18.7h0m-0.2 -2.2h0m0.7 -9.6h0m0.2 -9.2h0m8.3 36.1h0m4.7 -15.1h0m3.2 1.6h0m-5.7 -28.8h0m-9.2 1.4h0m4.2 30.7h0m5 -33.5h0m2.9 32.1h0m-2.5 6.4h0m3.5 -29.6h0m2.3 34.3h0m-9.8 -44.1h0m13.1 18.6h0m-15.3 25.4h0m9.6 -14.3h0m-1.9 -23.4h0m12.5 2.1h0m-14.7 0.8h0m-11.9 -0.8h0m3.2 19.2h0m6.6 -4.1h0m8.2 12.7h0m-15.9 -13.3h0m17.7 -12.1h0m-7.5 26.6h0m8.8 -25.7h0m-11.5 0h0m10.8 25.5h0m4.6 -14.6h0m-6.6 16.5h0m-0.1 -28.9h0m-15.1 -0.8h0m13.9 -1.2h0m-12.5 30.4h0m15.1 -38.2h0m-3 3.9h0m-12.7 7.9h0m-5.4 -1.9h0m1.7 11.8h0m28.1 -2.8h0m-20.1 1.8h0m10.3 21.5h0m-11.7 -27.3h0m-1.1 -4.3h0m0.6 22.2h0m17.1 -17.1h0m-10.5 -6h0m1.2 -1.7h0m-13.7 -1.8h0m4.2 -5.8h0" stroke="#000" stroke-width="6.2" stroke-linecap="round" fill="none"/>
<path d="M229.6 1658.4h0m17.2 28.4h0m3.1 -28.9h0m12.1 -3h0m4.7 24.2h0m-1.6 20h0m-1.2 -15.3h0m-2.9 0.6h0m-29.6 4.7h0m-1 6.4h0m33.5 23.9h0m5.2 -19.2h0m-8.1 -9.6h0m-1.5 -3.4h0m-26.9 -37.8h0m5.6 4.4h0m22.4 6h0m-24.6 13.8h0m15.2 47.1h0m8.4 -82.6h0m-8.8 51.9h0m-23.8 -6.6h0m34.1 37.7h0m-23.6 5.4h0m30.5 -54.1h0m-21.1 -21.9h0m14.9 55.4h0m-9.1 -3.5h0m-20.5 -64h0m3.4 12.5h0m2.9 48h0m18.9 -3.2h0m-18.7 -29.8h0m31.6 31h0m-32.2 -9.3h0m6.5 -6.8h0m18.2 33.7h0m-37.3 -33.8h0m27.5 -41.3h0m-2.8 -3.5h0m3.4 -2.6h0m-3.8 37.9h0m-2.7 36.4h0m27.7 -16.7h0m-30 36h0m-3.9 -84.6h0m9.8 57.1h0m7.7 -19.1h0m-7.6 29h0m-15.3 -49.5h0m37.1 39.3h0m-18.2 -2.3h0m-10.6 -48.7h0m10.6 45.5h0m-24.5 -1.2h0m26 -24.2h0m2.4 37.2h0m-10.6 6.6h0m4.8 12.3h0m-23.1 -75.3h0m27.6 70.6h0m4.2 -76h0m-21.1 79.6h0m1.4 -72.2h0m0.7 15.8h0m-6 54.1h0m8.5 -81.3h0m-2.1 70.7h0m14.1 -35.6h0m4.2 -0.2h0m-26.2 22.7h0m14.7 -34.6h0m-1.2 11.9h0m3.7 -49.5h0m15.9 66.7h0m-40.6 -28.5h0m4.2 12.5h0m19.2 -47.5h0m20 54.1h0m-10.1 -17.1h0m-20.4 37.1h0m9 22.7h0m7.2 -24.4h0m-17.1 -65.7h0m-0.4 26.3h0m5.4 -34.7h0m-18.6 42.4h0m22.7 -37.1h0m5.8 12.3h0m11.3 13.9h0m0.7 55h0m-12.9 -64h0m12.9 15.6h0m-13.6 20.7h0m-5.5 12.1h0m19.2 9h0m-3.5 17.7h0m-26.6 -47.3h0m17.8 -1h0m-9.3 47.9h0m-5.6 -52.6h0m-4.3 -5.2h0m-10.9 21.7h0m31.6 20.7h0m1.5 19.3h0m-31.8 -66.5h0m23.7 33.8h0m-2 6h0m17.1 8.4h0m-7.7 -68.2h0m-22.9 4.2h0m41.9 49h0m-8.4 8.6h0m-25.3 -72.5h0m-4.5 61.4h0m5.2 25.8h0m-3.1 -2.3h0m24.7 -13.3h0m-33.9 -23.1h0m9.2 -40.6h0m25 57.2h0m-35.8 -19.8h0m27 -23.1h0m4.5 47h0m-9.5 5.5h0m15.3 -53h0m-24 23.6h0m19.5 -28.2h0m-0.2 4.5h0m-27.9 30.3h0m3.8 -50.7h0m10.5 34.4h0m11.8 43.6h0m-3 -18.9h0m-14.6 -10.4h0m29.8 -4.3h0m-31.7 -49.9h0m-11.9 29h0m14.7 44.7h0m-11.9 -38.5h0m37.1 -5.5h0m-25.5 14.3h0m5.1 -22.8h0m10.9 -14.6h0m-4.2 48.6h0m-25.2 21.1h0m35.8 -13.9h0m-14.2 -21.1h0m4.7 -39.7h0m-10.4 63.1h0m23.2 10.9h0m-3.7 13.6h0m9.1 -17.5h0m-23.8 -7.5h0m14.1 5.8h0m-5.9 -1.2h0m15.3 -3.3h0m-13.6 19.1h0m-9.5 -17.5h0m7.8 -5.7h0m-0.4 27.2h0m9.4 -28.2h0m-8.2 8.7h0m3.5 -2.7h0m-10.8 13.9h0m21.5 -12.1h0m-23.1 18.7h0m17.4 -8.9h0m-19.5 11.1h0m1.7 0.1h0m-0.6 -11.2h0m14.1 -18.7h0m-2.2 4.4h0m-4.3 26.7h0m10.3 -24.7h0m0.2 3.2h0m-6.8 17.2h0m1.1 -17.3h0m3.7 -10.9h0m-14.2 13.4h0m18.3 -15.4h0m-22 26.2h0m2.2 -15.9h0m10.1 32h0m-6.4 -35.7h0m-5.1 4.1h0m2.9 4.8h0m-3.8 8.6h0m22 -20.8h0m-10.3 39.6h0m-4.7 -24.3h0m1.3 16.4h0m5.8 -2.4h0m0.6 8.1h0m-13.3 -39.4h0m15.4 29.2h0m5.3 -16.2h0m-5.8 18.8h0m0.2 -32.8h0m-4.5 39.4h0m6.7 -6.1h0m-4.4 -24h0m2.9 -10.8h0m-8.7 24.7h0m0.7 -12.3h0m-7.2 -9.6h0m7.1 5.2h0m19.9 6.6h0m-10.7 19.7h0m-13.6 -17.5h0m6.3 25.5h0m8.5 -41.1h0m-15 9h0m4.8 12.3h0m-1.9 -5.9h0m-6.4 -18.1h0m18.7 1.4h0m-7 39.7h0m6.8 -20h0m-13.9 -18.7h0m2.5 -2h0m8.7 39.5h0m-5.9 -42.1h0m-10.6 4h0m-0.6 7.2h0m9 24.3h0m-1 6.9h0m-2.2 -39.1h0m6.4 32.8h0m8.3 -25.2h0m8.2 4.9h0m-24.7 18.4h0m7.7 0.6h0m-2.9 -36h0m12 23.6h0m-12.3 -16.9h0m0.1 24.9h0m-8.5 -22h0m18.6 6.3h0m-10.8 10h0m10 -4.9h0m1.6 -12.8h0m-7.8 11.9h0m4.7 18h0m-4.4 -11.6h0m-12.3 -5.2h0m6 -0.2h0m3.7 -19h0m5.6 8.2h0m-11.2 15.1h0m3.3 -4.6h0m11.3 6.8h0m-17.9 -18.4h0m12.3 25.2h0m15.8 -14.8h0m-15.6 -2.2h0m-3.6 10.9h0m-7.6 -15.5h0m-0.3 -8.6h0m-1 16h0m0.6 -8.2h0m2.7 11.6h0m2.6 -16.5h0m-5 6.7h0m15.1 28h0m-9.6 -4.4h0m9.1 -20.1h0m12.2 4.2h0m-3.5 -16.5h0m-13 36.4h0m-3.3 -27.4h0m2.2 -7.3h0m-6.4 8.2h0m0.9 17.8h0m11.7 0.4h0m-6.1 -20.6h0m-10 18.7h0m-0.2 -2.2h0m0.7 -9.6h0m0.2 -9.2h0m8.3 36.1h0m4.7 -15.1h0m3.2 1.6h0m-5.7 -28.8h0m-9.2 1.4h0m4.2 30.7h0m5 -33.5h0m2.9 32.1h0m-2.5 6.4h0m3.5 -29.6h0m2.3 34.3h0m-9.8 -44.1h0m13.1 18.6h0m-15.3 25.4h0m9.6 -14.3h0m-1.9 -23.4h0m12.5 2.1h0m-14.7 0.8h0m-11.9 -0.8h0m3.2 19.2h0m6.6 -4.1h0m8.2 12.7h0m-15.9 -13.3h0m17.7 -12.1h0m-7.5 26.6h0m8.8 -25.7h0m-11.5 0h0m10.8 25.5h0m4.6 -14.6h0m-6.6 16.5h0m-0.1 -28.9h0m-15.1 -0.8h0m13.9 -1.2h0m-12.5 30.4h0m15.1 -38.2h0m-3 3.9h0m-12.7 7.9h0m-5.4 -1.9h0m1.7 11.8h0m28.1 -2.8h0m-20.1 1.8h0m10.3 21.5h0m-11.7 -27.3h0m-1.1 -4.3h0m0.6 22.2h0m17.1 -17.1h0m-10.5 -6h0m1.2 -1.7h0m-13.7 -1.8h0m4.2 -5.8h0" stroke="#80B2D9" stroke-width="4.2" stroke-linecap="round" fill="none"/>
<path d="M291.8 1667.3l-2.2 -1.3M294.5 1676.7l-1.0 1.3" stroke="#111" stroke-width="0.9" stroke-linecap="round" fill="none"/>
<path d="M279.3 1662.2h0m-5.2 3.8h0m2.6 15.4h0m10.3 -2.6h0m2.5 9h0m-16.7 -9h0" stroke="#000" stroke-width="6.8" stroke-linecap="round" fill="none"/>
<path d="M279.3 1662.2h0m-5.2 3.8h0m2.6 15.4h0m10.3 -2.6h0m2.5 9h0m-16.7 -9h0" stroke="#fff" stroke-width="4.8" stroke-linecap="round" fill="none"/>
<path d="M271.6 1672.4h0m10.2 -5.1h0" stroke="#000" stroke-width="7.2" stroke-linecap="round" fill="none"/>
<path d="M271.6 1672.4h0m10.2 -5.1h0" stroke="#E172CF" stroke-width="5.2" stroke-linecap="round" fill="none"/>
<path d="M265.0 1773.3l0.2 2.1M246.4 1758.2l-0.5 -0.7M251.4 1738.9l1.4 0.4M268.6 1752.0l1.3 -0.3M248.1 1732.4l1.3 0.2M264.6 1757.1l-1.2 0.7M257.0 1737.8l-1.9 1.9M258.2 1788.2l0.3 -0.1M241.9 1730.8l0.4 -0.2M256.2 1742.3l0.2 1.4M263.8 1780.6l-1.4 2.0M274.5 1790.4l-1.9 -1.7M264.7 1754.7l1.4 1.2M273.7 1791.7l-0.5 -0.0M267.1 1775.1l0.7 -1.8M258.0 1738.0l1.4 1.7M273.5 1810.8l1.8 0.6M258.1 1767.9l-2.2 -1.6M267.7 1791.4l-1.5 0.1M258.0 1747.2l-0.5 0.3M264.7 1810.1l-1.3 0.8M254.7 1790.4l-0.8 0.3M266.9 1798.7l1.8 -0.9M276.6 1767.7l2.0 -0.3M252.9 1768.4l2.1 -0.7M264.2 1737.6l-1.8 -2.2M272.8 1755.9l2.1 -0.4M266.2 1799.0l-1.6 -0.9M261.0 1762.8l-0.6 0.2M255.6 1783.2l-2.0 0.9" stroke="#111" stroke-width="0.9" stroke-linecap="round" fill="none"/>
<path d="M273.8 1759h0m2 -11.5h0m-21 7.7h0m-2.8 2.6h0m9.5 29.2h0m1.5 3.5h0m-8.7 20.7h0m12.8 -73h0m3.8 0.4h0m-1.5 32.2h0m3.8 -0.3h0m-17.5 -2.6h0m8.5 -2.8h0m-3.8 -0.2h0m1.4 2.5h0m1.5 3.5h0m0.9 8.3h0m-16.5 -7.1h0m-3.6 -1h0m18.4 19.8h0m-3.7 0.5h0m9.2 -52.5h0m4 29.8h0m2.9 -2.4h0m-4.6 48.2h0m-2.5 -2.8h0m5 -57h0m-2.1 3.1h0m1.2 11.3h0m-3.7 0.7h0m1.7 -5.1h0m2.9 -12.2h0m3.4 -1.8h0m-5.6 42.3h0m3.6 1.4h0" stroke="#000" stroke-width="5.6" stroke-linecap="round" fill="none"/>
<path d="M273.8 1759h0m2 -11.5h0m-21 7.7h0m-2.8 2.6h0m9.5 29.2h0m1.5 3.5h0m-8.7 20.7h0m12.8 -73h0m3.8 0.4h0m-1.5 32.2h0m3.8 -0.3h0m-17.5 -2.6h0m8.5 -2.8h0m-3.8 -0.2h0m1.4 2.5h0m1.5 3.5h0m0.9 8.3h0m-16.5 -7.1h0m-3.6 -1h0m18.4 19.8h0m-3.7 0.5h0m9.2 -52.5h0m4 29.8h0m2.9 -2.4h0m-4.6 48.2h0m-2.5 -2.8h0m5 -57h0m-2.1 3.1h0m1.2 11.3h0m-3.7 0.7h0m1.7 -5.1h0m2.9 -12.2h0m3.4 -1.8h0m-5.6 42.3h0m3.6 1.4h0" stroke="#EF776B" stroke-width="3.9" stroke-linecap="round" fill="none"/>
<path d="M285.8 1715.6l-1.3 -0.7M291.9 1720.4l0.8 -1.4M282.8 1730.7l0.2 0.8M282.2 1742.9l1.5 -2.1M276.4 1701.3l-1.8 -1.7M290.1 1716.1l-0.2 -1.2M294.3 1734.3l-1.0 -1.4M293.0 1726.2l-2.1 -1.8" stroke="#111" stroke-width="0.9" stroke-linecap="round" fill="none"/>
<path d="M243.5 1851.2l-0.0 -1.9M276.7 1818.4l0.2 -0.8M257.6 1868.0l0.1 1.5M264.8 1825.3l-0.2 2.2M247.3 1862.9l-2.0 -2.0M253.7 1818.7l1.3 -2.0M264.2 1865.8l-1.7 1.4M267.5 1855.5l0.7 -0.2" stroke="#111" stroke-width="0.9" stroke-linecap="round" fill="none"/>
<path d="M268.8 1828.3h0m-12.9 -6.5h0m19 -11.8h0m-19.1 13.5h0m8 5.7h0m-10.4 -4.7h0m2.1 -11.5h0m-2 2.9h0m18.2 3.3h0m-15.2 2.9h0m15.8 -10.6h0m-7.9 15.1h0m-6.7 0.2h0" stroke="#EF776B" stroke-width="3" stroke-linecap="round" fill="none"/>
<path d="M262.7 1817.9h0m13.6 -2.9h0m-16.1 6.5h0m6.2 -18.3h0m6.3 14.3h0m-1.8 -4.3h0m-10.4 -10.3h0" stroke="#D5D5D5" stroke-width="3" stroke-linecap="round" fill="none"/>
<path d="M276.7 1751.5h0m-3.9 12.8h0m-5.1 -3.9h0m9 92.4h0" stroke="#000" stroke-width="6.6" stroke-linecap="round" fill="none"/>
<path d="M276.7 1751.5h0m-3.9 12.8h0m-5.1 -3.9h0m9 92.4h0" stroke="#fff" stroke-width="4.6" stroke-linecap="round" fill="none"/>
<path d="M290.8 1695.5h0m0.8 9.2h0" stroke="#000" stroke-width="6.6" stroke-linecap="round" fill="none"/>
<path d="M290.8 1695.5h0m0.8 9.2h0" stroke="#F1F064" stroke-width="4.6" stroke-linecap="round" fill="none"/>
<path d="M338.8 1689.8h0" stroke="#000" stroke-width="7.2" stroke-linecap="round" fill="none"/>
<path d="M338.8 1689.8h0" stroke="#BDBDBD" stroke-width="5.2" stroke-linecap="round" fill="none"/>
<path d="M201 1788.7h0m1.8 6.4h0m8.4 -20.5h0" stroke="#000" stroke-width="6.6" stroke-linecap="round" fill="none"/>
<path d="M201 1788.7h0m1.8 6.4h0m8.4 -20.5h0" stroke="#fff" stroke-width="4.6" stroke-linecap="round" fill="none"/>
<path d="M341.4 1811.8h0" stroke="#000" stroke-width="6.6" stroke-linecap="round" fill="none"/>
<path d="M341.4 1811.8h0" stroke="#BC7AD6" stroke-width="4.6" stroke-linecap="round" fill="none"/>
<path d="M359.6 1870.5l-0.2 0.6M336.9 1861.7l-0.9 -1.9M353.9 1872.3l1.6 -1.2M359.1 1873.5l2.0 0.6M361.8 1874.5l-0.4 -0.7M337.5 1865.1l0.6 -0.8" stroke="#111" stroke-width="0.9" stroke-linecap="round" fill="none"/>
<path d="M347.3 1847.7h0m3.8 5.1h0m2.6 5.2h0m-5.1 -1.3h0m6.4 6.4h0m-9 -1.3h0m-3.8 -3.8h0m14.6 1.8h0m-6.2 3.3h0" stroke="#000" stroke-width="6.8" stroke-linecap="round" fill="none"/>
<path d="M347.3 1847.7h0m3.8 5.1h0m2.6 5.2h0m-5.1 -1.3h0m6.4 6.4h0m-9 -1.3h0m-3.8 -3.8h0m14.6 1.8h0m-6.2 3.3h0" stroke="#fff" stroke-width="4.8" stroke-linecap="round" fill="none"/>
<path d="M348.6 1860.5h0" stroke="#000" stroke-width="6.8" stroke-linecap="round" fill="none"/>
<path d="M348.6 1860.5h0" stroke="#BC7AD6" stroke-width="4.8" stroke-linecap="round" fill="none"/>
<g stroke-dasharray="0 4.6" stroke-linecap="round" stroke-linejoin="round">
<use href="#bR29" fill="#000" stroke="#000" stroke-width="7.8"/>
<use href="#bR30" fill="#000" stroke="#000" stroke-width="7.8"/>
<use href="#bR31" fill="#000" stroke="#000" stroke-width="7.0"/>
<use href="#bR32" fill="#000" stroke="#000" stroke-width="7.8"/>
<use href="#bR33" fill="#000" stroke="#000" stroke-width="6.2"/>
<use href="#bR34" fill="#000" stroke="#000" stroke-width="6.2"/>
<use href="#bR35" fill="#000" stroke="#000" stroke-width="7.8"/>
<use href="#bR36" fill="#000" stroke="#000" stroke-width="7.8"/>
<use href="#bR37" fill="#000" stroke="#000" stroke-width="6.2"/>
<use href="#bR38" fill="#000" stroke="#000" stroke-width="7.8"/>
<use href="#bR39" fill="#000" stroke="#000" stroke-width="7.8"/>
<use href="#bR40" fill="#000" stroke="#000" stroke-width="7.8"/>
<use href="#bR41" fill="#000" stroke="#000" stroke-width="7.8"/>
<use href="#bR42" fill="#000" stroke="#000" stroke-width="7.8"/>
<use href="#bR43" fill="#000" stroke="#000" stroke-width="7.8"/>
<use href="#bR44" fill="#000" stroke="#000" stroke-width="7.8"/>
<use href="#bR45" fill="#000" stroke="#000" stroke-width="7.8"/>
<use href="#bR46" fill="#000" stroke="#000" stroke-width="7.8"/>
<use href="#bR47" fill="#000" stroke="#000" stroke-width="7.8"/>
<use href="#bR48" fill="#000" stroke="#000" stroke-width="7.8"/>
<use href="#bR49" fill="#000" stroke="#000" stroke-width="7.8"/>
<use href="#bR50" fill="#000" stroke="#000" stroke-width="7.8"/>
<use href="#bR51" fill="#000" stroke="#000" stroke-width="7.8"/>
<use href="#bR52" fill="#000" stroke="#000" stroke-width="5.4"/>
<use href="#bR53" fill="#000" stroke="#000" stroke-width="6.2"/>
<use href="#bR54" fill="#000" stroke="#000" stroke-width="5.4"/>
<use href="#bR55" fill="#000" stroke="#000" stroke-width="7.8"/>
<use href="#bR29" fill="#92DEC8" stroke="#92DEC8" stroke-width="5.0"/>
<use href="#bR30" fill="#F0B8E2" stroke="#F0B8E2" stroke-width="5.0"/>
<use href="#bR31" fill="#A6E45A" stroke="#A6E45A" stroke-width="4.2"/>
<use href="#bR32" fill="#A6E45A" stroke="#A6E45A" stroke-width="5.0"/>
<use href="#bR33" fill="#A6E45A" stroke="#A6E45A" stroke-width="3.4"/>
<use href="#bR34" fill="#A6E45A" stroke="#A6E45A" stroke-width="3.4"/>
<use href="#bR35" fill="#F0A556" stroke="#F0A556" stroke-width="5.0"/>
<use href="#bR36" fill="#6BCBA3" stroke="#6BCBA3" stroke-width="5.0"/>
<use href="#bR37" fill="#A6E45A" stroke="#A6E45A" stroke-width="3.4"/>
<use href="#bR38" fill="#CDF4C6" stroke="#CDF4C6" stroke-width="5.0"/>
<use href="#bR39" fill="#CDF4C6" stroke="#CDF4C6" stroke-width="5.0"/>
<use href="#bR40" fill="#8096D3" stroke="#8096D3" stroke-width="5.0"/>
<use href="#bR41" fill="#CDF4C6" stroke="#CDF4C6" stroke-width="5.0"/>
<use href="#bR42" fill="#80B2D9" stroke="#80B2D9" stroke-width="5.0"/>
<use href="#bR43" fill="#80B2D9" stroke="#80B2D9" stroke-width="5.0"/>
<path d="M649 1728.9 659.4 1728.9 667.5 1726.2 671.4 1715.7 674 1705.5 677.7 1699 676.3 1697.4 672.2 1688 660.7 1649.6 658.1 1636.8 653.6 1627.7 646.4 1624.6 638.1 1627.7 634.8 1634.3 631 1646.8 626 1672.3 624.7 1684.6 627.2 1696.7 632.1 1706.5 643.2 1725 644.3 1726.2 644.8 1728.2Z" fill="#80B2D9" stroke="none"/>
<use href="#bR44" fill="#E172CF" stroke="#E172CF" stroke-width="5.0"/>
<use href="#bR45" fill="#EF776B" stroke="#EF776B" stroke-width="5.0"/>
<path d="M661.5 1818.7 672.3 1818.8 675 1816.4 673.4 1799.9 674.7 1784.5 677.8 1758.9 680.2 1745.8 675.2 1743.3 671.4 1735.8 668.9 1725.6 668.4 1725.2 661.7 1727.8 651.6 1729 644.7 1728.4 643.3 1730.7 642.1 1731.2 640.4 1731.2 640.4 1741.1 641.4 1753.7 643.4 1766.2 647.1 1776.1 652.4 1786.8 654.2 1799.8 656.8 1811.4 656 1814Z" fill="#EF776B" stroke="none"/>
<use href="#bR46" fill="#F1F064" stroke="#F1F064" stroke-width="5.0"/>
<path d="M670.7 1703 666.9 1714.2 667.7 1725.9 670.3 1736.3 674.2 1744.1 679.8 1746.8 681.3 1744.5 687.8 1741.1 694.6 1734.3 700 1727.8 697.6 1720.7 683.1 1703.7 676.4 1697.6Z" fill="#F1F064" stroke="none"/>
<use href="#bR47" fill="#D5D5D5" stroke="#D5D5D5" stroke-width="5.0"/>
<path d="M671.9 1817.6 662.1 1817.6 656.3 1813.6 655.6 1814.4 653.3 1818 648.3 1839.3 644.4 1852.1 643.2 1864.2 645.3 1873.5 650.6 1880.1 656.4 1882.1 662.6 1878.4 668.5 1868.9 672.7 1856.1 675.2 1841 676.2 1826 674.9 1815Z" fill="#D5D5D5" stroke="none"/>
<use href="#bR48" fill="#E3BA80" stroke="#E3BA80" stroke-width="5.0"/>
<use href="#bR49" fill="#F1F064" stroke="#F1F064" stroke-width="5.0"/>
<use href="#bR50" fill="#F07C54" stroke="#F07C54" stroke-width="5.0"/>
<use href="#bR51" fill="#BC7AD6" stroke="#BC7AD6" stroke-width="5.0"/>
<use href="#bR52" fill="#BC7AD6" stroke="#BC7AD6" stroke-width="2.6"/>
<use href="#bR53" fill="#BC7AD6" stroke="#BC7AD6" stroke-width="3.4"/>
<use href="#bR54" fill="#A6E45A" stroke="#A6E45A" stroke-width="2.6"/>
<use href="#bR55" fill="#BC7AD6" stroke="#BC7AD6" stroke-width="5.0"/>
</g>
<path d="M602.2 1502.3l1.0 -1.1M635.4 1473.8l0.3 -1.8M603.8 1506.4l0.3 -2.1M570.1 1513.4l-1.2 -1.4M610.8 1491.7l-1.0 1.8M633.5 1499.2l0.2 2.1M602.5 1507.2l-1.8 -1.3M574.3 1485.3l0.0 0.9M590.1 1529.4l-0.6 0.4M586.4 1474.0l-0.3 2.0M637.0 1466.4l-1.4 -0.6M587.8 1487.3l-0.5 -1.3M638.9 1485.4l-1.2 -1.7M625.5 1445.5l2.1 -1.7M572.3 1514.2l-1.7 -1.6M630.2 1506.1l1.2 0.9M588.7 1506.1l0.3 -2.0M619.3 1435.0l-0.8 -1.7M610.7 1522.8l-1.0 0.4M565.9 1485.9l-0.8 2.1M594.4 1481.9l-0.2 0.2M635.8 1497.4l-0.9 1.6M630.6 1486.8l-1.4 -1.9M606.9 1489.9l1.5 -0.1M624.7 1437.2l0.8 -1.4M602.8 1461.0l2.2 -0.0M593.5 1522.0l-1.7 -0.3M635.2 1495.5l0.7 -1.8M625.2 1464.7l-1.6 -0.4M629.3 1450.3l0.4 -1.8M632.6 1440.6l1.9 2.1M619.5 1518.0l-1.9 2.1M571.0 1516.9l-0.7 0.4M573.4 1519.1l2.2 -1.7M605.5 1430.6l1.5 1.0M570.1 1504.0l-1.0 0.9M637.6 1448.2l0.4 -1.0M636.1 1445.7l1.3 0.6M639.9 1465.4l-0.4 -0.1M577.6 1483.8l0.5 -0.4" stroke="#111" stroke-width="0.9" stroke-linecap="round" fill="none"/>
<path d="M603.2 1457.1h0m1 42.1h0m3.1 2.3h0m-12.2 3.9h0m-2.7 -2.7h0m31.9 13.3h0m-43.5 -12.7h0m-0.2 3.8h0m11.4 20h0m3.7 -1.1h0m-28.3 -50.6h0m27.8 -14h0m-3.7 0.9h0m-24 28.3h0m21.3 18h0m2.5 2.9h0m30.2 -29.3h0m-1.8 -3.3h0m-2.6 27.2h0m-3.8 0.6h0m19.1 -22.1h0m-3.8 0.1h0" stroke="#000" stroke-width="5.6" stroke-linecap="round" fill="none"/>
<path d="M603.2 1457.1h0m1 42.1h0m3.1 2.3h0m-12.2 3.9h0m-2.7 -2.7h0m31.9 13.3h0m-43.5 -12.7h0m-0.2 3.8h0m11.4 20h0m3.7 -1.1h0m-28.3 -50.6h0m27.8 -14h0m-3.7 0.9h0m-24 28.3h0m21.3 18h0m2.5 2.9h0m30.2 -29.3h0m-1.8 -3.3h0m-2.6 27.2h0m-3.8 0.6h0m19.1 -22.1h0m-3.8 0.1h0" stroke="#92DEC8" stroke-width="3.9" stroke-linecap="round" fill="none"/>
<path d="M627.2 1442.7h0m2.6 6.4h0m-3.8 5.1h0m3 6.4h0m3.4 5.2h0m2.5 2.5h0m-6.4 -1.2h0m10.3 5.1h0m1.3 -37.2h0m-23.1 82.1h0" stroke="#000" stroke-width="6.6" stroke-linecap="round" fill="none"/>
<path d="M627.2 1442.7h0m2.6 6.4h0m-3.8 5.1h0m3 6.4h0m3.4 5.2h0m2.5 2.5h0m-6.4 -1.2h0m10.3 5.1h0m1.3 -37.2h0m-23.1 82.1h0" stroke="#fff" stroke-width="4.6" stroke-linecap="round" fill="none"/>
<path d="M647.1 1399.4l0.1 0.5M636.8 1383.7l1.2 -0.3M631.4 1412.3l0.3 0.6M633.4 1421.6l0.1 -0.6M638.2 1384.6l-1.5 -1.5M633.9 1433.3l0.8 -0.9" stroke="#111" stroke-width="0.9" stroke-linecap="round" fill="none"/>
<path d="M699.4 1459.8l0.8 1.4M734.9 1471.5l1.3 -1.3M715.2 1471.9l-0.4 -1.4M717.5 1468.3l1.7 2.0M733.0 1474.3l1.7 -1.2M736.5 1455.4l2.0 1.9M710.5 1484.7l0.6 0.6M704.7 1452.2l1.8 2.1M705.0 1475.8l-1.3 0.9M732.8 1462.8l-1.5 -0.4" stroke="#111" stroke-width="0.9" stroke-linecap="round" fill="none"/>
<path d="M712.3 1462.8h0m-2.5 2.8h0m21.9 7.6h0m-17.7 14.2h0m-0.9 -3.7h0m22.8 -19.3h0m2.6 2.8h0m-9.6 5h0m2.3 3h0m-28.1 -12.3h0" stroke="#000" stroke-width="5.6" stroke-linecap="round" fill="none"/>
<path d="M712.3 1462.8h0m-2.5 2.8h0m21.9 7.6h0m-17.7 14.2h0m-0.9 -3.7h0m22.8 -19.3h0m2.6 2.8h0m-9.6 5h0m2.3 3h0m-28.1 -12.3h0" stroke="#A6E45A" stroke-width="3.9" stroke-linecap="round" fill="none"/>
<path d="M697.8 1473.5h0m9.8 5.1h0m5.6 9h0m33.4 -10.3h0m-26.9 2.6h0" stroke="#000" stroke-width="6.8" stroke-linecap="round" fill="none"/>
<path d="M697.8 1473.5h0m9.8 5.1h0m5.6 9h0m33.4 -10.3h0m-26.9 2.6h0" stroke="#fff" stroke-width="4.8" stroke-linecap="round" fill="none"/>
<path d="M688.8 1565.9h0" stroke="#000" stroke-width="6.6" stroke-linecap="round" fill="none"/>
<path d="M688.8 1565.9h0" stroke="#fff" stroke-width="4.6" stroke-linecap="round" fill="none"/>
<path d="M808.2 1585.8l2.0 -0.1M792.3 1581.6l1.6 0.4M801.9 1612.5l-1.3 0.3M794.8 1582.5l1.5 -2.0M775.6 1602.5l-2.2 0.6M795.6 1589.7l0.9 2.1M809.3 1585.9l1.5 1.0M809.1 1614.9l0.4 0.2M790.4 1571.4l-0.9 -0.1M797.1 1593.2l-0.1 0.4M770.2 1600.6l0.5 0.8M807.8 1571.6l1.4 -0.1M793.5 1584.1l0.9 0.1M797.6 1597.6l-0.3 -0.8M773.7 1607.4l-1.9 1.7M794.3 1617.3l-0.4 -0.1M798.7 1617.1l-0.0 1.9M812.2 1595.8l-0.7 0.9M788.6 1597.1l-2.1 -0.9M797.8 1602.9l-1.4 -0.7M774.9 1599.5l-1.2 -1.2M796.6 1582.6l1.8 -0.7M795.4 1610.8l0.4 1.5M787.4 1585.6l0.7 -1.6M772.1 1603.8l-0.9 0.9" stroke="#111" stroke-width="0.9" stroke-linecap="round" fill="none"/>
<path d="M797.7 1606.4h0m6.3 8.7h0m-25.5 -7.6h0m29.5 -31.2h0m1.8 -3.3h0m-14.8 -15.5h0m-0.2 3.8h0m3.8 27.6h0m0.8 32.8h0m-3.7 1h0m7.4 0.6h0m-7.5 -6.1h0m-9.3 -29h0m-16.8 11.2h0m2.4 2.9h0m34.5 -19.4h0m0.4 -3.8h0m-30.1 33.2h0m-3.8 -0.1h0m28.9 -35.6h0m-29.8 31.3h0m0.6 3.7h0m31.5 -30.8h0m-3.7 1h0m6.2 29.4h0m3.7 0.7h0m-6 11.1h0m-1.5 3.5h0m-35.2 -18.2h0m28.6 11.4h0m-2.6 -2.7h0" stroke="#000" stroke-width="5.6" stroke-linecap="round" fill="none"/>
<path d="M797.7 1606.4h0m6.3 8.7h0m-25.5 -7.6h0m29.5 -31.2h0m1.8 -3.3h0m-14.8 -15.5h0m-0.2 3.8h0m3.8 27.6h0m0.8 32.8h0m-3.7 1h0m7.4 0.6h0m-7.5 -6.1h0m-9.3 -29h0m-16.8 11.2h0m2.4 2.9h0m34.5 -19.4h0m0.4 -3.8h0m-30.1 33.2h0m-3.8 -0.1h0m28.9 -35.6h0m-29.8 31.3h0m0.6 3.7h0m31.5 -30.8h0m-3.7 1h0m6.2 29.4h0m3.7 0.7h0m-6 11.1h0m-1.5 3.5h0m-35.2 -18.2h0m28.6 11.4h0m-2.6 -2.7h0" stroke="#F0A556" stroke-width="3.9" stroke-linecap="round" fill="none"/>
<path d="M738.9 1615.8l0.1 -1.1M730.1 1614.1l-0.8 0.4M736.2 1620.2l1.4 -0.6M733.5 1620.2l-1.8 0.9" stroke="#111" stroke-width="0.9" stroke-linecap="round" fill="none"/>
<path d="M538.2 1629.3l-1.9 -0.2M531.4 1633.7l-0.4 -0.1M533.3 1640.9l-0.4 -1.2M544.6 1633.8l1.7 -1.0M553.5 1646.7l2.0 0.8M528.3 1624.6l-1.1 0.2M543.8 1646.3l1.3 -0.9M544.8 1646.6l-0.4 -1.8M532.3 1636.5l0.6 -1.3M543.6 1629.3l2.1 -0.6" stroke="#111" stroke-width="0.9" stroke-linecap="round" fill="none"/>
<path d="M548.5 1769.7l1.0 -1.2M552.0 1749.6l-0.0 -0.6M538.4 1787.6l-1.0 1.8M545.3 1738.4l0.9 -1.3" stroke="#111" stroke-width="0.9" stroke-linecap="round" fill="none"/>
<path d="M537.4 1660.9h0m-0.8 11.5h0m23.9 3.9h0m3.9 -21.8h0m-9 -29.6h0m-6.5 12.9h0m-8.9 114.9h0m-0.5 7.7h0m-1.3 18h0" stroke="#000" stroke-width="6.6" stroke-linecap="round" fill="none"/>
<path d="M537.4 1660.9h0m-0.8 11.5h0m23.9 3.9h0m3.9 -21.8h0m-9 -29.6h0m-6.5 12.9h0m-8.9 114.9h0m-0.5 7.7h0m-1.3 18h0" stroke="#fff" stroke-width="4.6" stroke-linecap="round" fill="none"/>
<path d="M492.5 1675.4l1.1 1.7M481.5 1670.3l-1.2 -1.0M487.2 1664.0l-0.4 -0.2" stroke="#111" stroke-width="0.9" stroke-linecap="round" fill="none"/>
<path d="M671.0 1601.9l1.3 -1.9M665.6 1623.6l-0.8 -0.3M667.8 1622.5l2.0 1.1M678.4 1605.4l-0.8 1.7M673.2 1630.6l1.2 -1.6M673.8 1604.7l-0.8 -0.7" stroke="#111" stroke-width="0.9" stroke-linecap="round" fill="none"/>
<path d="M687.6 1609.5h0m-3.9 11.6h0m-2.6 3.8h0m6 -10.2h0" stroke="#000" stroke-width="6.8" stroke-linecap="round" fill="none"/>
<path d="M687.6 1609.5h0m-3.9 11.6h0m-2.6 3.8h0m6 -10.2h0" stroke="#F0A556" stroke-width="4.8" stroke-linecap="round" fill="none"/>
<path d="M686.3 1604.4h0m2.5 14.1h0m-11.5 20.6h0m-10.3 -21.9h0m1.3 5.2h0m14.1 21.8h0" stroke="#000" stroke-width="6.8" stroke-linecap="round" fill="none"/>
<path d="M686.3 1604.4h0m2.5 14.1h0m-11.5 20.6h0m-10.3 -21.9h0m1.3 5.2h0m14.1 21.8h0" stroke="#fff" stroke-width="4.8" stroke-linecap="round" fill="none"/>
<path d="M640.3 1661.6l1.9 -1.8M661.3 1698.1l-1.9 -2.0M650.0 1650.4l-1.3 -1.3M644.7 1720.0l-0.8 -0.9M655.1 1625.7l1.4 0.8M634.5 1643.4l-1.0 0.9M639.4 1716.5l2.2 2.2M654.4 1721.5l1.1 1.1M643.2 1680.5l1.8 -2.2M647.2 1659.3l-0.9 1.4M655.1 1671.4l1.2 -0.4M657.2 1667.2l-0.4 0.4M648.5 1665.4l0.7 -0.1M643.7 1640.9l0.1 1.1M635.3 1690.6l-1.5 -0.5M642.4 1630.6l-1.2 1.1M669.7 1676.4l-0.1 0.1M658.5 1705.5l1.3 1.1" stroke="#111" stroke-width="0.9" stroke-linecap="round" fill="none"/>
<path d="M689.4 1673.1l-1.9 2.0M674.3 1675.9l-1.0 -1.2M686.8 1665.6l0.7 -1.9" stroke="#111" stroke-width="0.9" stroke-linecap="round" fill="none"/>
<path d="M691.4 1659.6h0m-1.3 20.5h0m2.6 15.4h0" stroke="#000" stroke-width="6.8" stroke-linecap="round" fill="none"/>
<path d="M691.4 1659.6h0m-1.3 20.5h0m2.6 15.4h0" stroke="#fff" stroke-width="4.8" stroke-linecap="round" fill="none"/>
<path d="M671.9 1788.4l0.3 -1.4M644.6 1758.9l-1.3 0.2M667.9 1745.8l1.9 -1.7M668.9 1803.1l-1.3 -0.6M674.0 1785.0l-1.4 -0.4M669.8 1808.7l-0.8 -0.5M655.2 1754.3l-0.2 -1.9M672.3 1796.7l1.4 0.7M679.3 1760.4l-0.6 -1.9M648.4 1734.2l-1.2 -0.9M652.8 1743.5l0.4 2.1M667.6 1746.2l-1.8 0.2M645.2 1764.2l2.2 1.5M642.6 1756.0l-1.4 2.0" stroke="#111" stroke-width="0.9" stroke-linecap="round" fill="none"/>
<path d="M664.6 1816.5h0m3.4 -0.9h0m-15.4 -31.1h0m6.7 -27.8h0m4.6 4.4h0m-15.8 19h0m0.1 2.6h0m3.4 11.3h0" stroke="#000" stroke-width="5.6" stroke-linecap="round" fill="none"/>
<path d="M664.6 1816.5h0m3.4 -0.9h0m-15.4 -31.1h0m6.7 -27.8h0m4.6 4.4h0m-15.8 19h0m0.1 2.6h0m3.4 11.3h0" stroke="#EF776B" stroke-width="3.9" stroke-linecap="round" fill="none"/>
<path d="M673.8 1708.9l-0.5 0.5M677.7 1719.0l-1.9 -1.6M690.1 1710.1l-0.1 -1.5M673.5 1718.7l-1.4 -2.1M685.4 1733.6l0.0 1.0M694.5 1737.9l-0.0 1.9M681.1 1739.7l1.9 2.1M684.0 1719.3l-0.6 -0.0" stroke="#111" stroke-width="0.9" stroke-linecap="round" fill="none"/>
<path d="M657.8 1871.5l-0.1 0.8M647.6 1867.5l-1.8 -1.9M650.5 1877.9l1.1 -2.2M656.2 1857.9l0.4 2.1M664.5 1875.4l-1.8 0.1M646.9 1833.8l-2.2 0.5M655.0 1832.6l2.1 1.2M653.7 1854.9l1.9 -0.1" stroke="#111" stroke-width="0.9" stroke-linecap="round" fill="none"/>
<path d="M661.1 1818.6h0m0.9 10h0m15.3 -1.6h0m-1.4 -3.3h0m-13.8 -13.2h0m-0.5 5.9h0m-6.2 2.8h0m14.5 5.8h0m4.7 -12.8h0m-7 16h0m-7.9 -3.7h0m13.1 -7.3h0m-4.8 6.4h0" stroke="#EF776B" stroke-width="3" stroke-linecap="round" fill="none"/>
<path d="M664.5 1809.2h0m-7 12.5h0m18.8 -3.7h0m-23 -9.9h0m0.7 9.7h0m6.8 -7.9h0m6.9 -0.9h0" stroke="#D5D5D5" stroke-width="3" stroke-linecap="round" fill="none"/>
<path d="M651.6 1797.7h0m1.3 15.4h0m25.7 39.7h0" stroke="#000" stroke-width="6.6" stroke-linecap="round" fill="none"/>
<path d="M651.6 1797.7h0m1.3 15.4h0m25.7 39.7h0" stroke="#fff" stroke-width="4.6" stroke-linecap="round" fill="none"/>
<path d="M691.4 1695.5h0m0.8 9.2h0" stroke="#000" stroke-width="6.6" stroke-linecap="round" fill="none"/>
<path d="M691.4 1695.5h0m0.8 9.2h0" stroke="#fff" stroke-width="4.6" stroke-linecap="round" fill="none"/>
<path d="M739.4 1689.8h0" stroke="#000" stroke-width="7.2" stroke-linecap="round" fill="none"/>
<path d="M739.4 1689.8h0" stroke="#BDBDBD" stroke-width="5.2" stroke-linecap="round" fill="none"/>
<path d="M601.6 1788.7h0m1.8 6.4h0m8.4 -20.5h0" stroke="#000" stroke-width="6.6" stroke-linecap="round" fill="none"/>
<path d="M601.6 1788.7h0m1.8 6.4h0m8.4 -20.5h0" stroke="#fff" stroke-width="4.6" stroke-linecap="round" fill="none"/>
<path d="M753 1750.2h0" stroke="#000" stroke-width="6.4" stroke-linecap="round" fill="none"/>
<path d="M753 1750.2h0" stroke="#fff" stroke-width="4.4" stroke-linecap="round" fill="none"/>
<path d="M745.3 1827.2h0m2.6 -6.4h0m2.6 -13.4h0" stroke="#000" stroke-width="6.6" stroke-linecap="round" fill="none"/>
<path d="M745.3 1827.2h0m2.6 -6.4h0m2.6 -13.4h0" stroke="#fff" stroke-width="4.6" stroke-linecap="round" fill="none"/>
<path d="M738.4 1791.2h0" stroke="#000" stroke-width="6.4" stroke-linecap="round" fill="none"/>
<path d="M738.4 1791.2h0" stroke="#fff" stroke-width="4.4" stroke-linecap="round" fill="none"/>
<path d="M755.0 1886.4l-0.6 0.2M739.5 1877.2l-0.3 2.0M739.5 1875.1l-2.2 -0.9M738.0 1858.4l2.0 0.1M739.0 1875.5l1.2 0.7M762.7 1872.8l-0.2 0.3" stroke="#111" stroke-width="0.9" stroke-linecap="round" fill="none"/>
<path d="M747.9 1847.7h0m3.8 5.1h0m2.6 5.2h0m-5.1 -1.3h0m6.4 6.4h0m-9 -1.3h0m-3.8 -3.8h0m14.6 1.8h0m-6.2 3.3h0" stroke="#000" stroke-width="6.8" stroke-linecap="round" fill="none"/>
<path d="M747.9 1847.7h0m3.8 5.1h0m2.6 5.2h0m-5.1 -1.3h0m6.4 6.4h0m-9 -1.3h0m-3.8 -3.8h0m14.6 1.8h0m-6.2 3.3h0" stroke="#fff" stroke-width="4.8" stroke-linecap="round" fill="none"/>
<path d="M749.2 1860.5h0" stroke="#000" stroke-width="6.8" stroke-linecap="round" fill="none"/>
<path d="M749.2 1860.5h0" stroke="#BC7AD6" stroke-width="4.8" stroke-linecap="round" fill="none"/>
<path d="M749.9 1846.9h0" stroke="#000" stroke-width="6.6" stroke-linecap="round" fill="none"/>
<path d="M749.9 1846.9h0" stroke="#F0A556" stroke-width="4.6" stroke-linecap="round" fill="none"/>
<path d="M753 1856.7h0" stroke="#000" stroke-width="6.6" stroke-linecap="round" fill="none"/>
<path d="M753 1856.7h0" stroke="#E172CF" stroke-width="4.6" stroke-linecap="round" fill="none"/>
<text font-size="20.9" font-weight="bold" x="196.61" y="1395.7" class="lb">FIPs</text>
<text font-size="20.9" font-weight="bold" x="284.4" y="1447.81" class="lb">MesoCs</text>
<text font-size="20.9" font-weight="bold" x="113.69" y="1488.37" class="lb">APCs</text>
<text font-size="20.9" font-weight="bold" x="75.7" y="1575.65" class="lb">SMCs</text>
<text font-size="20.9" font-weight="bold" x="340.36" y="1567.18" class="lb">Adipocytes</text>
<text font-size="20.9" font-weight="bold" x="179.67" y="1634.65" class="lb">LAMs</text>
<text font-size="20.9" font-weight="bold" x="310.07" y="1648" class="lb">T-cells</text>
<text font-size="20.9" font-weight="bold" x="42.59" y="1691.13" class="lb">LECs</text>
<text font-size="20.9" font-weight="bold" x="310.07" y="1680.09" class="lb">P−LAMs</text>
<text font-size="20.9" font-weight="bold" x="113.95" y="1714.23" class="lb">EndoCs</text>
<text font-size="20.9" font-weight="bold" x="305.7" y="1707.81" class="lb">MastCs</text>
<text font-size="20.9" font-weight="bold" x="230.49" y="1729.12" class="lb">Monocytes</text>
<text font-size="20.9" font-weight="bold" x="375.52" y="1727.58" class="lb">B-cells</text>
<text font-size="20.9" font-weight="bold" x="238.71" y="1796.37" class="lb">NPVMs</text>
<text font-size="20.9" font-weight="bold" x="161.18" y="1822.04" class="lb">DCs</text>
<text font-size="20.9" font-weight="bold" x="360.12" y="1863.11" class="lb">EpiCs</text>
<text font-size="20.9" font-weight="bold" x="195.84" y="1892.63" class="lb">PVMs</text>
<text font-size="20.9" font-weight="bold" x="604.82" y="1392.62" class="lb">FIPs</text>
<text font-size="20.9" font-weight="bold" x="676.7" y="1435.49" class="lb">MesoCs</text>
<text font-size="20.9" font-weight="bold" x="508.56" y="1488.88" class="lb">APCs</text>
<text font-size="20.9" font-weight="bold" x="476.99" y="1578.73" class="lb">SMCs</text>
<text font-size="20.9" font-weight="bold" x="760.89" y="1550.23" class="lb">Adipocytes</text>
<text font-size="20.9" font-weight="bold" x="586.85" y="1646.72" class="lb">LAMs</text>
<text font-size="20.9" font-weight="bold" x="717.77" y="1644.15" class="lb">T-cells</text>
<text font-size="20.9" font-weight="bold" x="450.03" y="1656.47" class="lb">LECs</text>
<text font-size="20.9" font-weight="bold" x="702.37" y="1678.29" class="lb">P−LAMs</text>
<text font-size="20.9" font-weight="bold" x="499.58" y="1702.17" class="lb">EndoCs</text>
<text font-size="20.9" font-weight="bold" x="735.22" y="1708.33" class="lb">MastCs</text>
<text font-size="20.9" font-weight="bold" x="625.87" y="1729.12" class="lb">Monocytes</text>
<text font-size="20.9" font-weight="bold" x="807.61" y="1739.9" class="lb">B-cells</text>
<text font-size="20.9" font-weight="bold" x="642.04" y="1789.96" class="lb">NPVMs</text>
<text font-size="20.9" font-weight="bold" x="564.52" y="1813.06" class="lb">DCs</text>
<text font-size="20.9" font-weight="bold" x="761.41" y="1870.81" class="lb">EpiCs</text>
<text font-size="20.9" font-weight="bold" x="600.97" y="1892.63" class="lb">PVMs</text>
<text font-size="20.5" text-anchor="middle" textLength="40.5" lengthAdjust="spacingAndGlyphs" x="258.98" y="1957.3" class="ns">CCH</text>
<text font-size="20.5" text-anchor="middle" textLength="40.5" lengthAdjust="spacingAndGlyphs" x="649.74" y="1957.3" class="ns">HCH</text>
</g>
<g id="panel_m">
<text font-size="33.5" font-weight="bold" x="922" y="1345.8" >m</text>
<line x1="1067.58" y1="1423.86" x2="1329.07" y2="1423.86" stroke="#C8C8C8" stroke-width="0.8" stroke-dasharray="1.5 3"/>
<line x1="1067.58" y1="1504.89" x2="1329.07" y2="1504.89" stroke="#C8C8C8" stroke-width="0.8" stroke-dasharray="1.5 3"/>
<line x1="1067.58" y1="1585.92" x2="1329.07" y2="1585.92" stroke="#C8C8C8" stroke-width="0.8" stroke-dasharray="1.5 3"/>
<line x1="1067.58" y1="1667.31" x2="1329.07" y2="1667.31" stroke="#C8C8C8" stroke-width="0.8" stroke-dasharray="1.5 3"/>
<line x1="1067.58" y1="1748.34" x2="1329.07" y2="1748.34" stroke="#C8C8C8" stroke-width="0.8" stroke-dasharray="1.5 3"/>
<rect x="1084.89" y="1423.86" width="107.91" height="64.45" fill="#8AB8D8" stroke="#2a2a2a" stroke-width="0.8" />
<rect x="1084.89" y="1488.31" width="107.91" height="158" fill="#DCDCDC" stroke="#2a2a2a" stroke-width="0.8" />
<rect x="1084.89" y="1646.32" width="107.91" height="92.81" fill="#F07A72" stroke="#2a2a2a" stroke-width="0.8" />
<rect x="1084.89" y="1739.13" width="107.91" height="9.21" fill="#E48AD6" stroke="#2a2a2a" stroke-width="0.8" />
<rect x="1204.22" y="1423.86" width="107.54" height="153.21" fill="#8AB8D8" stroke="#2a2a2a" stroke-width="0.8" />
<rect x="1204.22" y="1577.08" width="107.54" height="63.35" fill="#DCDCDC" stroke="#2a2a2a" stroke-width="0.8" />
<rect x="1204.22" y="1640.42" width="107.54" height="90.23" fill="#F07A72" stroke="#2a2a2a" stroke-width="0.8" />
<rect x="1204.22" y="1730.66" width="107.54" height="17.68" fill="#E48AD6" stroke="#2a2a2a" stroke-width="0.8" />
<polyline points="1067.58,1422.86 1067.58,1764.91 1329.07,1764.91" fill="none" stroke="#000" stroke-width="1.8" />
<line x1="1061.32" y1="1423.86" x2="1067.58" y2="1423.86" stroke="#000" stroke-width="1.8" />
<text font-size="21.3" text-anchor="end" x="1057.63" y="1433.36" >1.00</text>
<line x1="1061.32" y1="1504.89" x2="1067.58" y2="1504.89" stroke="#000" stroke-width="1.8" />
<text font-size="21.3" text-anchor="end" x="1057.63" y="1514.39" >0.75</text>
<line x1="1061.32" y1="1585.92" x2="1067.58" y2="1585.92" stroke="#000" stroke-width="1.8" />
<text font-size="21.3" text-anchor="end" x="1057.63" y="1595.42" >0.50</text>
<line x1="1061.32" y1="1667.31" x2="1067.58" y2="1667.31" stroke="#000" stroke-width="1.8" />
<text font-size="21.3" text-anchor="end" x="1057.63" y="1676.81" >0.25</text>
<line x1="1061.32" y1="1748.34" x2="1067.58" y2="1748.34" stroke="#000" stroke-width="1.8" />
<text font-size="21.3" text-anchor="end" x="1057.63" y="1757.84" >0.00</text>
<line x1="1138.66" y1="1764.91" x2="1138.66" y2="1772.28" stroke="#000" stroke-width="1.8" />
<text font-size="21" text-anchor="end" transform="translate(1144.66 1784.28) rotate(-45)" >CCH</text>
<line x1="1257.99" y1="1764.91" x2="1257.99" y2="1772.28" stroke="#000" stroke-width="1.8" />
<text font-size="21" text-anchor="end" transform="translate(1263.99 1784.28) rotate(-45)" >HCH</text>
<text font-size="20.8" x="1330.18" y="1443.38" >Cell types</text>
<rect x="1345.65" y="1466.58" width="26.52" height="26.52" fill="#8AB8D8" stroke="#1a1a1a" stroke-width="1.6" />
<text font-size="21" x="1375.11" y="1485" >LAMs</text>
<rect x="1345.65" y="1496.05" width="26.52" height="26.15" fill="#DCDCDC" stroke="#1a1a1a" stroke-width="1.6" />
<text font-size="21" x="1375.11" y="1514.1" >PVMs</text>
<rect x="1345.65" y="1525.51" width="26.52" height="25.78" fill="#F07A72" stroke="#1a1a1a" stroke-width="1.6" />
<text font-size="21" x="1375.11" y="1543.19" >NPVMs</text>
<rect x="1345.65" y="1554.61" width="26.52" height="26.15" fill="#E48AD6" stroke="#1a1a1a" stroke-width="1.6" />
<text font-size="21" x="1375.11" y="1572.66" >P-LAMs</text>
<text font-size="25" text-anchor="middle" textLength="352" lengthAdjust="spacingAndGlyphs" transform="translate(967.03 1592.54) rotate(-90)" >Macrophage subtype frequence</text>
<text font-size="25" text-anchor="middle" textLength="340" lengthAdjust="spacingAndGlyphs" transform="translate(992.08 1599.17) rotate(-90)" >relative to all macrophages (%)</text>
</g>
<g id="panel_n">
<text font-size="33.5" font-weight="bold" x="29" y="2033" >n</text>
<circle cx="240.5" cy="2246.6" r="62" fill="none" stroke="#E4E4E4" stroke-width="0.8" />
<circle cx="240.5" cy="2246.6" r="72" fill="none" stroke="#E4E4E4" stroke-width="0.8" />
<circle cx="240.5" cy="2246.6" r="83" fill="none" stroke="#E4E4E4" stroke-width="0.8" />
<circle cx="240.5" cy="2246.6" r="93" fill="none" stroke="#E4E4E4" stroke-width="0.8" />
<circle cx="240.5" cy="2246.6" r="116" fill="none" stroke="#E4E4E4" stroke-width="0.8" />
<circle cx="240.5" cy="2246.6" r="139" fill="none" stroke="#E4E4E4" stroke-width="0.8" />
<circle cx="240.5" cy="2246.6" r="162" fill="none" stroke="#E4E4E4" stroke-width="0.8" />
<circle cx="240.5" cy="2246.6" r="188" fill="none" stroke="#E4E4E4" stroke-width="0.8" />
<line x1="285.11" y1="2138.91" x2="312.44" y2="2072.91" stroke="#E4E4E4" stroke-width="0.8" />
<line x1="348.19" y1="2201.99" x2="414.19" y2="2174.66" stroke="#E4E4E4" stroke-width="0.8" />
<line x1="348.19" y1="2291.21" x2="414.19" y2="2318.54" stroke="#E4E4E4" stroke-width="0.8" />
<line x1="285.11" y1="2354.29" x2="312.44" y2="2420.29" stroke="#E4E4E4" stroke-width="0.8" />
<line x1="195.89" y1="2354.29" x2="168.56" y2="2420.29" stroke="#E4E4E4" stroke-width="0.8" />
<line x1="132.81" y1="2291.21" x2="66.81" y2="2318.54" stroke="#E4E4E4" stroke-width="0.8" />
<line x1="132.81" y1="2201.99" x2="66.81" y2="2174.66" stroke="#E4E4E4" stroke-width="0.8" />
<line x1="195.89" y1="2138.91" x2="168.56" y2="2072.91" stroke="#E4E4E4" stroke-width="0.8" />
<path d="M240.5 2246.6L245.2 2066.7A180.0 180.0 0 0 1 371.1 2122.7Z" fill="#FA2814" stroke="#fff" stroke-width="4.6" stroke-linejoin="miter"/>
<path d="M240.5 2246.6L320.1 2171.1A109.7 109.7 0 0 1 350.2 2249.5Z" fill="#FA2814" stroke="#fff" stroke-width="4.6" stroke-linejoin="miter"/>
<path d="M240.5 2246.6L375.8 2250.1A135.3 135.3 0 0 1 333.6 2344.7Z" fill="#FA2814" stroke="#fff" stroke-width="4.6" stroke-linejoin="miter"/>
<path d="M240.5 2246.6L290.6 2299.4A72.8 72.8 0 0 1 238.6 2319.4Z" fill="#F5401E" stroke="#fff" stroke-width="4.6" stroke-linejoin="miter"/>
<path d="M240.5 2246.6L238.1 2339.7A93.1 93.1 0 0 1 173.0 2310.7Z" fill="#EFA77E" stroke="#fff" stroke-width="4.6" stroke-linejoin="miter"/>
<path d="M240.5 2246.6L174.4 2309.3A91.1 91.1 0 0 1 149.4 2244.2Z" fill="#F6FCD2" stroke="#fff" stroke-width="4.6" stroke-linejoin="miter"/>
<path d="M240.5 2246.6L165.7 2244.6A74.8 74.8 0 0 1 189.0 2192.3Z" fill="#F6FCD2" stroke="#fff" stroke-width="4.6" stroke-linejoin="miter"/>
<path d="M240.5 2246.6L179.6 2182.4A88.5 88.5 0 0 1 242.8 2158.1Z" fill="#F6FCD2" stroke="#fff" stroke-width="4.6" stroke-linejoin="miter"/>
<circle cx="240.5" cy="2246.6" r="42" fill="#fff" stroke="#111" stroke-width="1.3" />
<text font-size="20.5" text-anchor="middle" x="228.35" y="2227.11" >11</text>
<text font-size="20.5" text-anchor="middle" x="259.4" y="2229.43" >33</text>
<text font-size="20.5" text-anchor="middle" x="275.36" y="2243.65" >14</text>
<text font-size="20.5" text-anchor="middle" x="271.88" y="2262.51" >20</text>
<text font-size="20.5" text-anchor="middle" x="263.75" y="2282.82" >7</text>
<text font-size="20.5" text-anchor="middle" x="233.28" y="2283.7" >12</text>
<text font-size="20.5" text-anchor="middle" x="212.1" y="2272.96" >10</text>
<text font-size="20.5" text-anchor="middle" x="208.62" y="2245.39" >7</text>
<text font-size="21" textLength="80.79" lengthAdjust="spacingAndGlyphs" x="359.51" y="2096.58" >Immune</text>
<text font-size="21" textLength="74.57" lengthAdjust="spacingAndGlyphs" x="359.51" y="2117.77" >System</text>
<text font-size="21" textLength="101.95" lengthAdjust="spacingAndGlyphs" x="356.61" y="2207.72" >Neutrophil</text>
<text font-size="21" textLength="139.26" lengthAdjust="spacingAndGlyphs" x="356.61" y="2224.26" >Degranulation</text>
<text font-size="21" textLength="62.18" lengthAdjust="spacingAndGlyphs" x="357.19" y="2311.9" >Innate</text>
<text font-size="21" textLength="161.57" lengthAdjust="spacingAndGlyphs" x="357.19" y="2328.73" >Immune System</text>
<text font-size="21" textLength="210.05" lengthAdjust="spacingAndGlyphs" x="280.29" y="2387.34" >RAC1 GTPase Cycle</text>
<text font-size="21" textLength="87.04" lengthAdjust="spacingAndGlyphs" x="100.67" y="2346.14" >Adaptive</text>
<text font-size="21" textLength="80.79" lengthAdjust="spacingAndGlyphs" x="101.83" y="2362.1" >Immune</text>
<text font-size="21" textLength="74.57" lengthAdjust="spacingAndGlyphs" x="92.54" y="2379.51" >System</text>
<text font-size="21" textLength="116.83" lengthAdjust="spacingAndGlyphs" x="66.43" y="2287.52" >Hemostasis</text>
<text font-size="21" textLength="123.06" lengthAdjust="spacingAndGlyphs" x="42.63" y="2203.95" >Extracellular</text>
<text font-size="21" textLength="60.88" lengthAdjust="spacingAndGlyphs" x="42.63" y="2220.49" >Matrix</text>
<text font-size="21" textLength="126.81" lengthAdjust="spacingAndGlyphs" x="42.63" y="2238.77" >Organization</text>
<text font-size="21" textLength="185.25" lengthAdjust="spacingAndGlyphs" x="40.89" y="2128.5" >Cytokine Signaling</text>
<text font-size="21" textLength="186.44" lengthAdjust="spacingAndGlyphs" x="43.21" y="2149.69" >In Immune System</text>
<rect x="33.1" y="2454.4" width="414" height="14.2" fill="url(#cbn)" stroke="#444" stroke-width="1" />
<text font-size="21" text-anchor="middle" textLength="120.59" lengthAdjust="spacingAndGlyphs" x="262.3" y="2447.7" >Adj. P-value</text>
<text font-size="21.5" x="33" y="2486.9" >0.005</text>
<text font-size="21.5" text-anchor="middle" x="179.6" y="2486.9" >0.010</text>
<text font-size="21.5" text-anchor="middle" x="328.7" y="2486.9" >0.015</text>
<text font-size="21.5" text-anchor="middle" x="428.6" y="2486.9" >0.020</text>
</g>
<g id="panel_o">
<text font-size="33.5" font-weight="bold" x="551" y="2033" >o</text>
<circle cx="787.5" cy="2251.3" r="54" fill="none" stroke="#E4E4E4" stroke-width="0.8" />
<circle cx="787.5" cy="2251.3" r="62" fill="none" stroke="#E4E4E4" stroke-width="0.8" />
<circle cx="787.5" cy="2251.3" r="83" fill="none" stroke="#E4E4E4" stroke-width="0.8" />
<circle cx="787.5" cy="2251.3" r="107" fill="none" stroke="#E4E4E4" stroke-width="0.8" />
<circle cx="787.5" cy="2251.3" r="133" fill="none" stroke="#E4E4E4" stroke-width="0.8" />
<line x1="819.06" y1="2175.12" x2="838.4" y2="2128.42" stroke="#E4E4E4" stroke-width="0.8" />
<line x1="863.68" y1="2219.74" x2="910.38" y2="2200.4" stroke="#E4E4E4" stroke-width="0.8" />
<line x1="863.68" y1="2282.86" x2="910.38" y2="2302.2" stroke="#E4E4E4" stroke-width="0.8" />
<line x1="819.06" y1="2327.48" x2="838.4" y2="2374.18" stroke="#E4E4E4" stroke-width="0.8" />
<line x1="755.94" y1="2327.48" x2="736.6" y2="2374.18" stroke="#E4E4E4" stroke-width="0.8" />
<line x1="711.32" y1="2282.86" x2="664.62" y2="2302.2" stroke="#E4E4E4" stroke-width="0.8" />
<line x1="711.32" y1="2219.74" x2="664.62" y2="2200.4" stroke="#E4E4E4" stroke-width="0.8" />
<line x1="755.94" y1="2175.12" x2="736.6" y2="2128.42" stroke="#E4E4E4" stroke-width="0.8" />
<path d="M787.5 2251.3L788.2 2114.8A136.5 136.5 0 0 1 884.5 2155.3Z" fill="#FA2814" stroke="#fff" stroke-width="6" stroke-linejoin="miter"/>
<path d="M787.5 2251.3L832.7 2206.6A63.6 63.6 0 0 1 851.1 2251.6Z" fill="#FA2814" stroke="#fff" stroke-width="6" stroke-linejoin="miter"/>
<path d="M787.5 2251.3L839.8 2251.6A52.3 52.3 0 0 1 824.3 2288.5Z" fill="#F6321A" stroke="#fff" stroke-width="6" stroke-linejoin="miter"/>
<path d="M787.5 2251.3L823.7 2287.9A51.5 51.5 0 0 1 787.2 2302.8Z" fill="#EF9C74" stroke="#fff" stroke-width="6" stroke-linejoin="miter"/>
<path d="M787.5 2251.3L787.2 2303.3A52.0 52.0 0 0 1 750.5 2287.9Z" fill="#F6D3AA" stroke="#fff" stroke-width="6" stroke-linejoin="miter"/>
<path d="M787.5 2251.3L726.4 2311.8A86.0 86.0 0 0 1 701.5 2250.8Z" fill="#F6FCD2" stroke="#fff" stroke-width="6" stroke-linejoin="miter"/>
<path d="M787.5 2251.3L736.5 2251.0A51.0 51.0 0 0 1 751.6 2215.0Z" fill="#F6FCD2" stroke="#fff" stroke-width="6" stroke-linejoin="miter"/>
<path d="M787.5 2251.3L751.1 2214.6A51.7 51.7 0 0 1 787.8 2199.6Z" fill="#F6FCD2" stroke="#fff" stroke-width="6" stroke-linejoin="miter"/>
<circle cx="787.5" cy="2251.3" r="37.7" fill="#fff" stroke="#111" stroke-width="1.3" />
<text font-size="20.5" text-anchor="middle" x="773.59" y="2232.33" >3</text>
<text font-size="20.5" text-anchor="middle" x="796.81" y="2232.33" >25</text>
<text font-size="20.5" text-anchor="middle" x="815.09" y="2248.87" >6</text>
<text font-size="20.5" text-anchor="middle" x="814.22" y="2271.22" >3</text>
<text font-size="20.5" text-anchor="middle" x="800.58" y="2283.7" >3</text>
<text font-size="20.5" text-anchor="middle" x="780.85" y="2284.57" >4</text>
<text font-size="20.5" text-anchor="middle" x="763.44" y="2275.57" >12</text>
<text font-size="20.5" text-anchor="middle" x="759.67" y="2250.91" >3</text>
<text font-size="21" x="842.37" y="2121.83" >Metabolism</text>
<text font-size="21" x="869.93" y="2200.47" >Integration Of</text>
<text font-size="21" x="860.65" y="2224.55" >Energy</text>
<text font-size="21" x="860.65" y="2246.03" >Metabolism</text>
<text font-size="21" x="858.33" y="2286.07" >PI3K Events In</text>
<text font-size="21" x="858.33" y="2307.54" >ERBB4 Signaling</text>
<text font-size="21" x="802.03" y="2360.07" >PI3K Events In</text>
<text font-size="21" x="802.03" y="2380.96" >ERBB2 Signaling</text>
<text font-size="21" x="625.02" y="2340.33" >Ion</text>
<text font-size="21" x="625.02" y="2361.23" >Homeostasis</text>
<text font-size="21" x="574.82" y="2289.55" >Metabolism Of</text>
<text font-size="21" x="574.82" y="2310.74" >Lipids</text>
<text font-size="21" x="598.91" y="2212.08" >Signaling By</text>
<text font-size="21" x="551.03" y="2232.97" >ERBB2 KD Mutants</text>
<text font-size="21" x="596.58" y="2140.98" >Growth Hormone</text>
<text font-size="21" x="582.66" y="2163.33" >Receptor Signaling</text>
<rect x="575.4" y="2453.5" width="423.1" height="13.6" fill="url(#cbo)" stroke="#444" stroke-width="1" />
<text font-size="21" text-anchor="middle" x="760.5" y="2446.3" >Adj. P-value</text>
<text font-size="21.5" text-anchor="middle" x="592.2" y="2488.3" >0.002</text>
<text font-size="21.5" text-anchor="middle" x="697.6" y="2488.3" >0.004</text>
<text font-size="21.5" text-anchor="middle" x="789.6" y="2488.3" >0.006</text>
<text font-size="21.5" text-anchor="middle" x="883.3" y="2488.3" >0.008</text>
<text font-size="21.5" text-anchor="middle" x="986.9" y="2488.3" >0.010</text>
</g>
</svg>
</body>
</html>
